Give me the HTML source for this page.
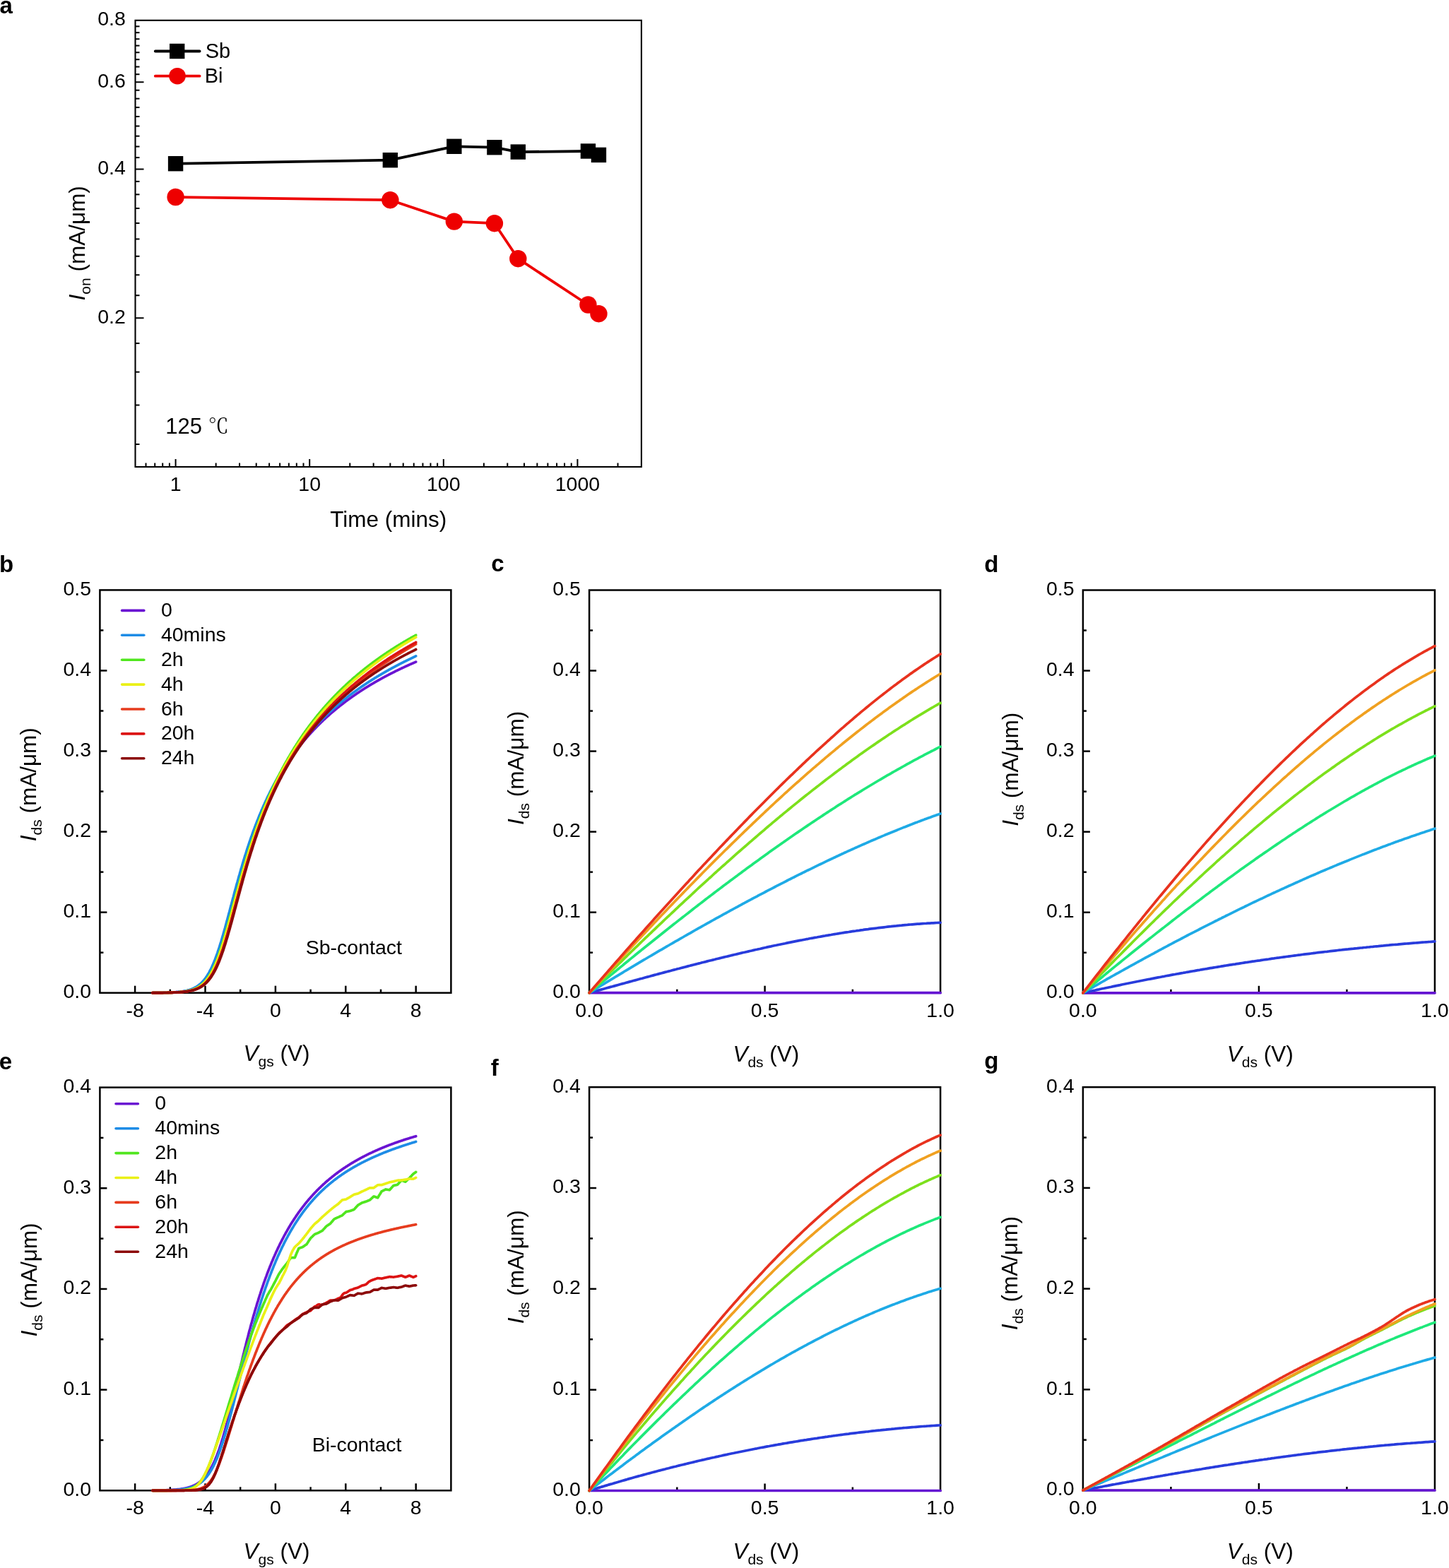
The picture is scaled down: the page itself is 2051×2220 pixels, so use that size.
<!DOCTYPE html>
<html><head><meta charset="utf-8"><title>Figure</title>
<style>
html,body{margin:0;padding:0;background:#fff;}
svg{display:block;}
</style></head>
<body>
<svg xmlns="http://www.w3.org/2000/svg" width="2051" height="2220" viewBox="0 0 2051 2220" font-family="'Liberation Sans', Arial, Helvetica, sans-serif" fill="#000">
<rect width="2051" height="2220" fill="#fff"/>
<rect x="191.5" y="28.8" width="716.4" height="632.2" fill="none" stroke="#000" stroke-width="2.1"/>
<line x1="191.5" y1="450.27" x2="203.5" y2="450.27" stroke="#000" stroke-width="2.0" stroke-linecap="butt"/>
<line x1="191.5" y1="239.53" x2="203.5" y2="239.53" stroke="#000" stroke-width="2.0" stroke-linecap="butt"/>
<line x1="191.5" y1="116.26" x2="203.5" y2="116.26" stroke="#000" stroke-width="2.0" stroke-linecap="butt"/>
<line x1="191.5" y1="418.23" x2="197.5" y2="418.23" stroke="#000" stroke-width="2.0" stroke-linecap="butt"/>
<line x1="191.5" y1="389.26" x2="197.5" y2="389.26" stroke="#000" stroke-width="2.0" stroke-linecap="butt"/>
<line x1="191.5" y1="362.8" x2="197.5" y2="362.8" stroke="#000" stroke-width="2.0" stroke-linecap="butt"/>
<line x1="191.5" y1="338.47" x2="197.5" y2="338.47" stroke="#000" stroke-width="2.0" stroke-linecap="butt"/>
<line x1="191.5" y1="315.94" x2="197.5" y2="315.94" stroke="#000" stroke-width="2.0" stroke-linecap="butt"/>
<line x1="191.5" y1="294.96" x2="197.5" y2="294.96" stroke="#000" stroke-width="2.0" stroke-linecap="butt"/>
<line x1="191.5" y1="275.34" x2="197.5" y2="275.34" stroke="#000" stroke-width="2.0" stroke-linecap="butt"/>
<line x1="191.5" y1="256.91" x2="197.5" y2="256.91" stroke="#000" stroke-width="2.0" stroke-linecap="butt"/>
<line x1="191.5" y1="223.1" x2="197.5" y2="223.1" stroke="#000" stroke-width="2.0" stroke-linecap="butt"/>
<line x1="191.5" y1="207.5" x2="197.5" y2="207.5" stroke="#000" stroke-width="2.0" stroke-linecap="butt"/>
<line x1="191.5" y1="192.67" x2="197.5" y2="192.67" stroke="#000" stroke-width="2.0" stroke-linecap="butt"/>
<line x1="191.5" y1="178.52" x2="197.5" y2="178.52" stroke="#000" stroke-width="2.0" stroke-linecap="butt"/>
<line x1="191.5" y1="165.01" x2="197.5" y2="165.01" stroke="#000" stroke-width="2.0" stroke-linecap="butt"/>
<line x1="191.5" y1="152.07" x2="197.5" y2="152.07" stroke="#000" stroke-width="2.0" stroke-linecap="butt"/>
<line x1="191.5" y1="139.66" x2="197.5" y2="139.66" stroke="#000" stroke-width="2.0" stroke-linecap="butt"/>
<line x1="191.5" y1="127.74" x2="197.5" y2="127.74" stroke="#000" stroke-width="2.0" stroke-linecap="butt"/>
<line x1="191.5" y1="105.21" x2="197.5" y2="105.21" stroke="#000" stroke-width="2.0" stroke-linecap="butt"/>
<line x1="191.5" y1="94.54" x2="197.5" y2="94.54" stroke="#000" stroke-width="2.0" stroke-linecap="butt"/>
<line x1="191.5" y1="84.23" x2="197.5" y2="84.23" stroke="#000" stroke-width="2.0" stroke-linecap="butt"/>
<line x1="191.5" y1="74.26" x2="197.5" y2="74.26" stroke="#000" stroke-width="2.0" stroke-linecap="butt"/>
<line x1="191.5" y1="64.61" x2="197.5" y2="64.61" stroke="#000" stroke-width="2.0" stroke-linecap="butt"/>
<line x1="191.5" y1="55.25" x2="197.5" y2="55.25" stroke="#000" stroke-width="2.0" stroke-linecap="butt"/>
<line x1="191.5" y1="46.18" x2="197.5" y2="46.18" stroke="#000" stroke-width="2.0" stroke-linecap="butt"/>
<line x1="191.5" y1="37.36" x2="197.5" y2="37.36" stroke="#000" stroke-width="2.0" stroke-linecap="butt"/>
<line x1="191.5" y1="486.08" x2="197.5" y2="486.08" stroke="#000" stroke-width="2.0" stroke-linecap="butt"/>
<line x1="191.5" y1="526.67" x2="197.5" y2="526.67" stroke="#000" stroke-width="2.0" stroke-linecap="butt"/>
<line x1="191.5" y1="573.54" x2="197.5" y2="573.54" stroke="#000" stroke-width="2.0" stroke-linecap="butt"/>
<line x1="191.5" y1="628.97" x2="197.5" y2="628.97" stroke="#000" stroke-width="2.0" stroke-linecap="butt"/>
<text x="177.9" y="457.87" font-size="28.5" text-anchor="end">0.2</text>
<text x="177.9" y="247.13" font-size="28.5" text-anchor="end">0.4</text>
<text x="177.9" y="123.86" font-size="28.5" text-anchor="end">0.6</text>
<text x="177.9" y="36.4" font-size="28.5" text-anchor="end">0.8</text>
<line x1="248.58" y1="661" x2="248.58" y2="650" stroke="#000" stroke-width="2.0" stroke-linecap="butt"/>
<line x1="438.2" y1="661" x2="438.2" y2="650" stroke="#000" stroke-width="2.0" stroke-linecap="butt"/>
<line x1="627.81" y1="661" x2="627.81" y2="650" stroke="#000" stroke-width="2.0" stroke-linecap="butt"/>
<line x1="817.43" y1="661" x2="817.43" y2="650" stroke="#000" stroke-width="2.0" stroke-linecap="butt"/>
<line x1="206.51" y1="661" x2="206.51" y2="655.5" stroke="#000" stroke-width="2.0" stroke-linecap="butt"/>
<line x1="219.21" y1="661" x2="219.21" y2="655.5" stroke="#000" stroke-width="2.0" stroke-linecap="butt"/>
<line x1="230.2" y1="661" x2="230.2" y2="655.5" stroke="#000" stroke-width="2.0" stroke-linecap="butt"/>
<line x1="239.9" y1="661" x2="239.9" y2="655.5" stroke="#000" stroke-width="2.0" stroke-linecap="butt"/>
<line x1="305.66" y1="661" x2="305.66" y2="655.5" stroke="#000" stroke-width="2.0" stroke-linecap="butt"/>
<line x1="339.05" y1="661" x2="339.05" y2="655.5" stroke="#000" stroke-width="2.0" stroke-linecap="butt"/>
<line x1="362.74" y1="661" x2="362.74" y2="655.5" stroke="#000" stroke-width="2.0" stroke-linecap="butt"/>
<line x1="381.12" y1="661" x2="381.12" y2="655.5" stroke="#000" stroke-width="2.0" stroke-linecap="butt"/>
<line x1="396.13" y1="661" x2="396.13" y2="655.5" stroke="#000" stroke-width="2.0" stroke-linecap="butt"/>
<line x1="408.82" y1="661" x2="408.82" y2="655.5" stroke="#000" stroke-width="2.0" stroke-linecap="butt"/>
<line x1="419.82" y1="661" x2="419.82" y2="655.5" stroke="#000" stroke-width="2.0" stroke-linecap="butt"/>
<line x1="429.52" y1="661" x2="429.52" y2="655.5" stroke="#000" stroke-width="2.0" stroke-linecap="butt"/>
<line x1="495.28" y1="661" x2="495.28" y2="655.5" stroke="#000" stroke-width="2.0" stroke-linecap="butt"/>
<line x1="528.67" y1="661" x2="528.67" y2="655.5" stroke="#000" stroke-width="2.0" stroke-linecap="butt"/>
<line x1="552.36" y1="661" x2="552.36" y2="655.5" stroke="#000" stroke-width="2.0" stroke-linecap="butt"/>
<line x1="570.73" y1="661" x2="570.73" y2="655.5" stroke="#000" stroke-width="2.0" stroke-linecap="butt"/>
<line x1="585.75" y1="661" x2="585.75" y2="655.5" stroke="#000" stroke-width="2.0" stroke-linecap="butt"/>
<line x1="598.44" y1="661" x2="598.44" y2="655.5" stroke="#000" stroke-width="2.0" stroke-linecap="butt"/>
<line x1="609.44" y1="661" x2="609.44" y2="655.5" stroke="#000" stroke-width="2.0" stroke-linecap="butt"/>
<line x1="619.14" y1="661" x2="619.14" y2="655.5" stroke="#000" stroke-width="2.0" stroke-linecap="butt"/>
<line x1="684.89" y1="661" x2="684.89" y2="655.5" stroke="#000" stroke-width="2.0" stroke-linecap="butt"/>
<line x1="718.28" y1="661" x2="718.28" y2="655.5" stroke="#000" stroke-width="2.0" stroke-linecap="butt"/>
<line x1="741.97" y1="661" x2="741.97" y2="655.5" stroke="#000" stroke-width="2.0" stroke-linecap="butt"/>
<line x1="760.35" y1="661" x2="760.35" y2="655.5" stroke="#000" stroke-width="2.0" stroke-linecap="butt"/>
<line x1="775.36" y1="661" x2="775.36" y2="655.5" stroke="#000" stroke-width="2.0" stroke-linecap="butt"/>
<line x1="788.06" y1="661" x2="788.06" y2="655.5" stroke="#000" stroke-width="2.0" stroke-linecap="butt"/>
<line x1="799.05" y1="661" x2="799.05" y2="655.5" stroke="#000" stroke-width="2.0" stroke-linecap="butt"/>
<line x1="808.75" y1="661" x2="808.75" y2="655.5" stroke="#000" stroke-width="2.0" stroke-linecap="butt"/>
<line x1="874.51" y1="661" x2="874.51" y2="655.5" stroke="#000" stroke-width="2.0" stroke-linecap="butt"/>
<text x="248.58" y="695.2" font-size="28.5" text-anchor="middle">1</text>
<text x="438.2" y="695.2" font-size="28.5" text-anchor="middle">10</text>
<text x="627.81" y="695.2" font-size="28.5" text-anchor="middle">100</text>
<text x="817.43" y="695.2" font-size="28.5" text-anchor="middle">1000</text>
<text x="549.7" y="745.8" font-size="31.5" text-anchor="middle">Time (mins)</text>
<text transform="translate(120,344.3) rotate(-90)" font-size="31.5" text-anchor="middle"><tspan font-style="italic">I</tspan><tspan font-size="21" dy="8">on</tspan><tspan dy="-8"> (mA/μm)</tspan></text>
<text x="-0.5" y="18.7" font-size="33" font-weight="bold">a</text>
<polyline points="248.6,279.0 552.4,283.2 642.8,313.6 699.9,316.2 733.3,366.2 832.4,431.5 847.5,444.2" fill="none" stroke="#EE0000" stroke-width="3.8" stroke-linejoin="round" stroke-linecap="round"/>
<polyline points="248.6,231.7 552.4,226.7 642.8,207.3 699.9,208.7 733.3,215.1 832.4,214.0 847.5,219.4" fill="none" stroke="#000" stroke-width="3.8" stroke-linejoin="round" stroke-linecap="round"/>
<rect x="237.88" y="221" width="21.4" height="21.4" fill="#000"/>
<rect x="541.66" y="216" width="21.4" height="21.4" fill="#000"/>
<rect x="632.13" y="196.6" width="21.4" height="21.4" fill="#000"/>
<rect x="689.21" y="198" width="21.4" height="21.4" fill="#000"/>
<rect x="722.6" y="204.4" width="21.4" height="21.4" fill="#000"/>
<rect x="821.74" y="203.3" width="21.4" height="21.4" fill="#000"/>
<rect x="836.76" y="208.7" width="21.4" height="21.4" fill="#000"/>
<circle cx="248.58" cy="279" r="12.2" fill="#EE0000"/>
<circle cx="552.36" cy="283.2" r="12.2" fill="#EE0000"/>
<circle cx="642.83" cy="313.6" r="12.2" fill="#EE0000"/>
<circle cx="699.91" cy="316.2" r="12.2" fill="#EE0000"/>
<circle cx="733.3" cy="366.2" r="12.2" fill="#EE0000"/>
<circle cx="832.44" cy="431.5" r="12.2" fill="#EE0000"/>
<circle cx="847.46" cy="444.2" r="12.2" fill="#EE0000"/>
<line x1="219.8" y1="72.5" x2="282.6" y2="72.5" stroke="#000" stroke-width="3.8" stroke-linecap="round"/>
<rect x="240.0" y="61.8" width="21.4" height="21.4" fill="#000"/>
<text x="290.7" y="82" font-size="29" text-anchor="start">Sb</text>
<line x1="219.8" y1="107.7" x2="282.6" y2="107.7" stroke="#EE0000" stroke-width="3.8" stroke-linecap="round"/>
<circle cx="251" cy="107.7" r="11.8" fill="#EE0000"/>
<text x="289.7" y="116.9" font-size="29" text-anchor="start">Bi</text>
<text x="234.3" y="614.2" font-size="31">125 <tspan font-family="'Noto Serif CJK SC', 'Noto Sans CJK SC', serif" font-size="29">℃</tspan></text>
<rect x="141.4" y="835.4" width="497" height="570.3" fill="none" stroke="#000" stroke-width="2.5"/>
<line x1="141.4" y1="1291.64" x2="151.4" y2="1291.64" stroke="#000" stroke-width="2.5" stroke-linecap="butt"/>
<line x1="141.4" y1="1177.58" x2="151.4" y2="1177.58" stroke="#000" stroke-width="2.5" stroke-linecap="butt"/>
<line x1="141.4" y1="1063.52" x2="151.4" y2="1063.52" stroke="#000" stroke-width="2.5" stroke-linecap="butt"/>
<line x1="141.4" y1="949.46" x2="151.4" y2="949.46" stroke="#000" stroke-width="2.5" stroke-linecap="butt"/>
<line x1="141.4" y1="1348.67" x2="146.4" y2="1348.67" stroke="#000" stroke-width="2.5" stroke-linecap="butt"/>
<line x1="141.4" y1="1234.61" x2="146.4" y2="1234.61" stroke="#000" stroke-width="2.5" stroke-linecap="butt"/>
<line x1="141.4" y1="1120.55" x2="146.4" y2="1120.55" stroke="#000" stroke-width="2.5" stroke-linecap="butt"/>
<line x1="141.4" y1="1006.49" x2="146.4" y2="1006.49" stroke="#000" stroke-width="2.5" stroke-linecap="butt"/>
<line x1="141.4" y1="892.43" x2="146.4" y2="892.43" stroke="#000" stroke-width="2.5" stroke-linecap="butt"/>
<text x="129.1" y="1413.1" font-size="28.5" text-anchor="end">0.0</text>
<text x="129.1" y="1299.04" font-size="28.5" text-anchor="end">0.1</text>
<text x="129.1" y="1184.98" font-size="28.5" text-anchor="end">0.2</text>
<text x="129.1" y="1070.92" font-size="28.5" text-anchor="end">0.3</text>
<text x="129.1" y="956.86" font-size="28.5" text-anchor="end">0.4</text>
<text x="129.1" y="842.8" font-size="28.5" text-anchor="end">0.5</text>
<line x1="191.1" y1="1405.7" x2="191.1" y2="1395.7" stroke="#000" stroke-width="2.5" stroke-linecap="butt"/>
<line x1="290.5" y1="1405.7" x2="290.5" y2="1395.7" stroke="#000" stroke-width="2.5" stroke-linecap="butt"/>
<line x1="389.9" y1="1405.7" x2="389.9" y2="1395.7" stroke="#000" stroke-width="2.5" stroke-linecap="butt"/>
<line x1="489.3" y1="1405.7" x2="489.3" y2="1395.7" stroke="#000" stroke-width="2.5" stroke-linecap="butt"/>
<line x1="588.7" y1="1405.7" x2="588.7" y2="1395.7" stroke="#000" stroke-width="2.5" stroke-linecap="butt"/>
<line x1="240.8" y1="1405.7" x2="240.8" y2="1400.7" stroke="#000" stroke-width="2.5" stroke-linecap="butt"/>
<line x1="340.2" y1="1405.7" x2="340.2" y2="1400.7" stroke="#000" stroke-width="2.5" stroke-linecap="butt"/>
<line x1="439.6" y1="1405.7" x2="439.6" y2="1400.7" stroke="#000" stroke-width="2.5" stroke-linecap="butt"/>
<line x1="539" y1="1405.7" x2="539" y2="1400.7" stroke="#000" stroke-width="2.5" stroke-linecap="butt"/>
<text x="191.1" y="1439.5" font-size="28.5" text-anchor="middle">-8</text>
<text x="290.5" y="1439.5" font-size="28.5" text-anchor="middle">-4</text>
<text x="389.9" y="1439.5" font-size="28.5" text-anchor="middle">0</text>
<text x="489.3" y="1439.5" font-size="28.5" text-anchor="middle">4</text>
<text x="588.7" y="1439.5" font-size="28.5" text-anchor="middle">8</text>
<text x="-1" y="809.7" font-size="33" font-weight="bold">b</text>
<text transform="translate(51.1,1110.7) rotate(-90)" font-size="31.5" text-anchor="middle"><tspan font-style="italic">I</tspan><tspan font-size="21" dy="8">ds</tspan><tspan dy="-8"> (mA/μm)</tspan></text>
<text x="344.5" y="1502.3" font-size="31.5"><tspan font-style="italic">V</tspan><tspan font-size="21" dy="8">gs</tspan><tspan dy="-8"> (V)</tspan></text>
<text x="432.7" y="1351.4" font-size="28.5" text-anchor="start">Sb-contact</text>
<line x1="172.6" y1="864.4" x2="203.8" y2="864.4" stroke="#6A14D2" stroke-width="3.6" stroke-linecap="round"/>
<text x="227.9" y="872.9" font-size="28.5" text-anchor="start">0</text>
<line x1="172.6" y1="899.3" x2="203.8" y2="899.3" stroke="#1E8CE6" stroke-width="3.6" stroke-linecap="round"/>
<text x="227.9" y="907.8" font-size="28.5" text-anchor="start">40mins</text>
<line x1="172.6" y1="934.2" x2="203.8" y2="934.2" stroke="#50E61E" stroke-width="3.6" stroke-linecap="round"/>
<text x="227.9" y="942.7" font-size="28.5" text-anchor="start">2h</text>
<line x1="172.6" y1="969.1" x2="203.8" y2="969.1" stroke="#EAF016" stroke-width="3.6" stroke-linecap="round"/>
<text x="227.9" y="977.6" font-size="28.5" text-anchor="start">4h</text>
<line x1="172.6" y1="1004" x2="203.8" y2="1004" stroke="#E63C1E" stroke-width="3.6" stroke-linecap="round"/>
<text x="227.9" y="1012.5" font-size="28.5" text-anchor="start">6h</text>
<line x1="172.6" y1="1038.9" x2="203.8" y2="1038.9" stroke="#DC1414" stroke-width="3.6" stroke-linecap="round"/>
<text x="227.9" y="1047.4" font-size="28.5" text-anchor="start">20h</text>
<line x1="172.6" y1="1073.8" x2="203.8" y2="1073.8" stroke="#8C0A0A" stroke-width="3.6" stroke-linecap="round"/>
<text x="227.9" y="1082.3" font-size="28.5" text-anchor="start">24h</text>
<polyline points="215.9,1405.6 216.6,1405.6 217.2,1405.6 217.8,1405.6 218.4,1405.6 219.1,1405.6 219.7,1405.6 220.3,1405.6 220.9,1405.6 221.5,1405.6 222.2,1405.6 222.8,1405.6 223.4,1405.6 224.0,1405.6 224.6,1405.5 225.3,1405.5 225.9,1405.5 226.5,1405.5 227.1,1405.5 227.8,1405.5 228.4,1405.5 229.0,1405.5 229.6,1405.5 230.2,1405.5 230.9,1405.5 231.5,1405.4 232.1,1405.4 232.7,1405.4 233.3,1405.4 234.0,1405.4 234.6,1405.4 235.2,1405.4 235.8,1405.3 236.5,1405.3 237.1,1405.3 237.7,1405.3 238.3,1405.3 238.9,1405.3 239.6,1405.2 240.2,1405.2 240.8,1405.2 241.4,1405.2 242.0,1405.1 242.7,1405.1 243.3,1405.1 243.9,1405.0 244.5,1405.0 245.1,1405.0 245.8,1404.9 246.4,1404.9 247.0,1404.9 247.6,1404.8 248.3,1404.8 248.9,1404.7 249.5,1404.7 250.1,1404.7 250.7,1404.6 251.4,1404.6 252.0,1404.5 252.6,1404.4 253.2,1404.4 253.8,1404.3 254.5,1404.3 255.1,1404.2 255.7,1404.1 256.3,1404.0 257.0,1404.0 257.6,1403.9 258.2,1403.8 258.8,1403.7 259.4,1403.6 260.1,1403.5 260.7,1403.4 261.3,1403.3 261.9,1403.2 262.5,1403.1 263.2,1402.9 263.8,1402.8 264.4,1402.7 265.0,1402.5 265.6,1402.4 266.3,1402.2 266.9,1402.1 267.5,1401.9 268.1,1401.7 268.8,1401.5 269.4,1401.3 270.0,1401.1 270.6,1400.9 271.2,1400.7 271.9,1400.5 272.5,1400.2 273.1,1400.0 273.7,1399.7 274.3,1399.4 275.0,1399.1 275.6,1398.8 276.2,1398.5 276.8,1398.2 277.5,1397.9 278.1,1397.5 278.7,1397.1 279.3,1396.8 279.9,1396.4 280.6,1395.9 281.2,1395.5 281.8,1395.1 282.4,1394.6 283.0,1394.1 283.7,1393.6 284.3,1393.1 284.9,1392.5 285.5,1391.9 286.2,1391.3 286.8,1390.7 287.4,1390.1 288.0,1389.4 288.6,1388.7 289.3,1388.0 289.9,1387.3 290.5,1386.5 291.1,1385.7 291.7,1384.9 292.4,1384.0 293.0,1383.1 293.6,1382.2 294.2,1381.2 294.8,1380.3 295.5,1379.3 296.1,1378.2 296.7,1377.1 297.3,1376.0 298.0,1374.9 298.6,1373.7 299.2,1372.5 299.8,1371.2 300.4,1369.9 301.1,1368.6 301.7,1367.3 302.3,1365.9 302.9,1364.4 303.5,1363.0 304.2,1361.5 304.8,1359.9 305.4,1358.3 306.0,1356.7 306.7,1355.1 307.3,1353.4 307.9,1351.7 308.5,1349.9 309.1,1348.1 309.8,1346.3 310.4,1344.5 311.0,1342.6 311.6,1340.7 312.2,1338.7 312.9,1336.7 313.5,1334.7 314.1,1332.7 314.7,1330.6 315.4,1328.5 316.0,1326.4 316.6,1324.3 317.2,1322.1 317.8,1319.9 318.5,1317.7 319.1,1315.5 319.7,1313.3 320.3,1311.0 320.9,1308.8 321.6,1306.5 322.2,1304.2 322.8,1301.9 323.4,1299.6 324.0,1297.3 324.7,1294.9 325.3,1292.6 325.9,1290.2 326.5,1287.9 327.2,1285.6 327.8,1283.2 328.4,1280.9 329.0,1278.5 329.6,1276.2 330.3,1273.8 330.9,1271.5 331.5,1269.1 332.1,1266.8 332.7,1264.5 333.4,1262.2 334.0,1259.8 334.6,1257.5 335.2,1255.2 335.9,1253.0 336.5,1250.7 337.1,1248.4 337.7,1246.2 338.3,1243.9 339.0,1241.7 339.6,1239.5 340.2,1237.3 340.8,1235.1 341.4,1232.9 342.1,1230.8 342.7,1228.6 343.3,1226.5 343.9,1224.4 344.5,1222.3 345.2,1220.2 345.8,1218.2 346.4,1216.1 347.0,1214.1 347.7,1212.1 348.3,1210.1 348.9,1208.1 349.5,1206.1 350.1,1204.1 350.8,1202.2 351.4,1200.3 352.0,1198.4 352.6,1196.5 353.2,1194.6 353.9,1192.8 354.5,1190.9 355.1,1189.1 355.7,1187.3 356.4,1185.5 357.0,1183.7 357.6,1181.9 358.2,1180.2 358.8,1178.5 359.5,1176.8 360.1,1175.0 360.7,1173.4 361.3,1171.7 361.9,1170.0 362.6,1168.4 363.2,1166.8 363.8,1165.1 364.4,1163.5 365.1,1162.0 365.7,1160.4 366.3,1158.8 366.9,1157.3 367.5,1155.7 368.2,1154.2 368.8,1152.7 369.4,1151.2 370.0,1149.7 370.6,1148.3 371.3,1146.8 371.9,1145.4 372.5,1144.0 373.1,1142.5 373.7,1141.1 374.4,1139.7 375.0,1138.4 375.6,1137.0 376.2,1135.6 376.9,1134.3 377.5,1132.9 378.1,1131.6 378.7,1130.3 379.3,1129.0 380.0,1127.7 380.6,1126.4 381.2,1125.1 381.8,1123.9 382.4,1122.6 383.1,1121.4 383.7,1120.1 384.3,1118.9 384.9,1117.7 385.6,1116.5 386.2,1115.3 386.8,1114.1 387.4,1112.9 388.0,1111.8 388.7,1110.6 389.3,1109.5 389.9,1108.3 390.5,1107.2 391.1,1106.1 391.8,1105.0 392.4,1103.8 393.0,1102.7 393.6,1101.7 394.2,1100.6 394.9,1099.5 395.5,1098.4 396.1,1097.4 396.7,1096.3 397.4,1095.3 398.0,1094.2 398.6,1093.2 399.2,1092.2 399.8,1091.2 400.5,1090.2 401.1,1089.2 401.7,1088.2 402.3,1087.2 402.9,1086.2 403.6,1085.2 404.2,1084.3 404.8,1083.3 405.4,1082.3 406.1,1081.4 406.7,1080.5 407.3,1079.5 407.9,1078.6 408.5,1077.7 409.2,1076.8 409.8,1075.8 410.4,1074.9 411.0,1074.0 411.6,1073.2 412.3,1072.3 412.9,1071.4 413.5,1070.5 414.1,1069.6 414.8,1068.8 415.4,1067.9 416.0,1067.1 416.6,1066.2 417.2,1065.4 417.9,1064.5 418.5,1063.7 419.1,1062.9 419.7,1062.1 420.3,1061.2 421.0,1060.4 421.6,1059.6 422.2,1058.8 422.8,1058.0 423.4,1057.2 424.1,1056.4 424.7,1055.7 425.3,1054.9 425.9,1054.1 426.6,1053.3 427.2,1052.6 427.8,1051.8 428.4,1051.0 429.0,1050.3 429.7,1049.5 430.3,1048.8 430.9,1048.1 431.5,1047.3 432.1,1046.6 432.8,1045.9 433.4,1045.2 434.0,1044.4 434.6,1043.7 435.3,1043.0 435.9,1042.3 436.5,1041.6 437.1,1040.9 437.7,1040.2 438.4,1039.5 439.0,1038.8 439.6,1038.1 440.2,1037.5 440.8,1036.8 441.5,1036.1 442.1,1035.5 442.7,1034.8 443.3,1034.1 443.9,1033.5 444.6,1032.8 445.2,1032.2 445.8,1031.5 446.4,1030.9 447.1,1030.2 447.7,1029.6 448.3,1029.0 448.9,1028.3 449.5,1027.7 450.2,1027.1 450.8,1026.5 451.4,1025.8 452.0,1025.2 452.6,1024.6 453.3,1024.0 453.9,1023.4 454.5,1022.8 455.1,1022.2 455.8,1021.6 456.4,1021.0 457.0,1020.4 457.6,1019.8 458.2,1019.2 458.9,1018.6 459.5,1018.1 460.1,1017.5 460.7,1016.9 461.3,1016.3 462.0,1015.8 462.6,1015.2 463.2,1014.6 463.8,1014.1 464.5,1013.5 465.1,1013.0 465.7,1012.4 466.3,1011.9 466.9,1011.3 467.6,1010.8 468.2,1010.2 468.8,1009.7 469.4,1009.2 470.0,1008.6 470.7,1008.1 471.3,1007.6 471.9,1007.0 472.5,1006.5 473.1,1006.0 473.8,1005.5 474.4,1005.0 475.0,1004.4 475.6,1003.9 476.3,1003.4 476.9,1002.9 477.5,1002.4 478.1,1001.9 478.7,1001.4 479.4,1000.9 480.0,1000.4 480.6,999.9 481.2,999.4 481.8,998.9 482.5,998.4 483.1,997.9 483.7,997.5 484.3,997.0 485.0,996.5 485.6,996.0 486.2,995.5 486.8,995.1 487.4,994.6 488.1,994.1 488.7,993.7 489.3,993.2 489.9,992.7 490.5,992.3 491.2,991.8 491.8,991.3 492.4,990.9 493.0,990.4 493.6,990.0 494.3,989.5 494.9,989.1 495.5,988.6 496.1,988.2 496.8,987.7 497.4,987.3 498.0,986.9 498.6,986.4 499.2,986.0 499.9,985.5 500.5,985.1 501.1,984.7 501.7,984.3 502.3,983.8 503.0,983.4 503.6,983.0 504.2,982.5 504.8,982.1 505.5,981.7 506.1,981.3 506.7,980.9 507.3,980.5 507.9,980.0 508.6,979.6 509.2,979.2 509.8,978.8 510.4,978.4 511.0,978.0 511.7,977.6 512.3,977.2 512.9,976.8 513.5,976.4 514.1,976.0 514.8,975.6 515.4,975.2 516.0,974.8 516.6,974.4 517.3,974.0 517.9,973.7 518.5,973.3 519.1,972.9 519.7,972.5 520.4,972.1 521.0,971.7 521.6,971.4 522.2,971.0 522.8,970.6 523.5,970.2 524.1,969.8 524.7,969.5 525.3,969.1 526.0,968.7 526.6,968.4 527.2,968.0 527.8,967.6 528.4,967.3 529.1,966.9 529.7,966.5 530.3,966.2 530.9,965.8 531.5,965.5 532.2,965.1 532.8,964.7 533.4,964.4 534.0,964.0 534.7,963.7 535.3,963.3 535.9,963.0 536.5,962.6 537.1,962.3 537.8,961.9 538.4,961.6 539.0,961.3 539.6,960.9 540.2,960.6 540.9,960.2 541.5,959.9 542.1,959.5 542.7,959.2 543.3,958.9 544.0,958.5 544.6,958.2 545.2,957.9 545.8,957.5 546.5,957.2 547.1,956.9 547.7,956.6 548.3,956.2 548.9,955.9 549.6,955.6 550.2,955.3 550.8,954.9 551.4,954.6 552.0,954.3 552.7,954.0 553.3,953.7 553.9,953.3 554.5,953.0 555.2,952.7 555.8,952.4 556.4,952.1 557.0,951.8 557.6,951.5 558.3,951.2 558.9,950.8 559.5,950.5 560.1,950.2 560.7,949.9 561.4,949.6 562.0,949.3 562.6,949.0 563.2,948.7 563.9,948.4 564.5,948.1 565.1,947.8 565.7,947.5 566.3,947.2 567.0,946.9 567.6,946.6 568.2,946.3 568.8,946.0 569.4,945.7 570.1,945.4 570.7,945.2 571.3,944.9 571.9,944.6 572.5,944.3 573.2,944.0 573.8,943.7 574.4,943.4 575.0,943.1 575.7,942.9 576.3,942.6 576.9,942.3 577.5,942.0 578.1,941.7 578.8,941.5 579.4,941.2 580.0,940.9 580.6,940.6 581.2,940.3 581.9,940.1 582.5,939.8 583.1,939.5 583.7,939.3 584.4,939.0 585.0,938.7 585.6,938.4 586.2,938.2 586.8,937.9 587.5,937.6 588.1,937.4 588.7,937.1" fill="none" stroke="#6A14D2" stroke-width="3.7" stroke-linejoin="round" stroke-linecap="round"/>
<polyline points="215.9,1405.6 216.6,1405.6 217.2,1405.6 217.8,1405.6 218.4,1405.6 219.1,1405.6 219.7,1405.6 220.3,1405.6 220.9,1405.6 221.5,1405.6 222.2,1405.6 222.8,1405.6 223.4,1405.6 224.0,1405.6 224.6,1405.6 225.3,1405.5 225.9,1405.5 226.5,1405.5 227.1,1405.5 227.8,1405.5 228.4,1405.5 229.0,1405.5 229.6,1405.5 230.2,1405.5 230.9,1405.5 231.5,1405.4 232.1,1405.4 232.7,1405.4 233.3,1405.4 234.0,1405.4 234.6,1405.4 235.2,1405.4 235.8,1405.3 236.5,1405.3 237.1,1405.3 237.7,1405.3 238.3,1405.3 238.9,1405.2 239.6,1405.2 240.2,1405.2 240.8,1405.2 241.4,1405.2 242.0,1405.1 242.7,1405.1 243.3,1405.1 243.9,1405.0 244.5,1405.0 245.1,1405.0 245.8,1404.9 246.4,1404.9 247.0,1404.9 247.6,1404.8 248.3,1404.8 248.9,1404.7 249.5,1404.7 250.1,1404.6 250.7,1404.6 251.4,1404.5 252.0,1404.5 252.6,1404.4 253.2,1404.3 253.8,1404.3 254.5,1404.2 255.1,1404.1 255.7,1404.1 256.3,1404.0 257.0,1403.9 257.6,1403.8 258.2,1403.7 258.8,1403.6 259.4,1403.5 260.1,1403.4 260.7,1403.3 261.3,1403.2 261.9,1403.1 262.5,1403.0 263.2,1402.8 263.8,1402.7 264.4,1402.5 265.0,1402.4 265.6,1402.2 266.3,1402.1 266.9,1401.9 267.5,1401.7 268.1,1401.5 268.8,1401.3 269.4,1401.1 270.0,1400.9 270.6,1400.7 271.2,1400.5 271.9,1400.2 272.5,1400.0 273.1,1399.7 273.7,1399.4 274.3,1399.1 275.0,1398.8 275.6,1398.5 276.2,1398.2 276.8,1397.8 277.5,1397.5 278.1,1397.1 278.7,1396.7 279.3,1396.3 279.9,1395.8 280.6,1395.4 281.2,1394.9 281.8,1394.5 282.4,1394.0 283.0,1393.4 283.7,1392.9 284.3,1392.3 284.9,1391.7 285.5,1391.1 286.2,1390.5 286.8,1389.8 287.4,1389.2 288.0,1388.4 288.6,1387.7 289.3,1386.9 289.9,1386.2 290.5,1385.3 291.1,1384.5 291.7,1383.6 292.4,1382.7 293.0,1381.8 293.6,1380.8 294.2,1379.8 294.8,1378.7 295.5,1377.7 296.1,1376.6 296.7,1375.4 297.3,1374.2 298.0,1373.0 298.6,1371.8 299.2,1370.5 299.8,1369.2 300.4,1367.8 301.1,1366.4 301.7,1365.0 302.3,1363.6 302.9,1362.1 303.5,1360.5 304.2,1358.9 304.8,1357.3 305.4,1355.7 306.0,1354.0 306.7,1352.3 307.3,1350.5 307.9,1348.8 308.5,1346.9 309.1,1345.1 309.8,1343.2 310.4,1341.3 311.0,1339.3 311.6,1337.4 312.2,1335.4 312.9,1333.3 313.5,1331.3 314.1,1329.2 314.7,1327.1 315.4,1324.9 316.0,1322.8 316.6,1320.6 317.2,1318.4 317.8,1316.2 318.5,1314.0 319.1,1311.7 319.7,1309.4 320.3,1307.2 320.9,1304.9 321.6,1302.6 322.2,1300.3 322.8,1298.0 323.4,1295.6 324.0,1293.3 324.7,1291.0 325.3,1288.6 325.9,1286.3 326.5,1283.9 327.2,1281.6 327.8,1279.3 328.4,1276.9 329.0,1274.6 329.6,1272.3 330.3,1269.9 330.9,1267.6 331.5,1265.3 332.1,1263.0 332.7,1260.7 333.4,1258.4 334.0,1256.1 334.6,1253.8 335.2,1251.6 335.9,1249.3 336.5,1247.1 337.1,1244.9 337.7,1242.6 338.3,1240.4 339.0,1238.3 339.6,1236.1 340.2,1233.9 340.8,1231.8 341.4,1229.6 342.1,1227.5 342.7,1225.4 343.3,1223.3 343.9,1221.3 344.5,1219.2 345.2,1217.2 345.8,1215.1 346.4,1213.1 347.0,1211.1 347.7,1209.1 348.3,1207.2 348.9,1205.2 349.5,1203.3 350.1,1201.4 350.8,1199.5 351.4,1197.6 352.0,1195.7 352.6,1193.9 353.2,1192.0 353.9,1190.2 354.5,1188.4 355.1,1186.6 355.7,1184.8 356.4,1183.1 357.0,1181.3 357.6,1179.6 358.2,1177.9 358.8,1176.2 359.5,1174.5 360.1,1172.8 360.7,1171.2 361.3,1169.5 361.9,1167.9 362.6,1166.3 363.2,1164.7 363.8,1163.1 364.4,1161.5 365.1,1159.9 365.7,1158.4 366.3,1156.8 366.9,1155.3 367.5,1153.8 368.2,1152.3 368.8,1150.8 369.4,1149.4 370.0,1147.9 370.6,1146.4 371.3,1145.0 371.9,1143.6 372.5,1142.2 373.1,1140.8 373.7,1139.4 374.4,1138.0 375.0,1136.6 375.6,1135.3 376.2,1133.9 376.9,1132.6 377.5,1131.2 378.1,1129.9 378.7,1128.6 379.3,1127.3 380.0,1126.0 380.6,1124.8 381.2,1123.5 381.8,1122.2 382.4,1121.0 383.1,1119.8 383.7,1118.5 384.3,1117.3 384.9,1116.1 385.6,1114.9 386.2,1113.7 386.8,1112.5 387.4,1111.3 388.0,1110.2 388.7,1109.0 389.3,1107.9 389.9,1106.7 390.5,1105.6 391.1,1104.5 391.8,1103.4 392.4,1102.2 393.0,1101.1 393.6,1100.0 394.2,1099.0 394.9,1097.9 395.5,1096.8 396.1,1095.7 396.7,1094.7 397.4,1093.6 398.0,1092.6 398.6,1091.6 399.2,1090.5 399.8,1089.5 400.5,1088.5 401.1,1087.5 401.7,1086.5 402.3,1085.5 402.9,1084.5 403.6,1083.5 404.2,1082.5 404.8,1081.6 405.4,1080.6 406.1,1079.7 406.7,1078.7 407.3,1077.8 407.9,1076.8 408.5,1075.9 409.2,1075.0 409.8,1074.0 410.4,1073.1 411.0,1072.2 411.6,1071.3 412.3,1070.4 412.9,1069.5 413.5,1068.6 414.1,1067.8 414.8,1066.9 415.4,1066.0 416.0,1065.1 416.6,1064.3 417.2,1063.4 417.9,1062.6 418.5,1061.7 419.1,1060.9 419.7,1060.0 420.3,1059.2 421.0,1058.4 421.6,1057.6 422.2,1056.7 422.8,1055.9 423.4,1055.1 424.1,1054.3 424.7,1053.5 425.3,1052.7 425.9,1051.9 426.6,1051.1 427.2,1050.4 427.8,1049.6 428.4,1048.8 429.0,1048.0 429.7,1047.3 430.3,1046.5 430.9,1045.8 431.5,1045.0 432.1,1044.3 432.8,1043.5 433.4,1042.8 434.0,1042.0 434.6,1041.3 435.3,1040.6 435.9,1039.8 436.5,1039.1 437.1,1038.4 437.7,1037.7 438.4,1037.0 439.0,1036.3 439.6,1035.6 440.2,1034.9 440.8,1034.2 441.5,1033.5 442.1,1032.8 442.7,1032.1 443.3,1031.4 443.9,1030.8 444.6,1030.1 445.2,1029.4 445.8,1028.7 446.4,1028.1 447.1,1027.4 447.7,1026.8 448.3,1026.1 448.9,1025.4 449.5,1024.8 450.2,1024.1 450.8,1023.5 451.4,1022.9 452.0,1022.2 452.6,1021.6 453.3,1021.0 453.9,1020.3 454.5,1019.7 455.1,1019.1 455.8,1018.5 456.4,1017.9 457.0,1017.2 457.6,1016.6 458.2,1016.0 458.9,1015.4 459.5,1014.8 460.1,1014.2 460.7,1013.6 461.3,1013.0 462.0,1012.4 462.6,1011.9 463.2,1011.3 463.8,1010.7 464.5,1010.1 465.1,1009.5 465.7,1008.9 466.3,1008.4 466.9,1007.8 467.6,1007.2 468.2,1006.7 468.8,1006.1 469.4,1005.5 470.0,1005.0 470.7,1004.4 471.3,1003.9 471.9,1003.3 472.5,1002.8 473.1,1002.2 473.8,1001.7 474.4,1001.2 475.0,1000.6 475.6,1000.1 476.3,999.5 476.9,999.0 477.5,998.5 478.1,998.0 478.7,997.4 479.4,996.9 480.0,996.4 480.6,995.9 481.2,995.3 481.8,994.8 482.5,994.3 483.1,993.8 483.7,993.3 484.3,992.8 485.0,992.3 485.6,991.8 486.2,991.3 486.8,990.8 487.4,990.3 488.1,989.8 488.7,989.3 489.3,988.8 489.9,988.3 490.5,987.8 491.2,987.4 491.8,986.9 492.4,986.4 493.0,985.9 493.6,985.4 494.3,985.0 494.9,984.5 495.5,984.0 496.1,983.5 496.8,983.1 497.4,982.6 498.0,982.2 498.6,981.7 499.2,981.2 499.9,980.8 500.5,980.3 501.1,979.9 501.7,979.4 502.3,979.0 503.0,978.5 503.6,978.1 504.2,977.6 504.8,977.2 505.5,976.7 506.1,976.3 506.7,975.8 507.3,975.4 507.9,975.0 508.6,974.5 509.2,974.1 509.8,973.7 510.4,973.2 511.0,972.8 511.7,972.4 512.3,971.9 512.9,971.5 513.5,971.1 514.1,970.7 514.8,970.3 515.4,969.8 516.0,969.4 516.6,969.0 517.3,968.6 517.9,968.2 518.5,967.8 519.1,967.4 519.7,966.9 520.4,966.5 521.0,966.1 521.6,965.7 522.2,965.3 522.8,964.9 523.5,964.5 524.1,964.1 524.7,963.7 525.3,963.3 526.0,962.9 526.6,962.5 527.2,962.2 527.8,961.8 528.4,961.4 529.1,961.0 529.7,960.6 530.3,960.2 530.9,959.8 531.5,959.4 532.2,959.1 532.8,958.7 533.4,958.3 534.0,957.9 534.7,957.6 535.3,957.2 535.9,956.8 536.5,956.4 537.1,956.1 537.8,955.7 538.4,955.3 539.0,955.0 539.6,954.6 540.2,954.2 540.9,953.9 541.5,953.5 542.1,953.1 542.7,952.8 543.3,952.4 544.0,952.1 544.6,951.7 545.2,951.3 545.8,951.0 546.5,950.6 547.1,950.3 547.7,949.9 548.3,949.6 548.9,949.2 549.6,948.9 550.2,948.5 550.8,948.2 551.4,947.8 552.0,947.5 552.7,947.2 553.3,946.8 553.9,946.5 554.5,946.1 555.2,945.8 555.8,945.5 556.4,945.1 557.0,944.8 557.6,944.5 558.3,944.1 558.9,943.8 559.5,943.5 560.1,943.1 560.7,942.8 561.4,942.5 562.0,942.1 562.6,941.8 563.2,941.5 563.9,941.2 564.5,940.8 565.1,940.5 565.7,940.2 566.3,939.9 567.0,939.6 567.6,939.2 568.2,938.9 568.8,938.6 569.4,938.3 570.1,938.0 570.7,937.7 571.3,937.4 571.9,937.0 572.5,936.7 573.2,936.4 573.8,936.1 574.4,935.8 575.0,935.5 575.7,935.2 576.3,934.9 576.9,934.6 577.5,934.3 578.1,934.0 578.8,933.7 579.4,933.4 580.0,933.1 580.6,932.8 581.2,932.5 581.9,932.2 582.5,931.9 583.1,931.6 583.7,931.3 584.4,931.0 585.0,930.7 585.6,930.4 586.2,930.1 586.8,929.8 587.5,929.5 588.1,929.2 588.7,928.9" fill="none" stroke="#1E8CE6" stroke-width="3.7" stroke-linejoin="round" stroke-linecap="round"/>
<polyline points="215.9,1405.6 216.6,1405.6 217.2,1405.6 217.8,1405.6 218.4,1405.6 219.1,1405.6 219.7,1405.6 220.3,1405.6 220.9,1405.6 221.5,1405.6 222.2,1405.6 222.8,1405.6 223.4,1405.6 224.0,1405.6 224.6,1405.6 225.3,1405.6 225.9,1405.6 226.5,1405.6 227.1,1405.6 227.8,1405.6 228.4,1405.6 229.0,1405.6 229.6,1405.5 230.2,1405.5 230.9,1405.5 231.5,1405.5 232.1,1405.5 232.7,1405.5 233.3,1405.5 234.0,1405.5 234.6,1405.5 235.2,1405.5 235.8,1405.4 236.5,1405.4 237.1,1405.4 237.7,1405.4 238.3,1405.4 238.9,1405.4 239.6,1405.4 240.2,1405.3 240.8,1405.3 241.4,1405.3 242.0,1405.3 242.7,1405.3 243.3,1405.2 243.9,1405.2 244.5,1405.2 245.1,1405.2 245.8,1405.1 246.4,1405.1 247.0,1405.1 247.6,1405.1 248.3,1405.0 248.9,1405.0 249.5,1405.0 250.1,1404.9 250.7,1404.9 251.4,1404.8 252.0,1404.8 252.6,1404.7 253.2,1404.7 253.8,1404.7 254.5,1404.6 255.1,1404.5 255.7,1404.5 256.3,1404.4 257.0,1404.4 257.6,1404.3 258.2,1404.2 258.8,1404.2 259.4,1404.1 260.1,1404.0 260.7,1403.9 261.3,1403.8 261.9,1403.7 262.5,1403.6 263.2,1403.5 263.8,1403.4 264.4,1403.3 265.0,1403.2 265.6,1403.1 266.3,1403.0 266.9,1402.8 267.5,1402.7 268.1,1402.5 268.8,1402.4 269.4,1402.2 270.0,1402.0 270.6,1401.9 271.2,1401.7 271.9,1401.5 272.5,1401.3 273.1,1401.1 273.7,1400.8 274.3,1400.6 275.0,1400.4 275.6,1400.1 276.2,1399.8 276.8,1399.6 277.5,1399.3 278.1,1399.0 278.7,1398.6 279.3,1398.3 279.9,1398.0 280.6,1397.6 281.2,1397.2 281.8,1396.8 282.4,1396.4 283.0,1396.0 283.7,1395.5 284.3,1395.1 284.9,1394.6 285.5,1394.1 286.2,1393.5 286.8,1393.0 287.4,1392.4 288.0,1391.8 288.6,1391.2 289.3,1390.5 289.9,1389.9 290.5,1389.2 291.1,1388.4 291.7,1387.7 292.4,1386.9 293.0,1386.1 293.6,1385.3 294.2,1384.4 294.8,1383.5 295.5,1382.6 296.1,1381.6 296.7,1380.6 297.3,1379.6 298.0,1378.5 298.6,1377.4 299.2,1376.3 299.8,1375.1 300.4,1373.9 301.1,1372.7 301.7,1371.4 302.3,1370.1 302.9,1368.7 303.5,1367.4 304.2,1365.9 304.8,1364.5 305.4,1363.0 306.0,1361.5 306.7,1359.9 307.3,1358.3 307.9,1356.7 308.5,1355.0 309.1,1353.3 309.8,1351.5 310.4,1349.8 311.0,1348.0 311.6,1346.1 312.2,1344.3 312.9,1342.4 313.5,1340.5 314.1,1338.5 314.7,1336.5 315.4,1334.5 316.0,1332.5 316.6,1330.4 317.2,1328.3 317.8,1326.2 318.5,1324.1 319.1,1322.0 319.7,1319.8 320.3,1317.6 320.9,1315.4 321.6,1313.2 322.2,1311.0 322.8,1308.7 323.4,1306.5 324.0,1304.2 324.7,1302.0 325.3,1299.7 325.9,1297.4 326.5,1295.1 327.2,1292.8 327.8,1290.5 328.4,1288.2 329.0,1285.9 329.6,1283.6 330.3,1281.3 330.9,1279.0 331.5,1276.7 332.1,1274.4 332.7,1272.1 333.4,1269.8 334.0,1267.5 334.6,1265.2 335.2,1263.0 335.9,1260.7 336.5,1258.4 337.1,1256.2 337.7,1253.9 338.3,1251.7 339.0,1249.5 339.6,1247.2 340.2,1245.0 340.8,1242.8 341.4,1240.6 342.1,1238.5 342.7,1236.3 343.3,1234.1 343.9,1232.0 344.5,1229.9 345.2,1227.8 345.8,1225.7 346.4,1223.6 347.0,1221.5 347.7,1219.4 348.3,1217.4 348.9,1215.3 349.5,1213.3 350.1,1211.3 350.8,1209.3 351.4,1207.3 352.0,1205.3 352.6,1203.3 353.2,1201.4 353.9,1199.5 354.5,1197.5 355.1,1195.6 355.7,1193.7 356.4,1191.8 357.0,1190.0 357.6,1188.1 358.2,1186.3 358.8,1184.4 359.5,1182.6 360.1,1180.8 360.7,1179.0 361.3,1177.3 361.9,1175.5 362.6,1173.7 363.2,1172.0 363.8,1170.3 364.4,1168.6 365.1,1166.8 365.7,1165.2 366.3,1163.5 366.9,1161.8 367.5,1160.2 368.2,1158.5 368.8,1156.9 369.4,1155.3 370.0,1153.6 370.6,1152.1 371.3,1150.5 371.9,1148.9 372.5,1147.3 373.1,1145.8 373.7,1144.2 374.4,1142.7 375.0,1141.2 375.6,1139.7 376.2,1138.2 376.9,1136.7 377.5,1135.2 378.1,1133.7 378.7,1132.3 379.3,1130.8 380.0,1129.4 380.6,1127.9 381.2,1126.5 381.8,1125.1 382.4,1123.7 383.1,1122.3 383.7,1120.9 384.3,1119.6 384.9,1118.2 385.6,1116.9 386.2,1115.5 386.8,1114.2 387.4,1112.8 388.0,1111.5 388.7,1110.2 389.3,1108.9 389.9,1107.6 390.5,1106.3 391.1,1105.0 391.8,1103.8 392.4,1102.5 393.0,1101.3 393.6,1100.0 394.2,1098.8 394.9,1097.6 395.5,1096.3 396.1,1095.1 396.7,1093.9 397.4,1092.7 398.0,1091.5 398.6,1090.3 399.2,1089.2 399.8,1088.0 400.5,1086.8 401.1,1085.7 401.7,1084.5 402.3,1083.4 402.9,1082.2 403.6,1081.1 404.2,1080.0 404.8,1078.9 405.4,1077.8 406.1,1076.7 406.7,1075.6 407.3,1074.5 407.9,1073.4 408.5,1072.3 409.2,1071.2 409.8,1070.2 410.4,1069.1 411.0,1068.1 411.6,1067.0 412.3,1066.0 412.9,1064.9 413.5,1063.9 414.1,1062.9 414.8,1061.9 415.4,1060.9 416.0,1059.8 416.6,1058.8 417.2,1057.9 417.9,1056.9 418.5,1055.9 419.1,1054.9 419.7,1053.9 420.3,1053.0 421.0,1052.0 421.6,1051.0 422.2,1050.1 422.8,1049.1 423.4,1048.2 424.1,1047.3 424.7,1046.3 425.3,1045.4 425.9,1044.5 426.6,1043.6 427.2,1042.6 427.8,1041.7 428.4,1040.8 429.0,1039.9 429.7,1039.0 430.3,1038.1 430.9,1037.3 431.5,1036.4 432.1,1035.5 432.8,1034.6 433.4,1033.8 434.0,1032.9 434.6,1032.0 435.3,1031.2 435.9,1030.3 436.5,1029.5 437.1,1028.6 437.7,1027.8 438.4,1027.0 439.0,1026.1 439.6,1025.3 440.2,1024.5 440.8,1023.7 441.5,1022.9 442.1,1022.1 442.7,1021.3 443.3,1020.5 443.9,1019.7 444.6,1018.9 445.2,1018.1 445.8,1017.3 446.4,1016.5 447.1,1015.7 447.7,1014.9 448.3,1014.2 448.9,1013.4 449.5,1012.6 450.2,1011.9 450.8,1011.1 451.4,1010.4 452.0,1009.6 452.6,1008.9 453.3,1008.1 453.9,1007.4 454.5,1006.7 455.1,1005.9 455.8,1005.2 456.4,1004.5 457.0,1003.7 457.6,1003.0 458.2,1002.3 458.9,1001.6 459.5,1000.9 460.1,1000.2 460.7,999.5 461.3,998.8 462.0,998.1 462.6,997.4 463.2,996.7 463.8,996.0 464.5,995.3 465.1,994.6 465.7,993.9 466.3,993.3 466.9,992.6 467.6,991.9 468.2,991.3 468.8,990.6 469.4,989.9 470.0,989.3 470.7,988.6 471.3,988.0 471.9,987.3 472.5,986.7 473.1,986.0 473.8,985.4 474.4,984.7 475.0,984.1 475.6,983.4 476.3,982.8 476.9,982.2 477.5,981.6 478.1,980.9 478.7,980.3 479.4,979.7 480.0,979.1 480.6,978.5 481.2,977.8 481.8,977.2 482.5,976.6 483.1,976.0 483.7,975.4 484.3,974.8 485.0,974.2 485.6,973.6 486.2,973.0 486.8,972.4 487.4,971.9 488.1,971.3 488.7,970.7 489.3,970.1 489.9,969.5 490.5,969.0 491.2,968.4 491.8,967.8 492.4,967.2 493.0,966.7 493.6,966.1 494.3,965.5 494.9,965.0 495.5,964.4 496.1,963.9 496.8,963.3 497.4,962.8 498.0,962.2 498.6,961.7 499.2,961.1 499.9,960.6 500.5,960.0 501.1,959.5 501.7,959.0 502.3,958.4 503.0,957.9 503.6,957.4 504.2,956.8 504.8,956.3 505.5,955.8 506.1,955.2 506.7,954.7 507.3,954.2 507.9,953.7 508.6,953.2 509.2,952.7 509.8,952.1 510.4,951.6 511.0,951.1 511.7,950.6 512.3,950.1 512.9,949.6 513.5,949.1 514.1,948.6 514.8,948.1 515.4,947.6 516.0,947.1 516.6,946.6 517.3,946.1 517.9,945.6 518.5,945.2 519.1,944.7 519.7,944.2 520.4,943.7 521.0,943.2 521.6,942.7 522.2,942.3 522.8,941.8 523.5,941.3 524.1,940.8 524.7,940.4 525.3,939.9 526.0,939.4 526.6,939.0 527.2,938.5 527.8,938.0 528.4,937.6 529.1,937.1 529.7,936.7 530.3,936.2 530.9,935.8 531.5,935.3 532.2,934.9 532.8,934.4 533.4,934.0 534.0,933.5 534.7,933.1 535.3,932.6 535.9,932.2 536.5,931.7 537.1,931.3 537.8,930.9 538.4,930.4 539.0,930.0 539.6,929.5 540.2,929.1 540.9,928.7 541.5,928.3 542.1,927.8 542.7,927.4 543.3,927.0 544.0,926.5 544.6,926.1 545.2,925.7 545.8,925.3 546.5,924.9 547.1,924.5 547.7,924.0 548.3,923.6 548.9,923.2 549.6,922.8 550.2,922.4 550.8,922.0 551.4,921.6 552.0,921.2 552.7,920.8 553.3,920.4 553.9,919.9 554.5,919.5 555.2,919.1 555.8,918.7 556.4,918.4 557.0,918.0 557.6,917.6 558.3,917.2 558.9,916.8 559.5,916.4 560.1,916.0 560.7,915.6 561.4,915.2 562.0,914.8 562.6,914.4 563.2,914.1 563.9,913.7 564.5,913.3 565.1,912.9 565.7,912.5 566.3,912.2 567.0,911.8 567.6,911.4 568.2,911.0 568.8,910.6 569.4,910.3 570.1,909.9 570.7,909.5 571.3,909.2 571.9,908.8 572.5,908.4 573.2,908.1 573.8,907.7 574.4,907.3 575.0,907.0 575.7,906.6 576.3,906.2 576.9,905.9 577.5,905.5 578.1,905.2 578.8,904.8 579.4,904.5 580.0,904.1 580.6,903.8 581.2,903.4 581.9,903.0 582.5,902.7 583.1,902.3 583.7,902.0 584.4,901.7 585.0,901.3 585.6,901.0 586.2,900.6 586.8,900.3 587.5,899.9 588.1,899.6 588.7,899.3" fill="none" stroke="#50E61E" stroke-width="3.7" stroke-linejoin="round" stroke-linecap="round"/>
<polyline points="215.9,1405.6 216.6,1405.6 217.2,1405.6 217.8,1405.6 218.4,1405.6 219.1,1405.6 219.7,1405.6 220.3,1405.6 220.9,1405.6 221.5,1405.6 222.2,1405.6 222.8,1405.6 223.4,1405.6 224.0,1405.6 224.6,1405.6 225.3,1405.6 225.9,1405.6 226.5,1405.6 227.1,1405.6 227.8,1405.6 228.4,1405.6 229.0,1405.6 229.6,1405.5 230.2,1405.5 230.9,1405.5 231.5,1405.5 232.1,1405.5 232.7,1405.5 233.3,1405.5 234.0,1405.5 234.6,1405.5 235.2,1405.5 235.8,1405.4 236.5,1405.4 237.1,1405.4 237.7,1405.4 238.3,1405.4 238.9,1405.4 239.6,1405.4 240.2,1405.3 240.8,1405.3 241.4,1405.3 242.0,1405.3 242.7,1405.3 243.3,1405.2 243.9,1405.2 244.5,1405.2 245.1,1405.2 245.8,1405.1 246.4,1405.1 247.0,1405.1 247.6,1405.1 248.3,1405.0 248.9,1405.0 249.5,1405.0 250.1,1404.9 250.7,1404.9 251.4,1404.8 252.0,1404.8 252.6,1404.8 253.2,1404.7 253.8,1404.7 254.5,1404.6 255.1,1404.6 255.7,1404.5 256.3,1404.4 257.0,1404.4 257.6,1404.3 258.2,1404.3 258.8,1404.2 259.4,1404.1 260.1,1404.0 260.7,1403.9 261.3,1403.9 261.9,1403.8 262.5,1403.7 263.2,1403.6 263.8,1403.5 264.4,1403.4 265.0,1403.3 265.6,1403.1 266.3,1403.0 266.9,1402.9 267.5,1402.7 268.1,1402.6 268.8,1402.5 269.4,1402.3 270.0,1402.1 270.6,1402.0 271.2,1401.8 271.9,1401.6 272.5,1401.4 273.1,1401.2 273.7,1401.0 274.3,1400.8 275.0,1400.5 275.6,1400.3 276.2,1400.0 276.8,1399.8 277.5,1399.5 278.1,1399.2 278.7,1398.9 279.3,1398.6 279.9,1398.2 280.6,1397.9 281.2,1397.5 281.8,1397.1 282.4,1396.7 283.0,1396.3 283.7,1395.9 284.3,1395.5 284.9,1395.0 285.5,1394.5 286.2,1394.0 286.8,1393.5 287.4,1392.9 288.0,1392.4 288.6,1391.8 289.3,1391.2 289.9,1390.5 290.5,1389.9 291.1,1389.2 291.7,1388.5 292.4,1387.7 293.0,1386.9 293.6,1386.1 294.2,1385.3 294.8,1384.5 295.5,1383.6 296.1,1382.7 296.7,1381.7 297.3,1380.7 298.0,1379.7 298.6,1378.7 299.2,1377.6 299.8,1376.5 300.4,1375.3 301.1,1374.1 301.7,1372.9 302.3,1371.7 302.9,1370.4 303.5,1369.0 304.2,1367.7 304.8,1366.3 305.4,1364.9 306.0,1363.4 306.7,1361.9 307.3,1360.3 307.9,1358.7 308.5,1357.1 309.1,1355.5 309.8,1353.8 310.4,1352.1 311.0,1350.3 311.6,1348.5 312.2,1346.7 312.9,1344.9 313.5,1343.0 314.1,1341.1 314.7,1339.1 315.4,1337.2 316.0,1335.2 316.6,1333.1 317.2,1331.1 317.8,1329.0 318.5,1326.9 319.1,1324.8 319.7,1322.6 320.3,1320.5 320.9,1318.3 321.6,1316.1 322.2,1313.9 322.8,1311.6 323.4,1309.4 324.0,1307.1 324.7,1304.9 325.3,1302.6 325.9,1300.3 326.5,1298.0 327.2,1295.7 327.8,1293.4 328.4,1291.1 329.0,1288.8 329.6,1286.5 330.3,1284.1 330.9,1281.8 331.5,1279.5 332.1,1277.2 332.7,1274.9 333.4,1272.5 334.0,1270.2 334.6,1267.9 335.2,1265.6 335.9,1263.3 336.5,1261.0 337.1,1258.8 337.7,1256.5 338.3,1254.2 339.0,1252.0 339.6,1249.7 340.2,1247.5 340.8,1245.3 341.4,1243.1 342.1,1240.9 342.7,1238.7 343.3,1236.5 343.9,1234.3 344.5,1232.2 345.2,1230.0 345.8,1227.9 346.4,1225.8 347.0,1223.7 347.7,1221.6 348.3,1219.5 348.9,1217.5 349.5,1215.4 350.1,1213.4 350.8,1211.4 351.4,1209.4 352.0,1207.4 352.6,1205.4 353.2,1203.4 353.9,1201.5 354.5,1199.6 355.1,1197.6 355.7,1195.7 356.4,1193.8 357.0,1192.0 357.6,1190.1 358.2,1188.2 358.8,1186.4 359.5,1184.6 360.1,1182.8 360.7,1181.0 361.3,1179.2 361.9,1177.4 362.6,1175.7 363.2,1173.9 363.8,1172.2 364.4,1170.5 365.1,1168.8 365.7,1167.1 366.3,1165.4 366.9,1163.7 367.5,1162.1 368.2,1160.4 368.8,1158.8 369.4,1157.2 370.0,1155.6 370.6,1154.0 371.3,1152.4 371.9,1150.8 372.5,1149.3 373.1,1147.7 373.7,1146.2 374.4,1144.7 375.0,1143.2 375.6,1141.7 376.2,1140.2 376.9,1138.7 377.5,1137.2 378.1,1135.8 378.7,1134.3 379.3,1132.9 380.0,1131.4 380.6,1130.0 381.2,1128.6 381.8,1127.2 382.4,1125.8 383.1,1124.4 383.7,1123.1 384.3,1121.7 384.9,1120.4 385.6,1119.0 386.2,1117.7 386.8,1116.4 387.4,1115.0 388.0,1113.7 388.7,1112.4 389.3,1111.2 389.9,1109.9 390.5,1108.6 391.1,1107.3 391.8,1106.1 392.4,1104.8 393.0,1103.6 393.6,1102.4 394.2,1101.1 394.9,1099.9 395.5,1098.7 396.1,1097.5 396.7,1096.3 397.4,1095.1 398.0,1094.0 398.6,1092.8 399.2,1091.6 399.8,1090.5 400.5,1089.3 401.1,1088.2 401.7,1087.0 402.3,1085.9 402.9,1084.8 403.6,1083.7 404.2,1082.6 404.8,1081.5 405.4,1080.4 406.1,1079.3 406.7,1078.2 407.3,1077.1 407.9,1076.1 408.5,1075.0 409.2,1073.9 409.8,1072.9 410.4,1071.8 411.0,1070.8 411.6,1069.8 412.3,1068.7 412.9,1067.7 413.5,1066.7 414.1,1065.7 414.8,1064.7 415.4,1063.7 416.0,1062.7 416.6,1061.7 417.2,1060.7 417.9,1059.8 418.5,1058.8 419.1,1057.8 419.7,1056.9 420.3,1055.9 421.0,1055.0 421.6,1054.0 422.2,1053.1 422.8,1052.1 423.4,1051.2 424.1,1050.3 424.7,1049.4 425.3,1048.4 425.9,1047.5 426.6,1046.6 427.2,1045.7 427.8,1044.8 428.4,1043.9 429.0,1043.1 429.7,1042.2 430.3,1041.3 430.9,1040.4 431.5,1039.5 432.1,1038.7 432.8,1037.8 433.4,1037.0 434.0,1036.1 434.6,1035.3 435.3,1034.4 435.9,1033.6 436.5,1032.7 437.1,1031.9 437.7,1031.1 438.4,1030.3 439.0,1029.4 439.6,1028.6 440.2,1027.8 440.8,1027.0 441.5,1026.2 442.1,1025.4 442.7,1024.6 443.3,1023.8 443.9,1023.0 444.6,1022.2 445.2,1021.5 445.8,1020.7 446.4,1019.9 447.1,1019.1 447.7,1018.4 448.3,1017.6 448.9,1016.8 449.5,1016.1 450.2,1015.3 450.8,1014.6 451.4,1013.8 452.0,1013.1 452.6,1012.4 453.3,1011.6 453.9,1010.9 454.5,1010.2 455.1,1009.4 455.8,1008.7 456.4,1008.0 457.0,1007.3 457.6,1006.6 458.2,1005.8 458.9,1005.1 459.5,1004.4 460.1,1003.7 460.7,1003.0 461.3,1002.3 462.0,1001.6 462.6,1001.0 463.2,1000.3 463.8,999.6 464.5,998.9 465.1,998.2 465.7,997.6 466.3,996.9 466.9,996.2 467.6,995.5 468.2,994.9 468.8,994.2 469.4,993.6 470.0,992.9 470.7,992.2 471.3,991.6 471.9,991.0 472.5,990.3 473.1,989.7 473.8,989.0 474.4,988.4 475.0,987.8 475.6,987.1 476.3,986.5 476.9,985.9 477.5,985.2 478.1,984.6 478.7,984.0 479.4,983.4 480.0,982.8 480.6,982.2 481.2,981.5 481.8,980.9 482.5,980.3 483.1,979.7 483.7,979.1 484.3,978.5 485.0,977.9 485.6,977.3 486.2,976.7 486.8,976.2 487.4,975.6 488.1,975.0 488.7,974.4 489.3,973.8 489.9,973.2 490.5,972.7 491.2,972.1 491.8,971.5 492.4,971.0 493.0,970.4 493.6,969.8 494.3,969.3 494.9,968.7 495.5,968.1 496.1,967.6 496.8,967.0 497.4,966.5 498.0,965.9 498.6,965.4 499.2,964.8 499.9,964.3 500.5,963.7 501.1,963.2 501.7,962.7 502.3,962.1 503.0,961.6 503.6,961.1 504.2,960.5 504.8,960.0 505.5,959.5 506.1,958.9 506.7,958.4 507.3,957.9 507.9,957.4 508.6,956.9 509.2,956.3 509.8,955.8 510.4,955.3 511.0,954.8 511.7,954.3 512.3,953.8 512.9,953.3 513.5,952.8 514.1,952.3 514.8,951.8 515.4,951.3 516.0,950.8 516.6,950.3 517.3,949.8 517.9,949.3 518.5,948.8 519.1,948.3 519.7,947.8 520.4,947.3 521.0,946.9 521.6,946.4 522.2,945.9 522.8,945.4 523.5,944.9 524.1,944.5 524.7,944.0 525.3,943.5 526.0,943.0 526.6,942.6 527.2,942.1 527.8,941.6 528.4,941.2 529.1,940.7 529.7,940.3 530.3,939.8 530.9,939.3 531.5,938.9 532.2,938.4 532.8,938.0 533.4,937.5 534.0,937.1 534.7,936.6 535.3,936.2 535.9,935.7 536.5,935.3 537.1,934.8 537.8,934.4 538.4,933.9 539.0,933.5 539.6,933.1 540.2,932.6 540.9,932.2 541.5,931.7 542.1,931.3 542.7,930.9 543.3,930.4 544.0,930.0 544.6,929.6 545.2,929.2 545.8,928.7 546.5,928.3 547.1,927.9 547.7,927.5 548.3,927.0 548.9,926.6 549.6,926.2 550.2,925.8 550.8,925.4 551.4,925.0 552.0,924.6 552.7,924.1 553.3,923.7 553.9,923.3 554.5,922.9 555.2,922.5 555.8,922.1 556.4,921.7 557.0,921.3 557.6,920.9 558.3,920.5 558.9,920.1 559.5,919.7 560.1,919.3 560.7,918.9 561.4,918.5 562.0,918.1 562.6,917.7 563.2,917.3 563.9,916.9 564.5,916.5 565.1,916.2 565.7,915.8 566.3,915.4 567.0,915.0 567.6,914.6 568.2,914.2 568.8,913.8 569.4,913.5 570.1,913.1 570.7,912.7 571.3,912.3 571.9,911.9 572.5,911.6 573.2,911.2 573.8,910.8 574.4,910.5 575.0,910.1 575.7,909.7 576.3,909.3 576.9,909.0 577.5,908.6 578.1,908.2 578.8,907.9 579.4,907.5 580.0,907.2 580.6,906.8 581.2,906.4 581.9,906.1 582.5,905.7 583.1,905.3 583.7,905.0 584.4,904.6 585.0,904.3 585.6,903.9 586.2,903.6 586.8,903.2 587.5,902.9 588.1,902.5 588.7,902.2" fill="none" stroke="#EAF016" stroke-width="3.7" stroke-linejoin="round" stroke-linecap="round"/>
<polyline points="215.9,1405.7 216.6,1405.6 217.2,1405.6 217.8,1405.6 218.4,1405.6 219.1,1405.6 219.7,1405.6 220.3,1405.6 220.9,1405.6 221.5,1405.6 222.2,1405.6 222.8,1405.6 223.4,1405.6 224.0,1405.6 224.6,1405.6 225.3,1405.6 225.9,1405.6 226.5,1405.6 227.1,1405.6 227.8,1405.6 228.4,1405.6 229.0,1405.6 229.6,1405.6 230.2,1405.6 230.9,1405.5 231.5,1405.5 232.1,1405.5 232.7,1405.5 233.3,1405.5 234.0,1405.5 234.6,1405.5 235.2,1405.5 235.8,1405.5 236.5,1405.5 237.1,1405.5 237.7,1405.4 238.3,1405.4 238.9,1405.4 239.6,1405.4 240.2,1405.4 240.8,1405.4 241.4,1405.4 242.0,1405.3 242.7,1405.3 243.3,1405.3 243.9,1405.3 244.5,1405.3 245.1,1405.2 245.8,1405.2 246.4,1405.2 247.0,1405.2 247.6,1405.1 248.3,1405.1 248.9,1405.1 249.5,1405.1 250.1,1405.0 250.7,1405.0 251.4,1405.0 252.0,1404.9 252.6,1404.9 253.2,1404.8 253.8,1404.8 254.5,1404.8 255.1,1404.7 255.7,1404.7 256.3,1404.6 257.0,1404.6 257.6,1404.5 258.2,1404.5 258.8,1404.4 259.4,1404.3 260.1,1404.3 260.7,1404.2 261.3,1404.1 261.9,1404.0 262.5,1404.0 263.2,1403.9 263.8,1403.8 264.4,1403.7 265.0,1403.6 265.6,1403.5 266.3,1403.4 266.9,1403.3 267.5,1403.2 268.1,1403.1 268.8,1402.9 269.4,1402.8 270.0,1402.7 270.6,1402.5 271.2,1402.4 271.9,1402.2 272.5,1402.0 273.1,1401.9 273.7,1401.7 274.3,1401.5 275.0,1401.3 275.6,1401.1 276.2,1400.9 276.8,1400.6 277.5,1400.4 278.1,1400.1 278.7,1399.9 279.3,1399.6 279.9,1399.3 280.6,1399.0 281.2,1398.7 281.8,1398.4 282.4,1398.1 283.0,1397.7 283.7,1397.3 284.3,1397.0 284.9,1396.6 285.5,1396.1 286.2,1395.7 286.8,1395.2 287.4,1394.8 288.0,1394.3 288.6,1393.8 289.3,1393.2 289.9,1392.7 290.5,1392.1 291.1,1391.5 291.7,1390.9 292.4,1390.2 293.0,1389.6 293.6,1388.9 294.2,1388.1 294.8,1387.4 295.5,1386.6 296.1,1385.8 296.7,1384.9 297.3,1384.1 298.0,1383.2 298.6,1382.2 299.2,1381.3 299.8,1380.3 300.4,1379.3 301.1,1378.2 301.7,1377.1 302.3,1376.0 302.9,1374.8 303.5,1373.6 304.2,1372.4 304.8,1371.1 305.4,1369.8 306.0,1368.4 306.7,1367.1 307.3,1365.7 307.9,1364.2 308.5,1362.7 309.1,1361.2 309.8,1359.6 310.4,1358.0 311.0,1356.4 311.6,1354.7 312.2,1353.1 312.9,1351.3 313.5,1349.6 314.1,1347.8 314.7,1345.9 315.4,1344.1 316.0,1342.2 316.6,1340.3 317.2,1338.3 317.8,1336.3 318.5,1334.3 319.1,1332.3 319.7,1330.2 320.3,1328.2 320.9,1326.1 321.6,1323.9 322.2,1321.8 322.8,1319.6 323.4,1317.4 324.0,1315.3 324.7,1313.0 325.3,1310.8 325.9,1308.6 326.5,1306.3 327.2,1304.1 327.8,1301.8 328.4,1299.5 329.0,1297.2 329.6,1294.9 330.3,1292.6 330.9,1290.3 331.5,1288.0 332.1,1285.7 332.7,1283.4 333.4,1281.0 334.0,1278.7 334.6,1276.4 335.2,1274.1 335.9,1271.8 336.5,1269.5 337.1,1267.2 337.7,1264.9 338.3,1262.6 339.0,1260.3 339.6,1258.0 340.2,1255.8 340.8,1253.5 341.4,1251.2 342.1,1249.0 342.7,1246.8 343.3,1244.5 343.9,1242.3 344.5,1240.1 345.2,1237.9 345.8,1235.7 346.4,1233.6 347.0,1231.4 347.7,1229.3 348.3,1227.1 348.9,1225.0 349.5,1222.9 350.1,1220.8 350.8,1218.7 351.4,1216.7 352.0,1214.6 352.6,1212.6 353.2,1210.5 353.9,1208.5 354.5,1206.5 355.1,1204.6 355.7,1202.6 356.4,1200.6 357.0,1198.7 357.6,1196.8 358.2,1194.8 358.8,1192.9 359.5,1191.1 360.1,1189.2 360.7,1187.3 361.3,1185.5 361.9,1183.7 362.6,1181.8 363.2,1180.0 363.8,1178.3 364.4,1176.5 365.1,1174.7 365.7,1173.0 366.3,1171.2 366.9,1169.5 367.5,1167.8 368.2,1166.1 368.8,1164.4 369.4,1162.8 370.0,1161.1 370.6,1159.5 371.3,1157.8 371.9,1156.2 372.5,1154.6 373.1,1153.0 373.7,1151.4 374.4,1149.9 375.0,1148.3 375.6,1146.8 376.2,1145.2 376.9,1143.7 377.5,1142.2 378.1,1140.7 378.7,1139.2 379.3,1137.7 380.0,1136.3 380.6,1134.8 381.2,1133.4 381.8,1132.0 382.4,1130.5 383.1,1129.1 383.7,1127.7 384.3,1126.3 384.9,1125.0 385.6,1123.6 386.2,1122.2 386.8,1120.9 387.4,1119.5 388.0,1118.2 388.7,1116.9 389.3,1115.6 389.9,1114.3 390.5,1113.0 391.1,1111.7 391.8,1110.4 392.4,1109.2 393.0,1107.9 393.6,1106.7 394.2,1105.5 394.9,1104.2 395.5,1103.0 396.1,1101.8 396.7,1100.6 397.4,1099.4 398.0,1098.2 398.6,1097.0 399.2,1095.9 399.8,1094.7 400.5,1093.6 401.1,1092.4 401.7,1091.3 402.3,1090.1 402.9,1089.0 403.6,1087.9 404.2,1086.8 404.8,1085.7 405.4,1084.6 406.1,1083.5 406.7,1082.4 407.3,1081.4 407.9,1080.3 408.5,1079.2 409.2,1078.2 409.8,1077.1 410.4,1076.1 411.0,1075.1 411.6,1074.1 412.3,1073.0 412.9,1072.0 413.5,1071.0 414.1,1070.0 414.8,1069.0 415.4,1068.0 416.0,1067.1 416.6,1066.1 417.2,1065.1 417.9,1064.2 418.5,1063.2 419.1,1062.2 419.7,1061.3 420.3,1060.4 421.0,1059.4 421.6,1058.5 422.2,1057.6 422.8,1056.7 423.4,1055.7 424.1,1054.8 424.7,1053.9 425.3,1053.0 425.9,1052.1 426.6,1051.3 427.2,1050.4 427.8,1049.5 428.4,1048.6 429.0,1047.8 429.7,1046.9 430.3,1046.0 430.9,1045.2 431.5,1044.4 432.1,1043.5 432.8,1042.7 433.4,1041.8 434.0,1041.0 434.6,1040.2 435.3,1039.4 435.9,1038.5 436.5,1037.7 437.1,1036.9 437.7,1036.1 438.4,1035.3 439.0,1034.5 439.6,1033.7 440.2,1033.0 440.8,1032.2 441.5,1031.4 442.1,1030.6 442.7,1029.9 443.3,1029.1 443.9,1028.3 444.6,1027.6 445.2,1026.8 445.8,1026.1 446.4,1025.3 447.1,1024.6 447.7,1023.8 448.3,1023.1 448.9,1022.4 449.5,1021.7 450.2,1020.9 450.8,1020.2 451.4,1019.5 452.0,1018.8 452.6,1018.1 453.3,1017.4 453.9,1016.7 454.5,1016.0 455.1,1015.3 455.8,1014.6 456.4,1013.9 457.0,1013.2 457.6,1012.5 458.2,1011.8 458.9,1011.1 459.5,1010.5 460.1,1009.8 460.7,1009.1 461.3,1008.5 462.0,1007.8 462.6,1007.1 463.2,1006.5 463.8,1005.8 464.5,1005.2 465.1,1004.5 465.7,1003.9 466.3,1003.2 466.9,1002.6 467.6,1002.0 468.2,1001.3 468.8,1000.7 469.4,1000.1 470.0,999.5 470.7,998.8 471.3,998.2 471.9,997.6 472.5,997.0 473.1,996.4 473.8,995.8 474.4,995.2 475.0,994.5 475.6,993.9 476.3,993.3 476.9,992.7 477.5,992.2 478.1,991.6 478.7,991.0 479.4,990.4 480.0,989.8 480.6,989.2 481.2,988.6 481.8,988.1 482.5,987.5 483.1,986.9 483.7,986.3 484.3,985.8 485.0,985.2 485.6,984.6 486.2,984.1 486.8,983.5 487.4,983.0 488.1,982.4 488.7,981.8 489.3,981.3 489.9,980.7 490.5,980.2 491.2,979.6 491.8,979.1 492.4,978.6 493.0,978.0 493.6,977.5 494.3,976.9 494.9,976.4 495.5,975.9 496.1,975.4 496.8,974.8 497.4,974.3 498.0,973.8 498.6,973.3 499.2,972.7 499.9,972.2 500.5,971.7 501.1,971.2 501.7,970.7 502.3,970.2 503.0,969.6 503.6,969.1 504.2,968.6 504.8,968.1 505.5,967.6 506.1,967.1 506.7,966.6 507.3,966.1 507.9,965.6 508.6,965.1 509.2,964.6 509.8,964.2 510.4,963.7 511.0,963.2 511.7,962.7 512.3,962.2 512.9,961.7 513.5,961.2 514.1,960.8 514.8,960.3 515.4,959.8 516.0,959.3 516.6,958.9 517.3,958.4 517.9,957.9 518.5,957.4 519.1,957.0 519.7,956.5 520.4,956.0 521.0,955.6 521.6,955.1 522.2,954.7 522.8,954.2 523.5,953.7 524.1,953.3 524.7,952.8 525.3,952.4 526.0,951.9 526.6,951.5 527.2,951.0 527.8,950.6 528.4,950.1 529.1,949.7 529.7,949.2 530.3,948.8 530.9,948.4 531.5,947.9 532.2,947.5 532.8,947.0 533.4,946.6 534.0,946.2 534.7,945.7 535.3,945.3 535.9,944.9 536.5,944.4 537.1,944.0 537.8,943.6 538.4,943.2 539.0,942.7 539.6,942.3 540.2,941.9 540.9,941.5 541.5,941.0 542.1,940.6 542.7,940.2 543.3,939.8 544.0,939.4 544.6,938.9 545.2,938.5 545.8,938.1 546.5,937.7 547.1,937.3 547.7,936.9 548.3,936.5 548.9,936.1 549.6,935.7 550.2,935.3 550.8,934.8 551.4,934.4 552.0,934.0 552.7,933.6 553.3,933.2 553.9,932.8 554.5,932.4 555.2,932.0 555.8,931.6 556.4,931.2 557.0,930.9 557.6,930.5 558.3,930.1 558.9,929.7 559.5,929.3 560.1,928.9 560.7,928.5 561.4,928.1 562.0,927.7 562.6,927.3 563.2,927.0 563.9,926.6 564.5,926.2 565.1,925.8 565.7,925.4 566.3,925.0 567.0,924.7 567.6,924.3 568.2,923.9 568.8,923.5 569.4,923.2 570.1,922.8 570.7,922.4 571.3,922.0 571.9,921.7 572.5,921.3 573.2,920.9 573.8,920.5 574.4,920.2 575.0,919.8 575.7,919.4 576.3,919.1 576.9,918.7 577.5,918.3 578.1,918.0 578.8,917.6 579.4,917.2 580.0,916.9 580.6,916.5 581.2,916.2 581.9,915.8 582.5,915.4 583.1,915.1 583.7,914.7 584.4,914.4 585.0,914.0 585.6,913.7 586.2,913.3 586.8,912.9 587.5,912.6 588.1,912.2 588.7,911.9" fill="none" stroke="#E63C1E" stroke-width="3.7" stroke-linejoin="round" stroke-linecap="round"/>
<polyline points="215.9,1405.7 216.6,1405.6 217.2,1405.6 217.8,1405.6 218.4,1405.6 219.1,1405.6 219.7,1405.6 220.3,1405.6 220.9,1405.6 221.5,1405.6 222.2,1405.6 222.8,1405.6 223.4,1405.6 224.0,1405.6 224.6,1405.6 225.3,1405.6 225.9,1405.6 226.5,1405.6 227.1,1405.6 227.8,1405.6 228.4,1405.6 229.0,1405.6 229.6,1405.6 230.2,1405.6 230.9,1405.5 231.5,1405.5 232.1,1405.5 232.7,1405.5 233.3,1405.5 234.0,1405.5 234.6,1405.5 235.2,1405.5 235.8,1405.5 236.5,1405.5 237.1,1405.4 237.7,1405.4 238.3,1405.4 238.9,1405.4 239.6,1405.4 240.2,1405.4 240.8,1405.4 241.4,1405.3 242.0,1405.3 242.7,1405.3 243.3,1405.3 243.9,1405.3 244.5,1405.3 245.1,1405.2 245.8,1405.2 246.4,1405.2 247.0,1405.2 247.6,1405.1 248.3,1405.1 248.9,1405.1 249.5,1405.0 250.1,1405.0 250.7,1405.0 251.4,1404.9 252.0,1404.9 252.6,1404.9 253.2,1404.8 253.8,1404.8 254.5,1404.7 255.1,1404.7 255.7,1404.7 256.3,1404.6 257.0,1404.5 257.6,1404.5 258.2,1404.4 258.8,1404.4 259.4,1404.3 260.1,1404.2 260.7,1404.2 261.3,1404.1 261.9,1404.0 262.5,1403.9 263.2,1403.9 263.8,1403.8 264.4,1403.7 265.0,1403.6 265.6,1403.5 266.3,1403.4 266.9,1403.2 267.5,1403.1 268.1,1403.0 268.8,1402.9 269.4,1402.7 270.0,1402.6 270.6,1402.5 271.2,1402.3 271.9,1402.1 272.5,1402.0 273.1,1401.8 273.7,1401.6 274.3,1401.4 275.0,1401.2 275.6,1401.0 276.2,1400.8 276.8,1400.6 277.5,1400.3 278.1,1400.1 278.7,1399.8 279.3,1399.5 279.9,1399.2 280.6,1398.9 281.2,1398.6 281.8,1398.3 282.4,1398.0 283.0,1397.6 283.7,1397.2 284.3,1396.9 284.9,1396.5 285.5,1396.0 286.2,1395.6 286.8,1395.1 287.4,1394.7 288.0,1394.2 288.6,1393.7 289.3,1393.1 289.9,1392.6 290.5,1392.0 291.1,1391.4 291.7,1390.8 292.4,1390.1 293.0,1389.5 293.6,1388.8 294.2,1388.0 294.8,1387.3 295.5,1386.5 296.1,1385.7 296.7,1384.9 297.3,1384.0 298.0,1383.1 298.6,1382.2 299.2,1381.2 299.8,1380.2 300.4,1379.2 301.1,1378.2 301.7,1377.1 302.3,1376.0 302.9,1374.8 303.5,1373.6 304.2,1372.4 304.8,1371.1 305.4,1369.8 306.0,1368.5 306.7,1367.1 307.3,1365.7 307.9,1364.3 308.5,1362.8 309.1,1361.3 309.8,1359.7 310.4,1358.2 311.0,1356.5 311.6,1354.9 312.2,1353.2 312.9,1351.5 313.5,1349.7 314.1,1347.9 314.7,1346.1 315.4,1344.2 316.0,1342.4 316.6,1340.4 317.2,1338.5 317.8,1336.5 318.5,1334.5 319.1,1332.5 319.7,1330.4 320.3,1328.3 320.9,1326.2 321.6,1324.1 322.2,1322.0 322.8,1319.8 323.4,1317.6 324.0,1315.4 324.7,1313.2 325.3,1310.9 325.9,1308.7 326.5,1306.4 327.2,1304.1 327.8,1301.9 328.4,1299.6 329.0,1297.3 329.6,1294.9 330.3,1292.6 330.9,1290.3 331.5,1288.0 332.1,1285.7 332.7,1283.3 333.4,1281.0 334.0,1278.7 334.6,1276.3 335.2,1274.0 335.9,1271.7 336.5,1269.4 337.1,1267.1 337.7,1264.7 338.3,1262.4 339.0,1260.2 339.6,1257.9 340.2,1255.6 340.8,1253.3 341.4,1251.1 342.1,1248.8 342.7,1246.6 343.3,1244.3 343.9,1242.1 344.5,1239.9 345.2,1237.7 345.8,1235.5 346.4,1233.4 347.0,1231.2 347.7,1229.0 348.3,1226.9 348.9,1224.8 349.5,1222.7 350.1,1220.6 350.8,1218.5 351.4,1216.5 352.0,1214.4 352.6,1212.4 353.2,1210.4 353.9,1208.4 354.5,1206.4 355.1,1204.4 355.7,1202.4 356.4,1200.5 357.0,1198.6 357.6,1196.6 358.2,1194.7 358.8,1192.8 359.5,1191.0 360.1,1189.1 360.7,1187.3 361.3,1185.4 361.9,1183.6 362.6,1181.8 363.2,1180.0 363.8,1178.2 364.4,1176.5 365.1,1174.7 365.7,1173.0 366.3,1171.3 366.9,1169.6 367.5,1167.9 368.2,1166.2 368.8,1164.5 369.4,1162.9 370.0,1161.2 370.6,1159.6 371.3,1158.0 371.9,1156.4 372.5,1154.8 373.1,1153.2 373.7,1151.6 374.4,1150.1 375.0,1148.5 375.6,1147.0 376.2,1145.5 376.9,1143.9 377.5,1142.4 378.1,1141.0 378.7,1139.5 379.3,1138.0 380.0,1136.6 380.6,1135.1 381.2,1133.7 381.8,1132.3 382.4,1130.8 383.1,1129.4 383.7,1128.0 384.3,1126.7 384.9,1125.3 385.6,1123.9 386.2,1122.6 386.8,1121.2 387.4,1119.9 388.0,1118.6 388.7,1117.3 389.3,1116.0 389.9,1114.7 390.5,1113.4 391.1,1112.1 391.8,1110.8 392.4,1109.6 393.0,1108.3 393.6,1107.1 394.2,1105.8 394.9,1104.6 395.5,1103.4 396.1,1102.2 396.7,1101.0 397.4,1099.8 398.0,1098.6 398.6,1097.4 399.2,1096.2 399.8,1095.1 400.5,1093.9 401.1,1092.7 401.7,1091.6 402.3,1090.5 402.9,1089.3 403.6,1088.2 404.2,1087.1 404.8,1086.0 405.4,1084.9 406.1,1083.8 406.7,1082.7 407.3,1081.6 407.9,1080.6 408.5,1079.5 409.2,1078.4 409.8,1077.4 410.4,1076.3 411.0,1075.3 411.6,1074.3 412.3,1073.2 412.9,1072.2 413.5,1071.2 414.1,1070.2 414.8,1069.2 415.4,1068.2 416.0,1067.2 416.6,1066.2 417.2,1065.2 417.9,1064.2 418.5,1063.3 419.1,1062.3 419.7,1061.3 420.3,1060.4 421.0,1059.4 421.6,1058.5 422.2,1057.6 422.8,1056.6 423.4,1055.7 424.1,1054.8 424.7,1053.9 425.3,1052.9 425.9,1052.0 426.6,1051.1 427.2,1050.2 427.8,1049.3 428.4,1048.5 429.0,1047.6 429.7,1046.7 430.3,1045.8 430.9,1045.0 431.5,1044.1 432.1,1043.2 432.8,1042.4 433.4,1041.5 434.0,1040.7 434.6,1039.8 435.3,1039.0 435.9,1038.2 436.5,1037.3 437.1,1036.5 437.7,1035.7 438.4,1034.9 439.0,1034.0 439.6,1033.2 440.2,1032.4 440.8,1031.6 441.5,1030.8 442.1,1030.0 442.7,1029.3 443.3,1028.5 443.9,1027.7 444.6,1026.9 445.2,1026.1 445.8,1025.4 446.4,1024.6 447.1,1023.8 447.7,1023.1 448.3,1022.3 448.9,1021.6 449.5,1020.8 450.2,1020.1 450.8,1019.3 451.4,1018.6 452.0,1017.9 452.6,1017.1 453.3,1016.4 453.9,1015.7 454.5,1015.0 455.1,1014.2 455.8,1013.5 456.4,1012.8 457.0,1012.1 457.6,1011.4 458.2,1010.7 458.9,1010.0 459.5,1009.3 460.1,1008.6 460.7,1007.9 461.3,1007.2 462.0,1006.6 462.6,1005.9 463.2,1005.2 463.8,1004.5 464.5,1003.9 465.1,1003.2 465.7,1002.5 466.3,1001.9 466.9,1001.2 467.6,1000.5 468.2,999.9 468.8,999.2 469.4,998.6 470.0,997.9 470.7,997.3 471.3,996.7 471.9,996.0 472.5,995.4 473.1,994.8 473.8,994.1 474.4,993.5 475.0,992.9 475.6,992.3 476.3,991.6 476.9,991.0 477.5,990.4 478.1,989.8 478.7,989.2 479.4,988.6 480.0,988.0 480.6,987.4 481.2,986.8 481.8,986.2 482.5,985.6 483.1,985.0 483.7,984.4 484.3,983.8 485.0,983.2 485.6,982.7 486.2,982.1 486.8,981.5 487.4,980.9 488.1,980.3 488.7,979.8 489.3,979.2 489.9,978.6 490.5,978.1 491.2,977.5 491.8,977.0 492.4,976.4 493.0,975.8 493.6,975.3 494.3,974.7 494.9,974.2 495.5,973.6 496.1,973.1 496.8,972.5 497.4,972.0 498.0,971.5 498.6,970.9 499.2,970.4 499.9,969.9 500.5,969.3 501.1,968.8 501.7,968.3 502.3,967.8 503.0,967.2 503.6,966.7 504.2,966.2 504.8,965.7 505.5,965.2 506.1,964.6 506.7,964.1 507.3,963.6 507.9,963.1 508.6,962.6 509.2,962.1 509.8,961.6 510.4,961.1 511.0,960.6 511.7,960.1 512.3,959.6 512.9,959.1 513.5,958.6 514.1,958.1 514.8,957.6 515.4,957.2 516.0,956.7 516.6,956.2 517.3,955.7 517.9,955.2 518.5,954.7 519.1,954.3 519.7,953.8 520.4,953.3 521.0,952.8 521.6,952.4 522.2,951.9 522.8,951.4 523.5,951.0 524.1,950.5 524.7,950.0 525.3,949.6 526.0,949.1 526.6,948.7 527.2,948.2 527.8,947.8 528.4,947.3 529.1,946.8 529.7,946.4 530.3,946.0 530.9,945.5 531.5,945.1 532.2,944.6 532.8,944.2 533.4,943.7 534.0,943.3 534.7,942.9 535.3,942.4 535.9,942.0 536.5,941.5 537.1,941.1 537.8,940.7 538.4,940.2 539.0,939.8 539.6,939.4 540.2,939.0 540.9,938.5 541.5,938.1 542.1,937.7 542.7,937.3 543.3,936.9 544.0,936.4 544.6,936.0 545.2,935.6 545.8,935.2 546.5,934.8 547.1,934.4 547.7,934.0 548.3,933.5 548.9,933.1 549.6,932.7 550.2,932.3 550.8,931.9 551.4,931.5 552.0,931.1 552.7,930.7 553.3,930.3 553.9,929.9 554.5,929.5 555.2,929.1 555.8,928.7 556.4,928.3 557.0,928.0 557.6,927.6 558.3,927.2 558.9,926.8 559.5,926.4 560.1,926.0 560.7,925.6 561.4,925.2 562.0,924.9 562.6,924.5 563.2,924.1 563.9,923.7 564.5,923.3 565.1,923.0 565.7,922.6 566.3,922.2 567.0,921.8 567.6,921.5 568.2,921.1 568.8,920.7 569.4,920.4 570.1,920.0 570.7,919.6 571.3,919.3 571.9,918.9 572.5,918.5 573.2,918.2 573.8,917.8 574.4,917.4 575.0,917.1 575.7,916.7 576.3,916.4 576.9,916.0 577.5,915.7 578.1,915.3 578.8,914.9 579.4,914.6 580.0,914.2 580.6,913.9 581.2,913.5 581.9,913.2 582.5,912.8 583.1,912.5 583.7,912.2 584.4,911.8 585.0,911.5 585.6,911.1 586.2,910.8 586.8,910.4 587.5,910.1 588.1,909.8 588.7,909.4" fill="none" stroke="#DC1414" stroke-width="3.7" stroke-linejoin="round" stroke-linecap="round"/>
<polyline points="215.9,1405.7 216.6,1405.7 217.2,1405.6 217.8,1405.6 218.4,1405.6 219.1,1405.6 219.7,1405.6 220.3,1405.6 220.9,1405.6 221.5,1405.6 222.2,1405.6 222.8,1405.6 223.4,1405.6 224.0,1405.6 224.6,1405.6 225.3,1405.6 225.9,1405.6 226.5,1405.6 227.1,1405.6 227.8,1405.6 228.4,1405.6 229.0,1405.6 229.6,1405.6 230.2,1405.6 230.9,1405.6 231.5,1405.5 232.1,1405.5 232.7,1405.5 233.3,1405.5 234.0,1405.5 234.6,1405.5 235.2,1405.5 235.8,1405.5 236.5,1405.5 237.1,1405.5 237.7,1405.4 238.3,1405.4 238.9,1405.4 239.6,1405.4 240.2,1405.4 240.8,1405.4 241.4,1405.4 242.0,1405.4 242.7,1405.3 243.3,1405.3 243.9,1405.3 244.5,1405.3 245.1,1405.3 245.8,1405.2 246.4,1405.2 247.0,1405.2 247.6,1405.2 248.3,1405.1 248.9,1405.1 249.5,1405.1 250.1,1405.1 250.7,1405.0 251.4,1405.0 252.0,1405.0 252.6,1404.9 253.2,1404.9 253.8,1404.8 254.5,1404.8 255.1,1404.8 255.7,1404.7 256.3,1404.7 257.0,1404.6 257.6,1404.6 258.2,1404.5 258.8,1404.5 259.4,1404.4 260.1,1404.3 260.7,1404.3 261.3,1404.2 261.9,1404.1 262.5,1404.0 263.2,1404.0 263.8,1403.9 264.4,1403.8 265.0,1403.7 265.6,1403.6 266.3,1403.5 266.9,1403.4 267.5,1403.3 268.1,1403.2 268.8,1403.1 269.4,1402.9 270.0,1402.8 270.6,1402.7 271.2,1402.5 271.9,1402.4 272.5,1402.2 273.1,1402.1 273.7,1401.9 274.3,1401.7 275.0,1401.5 275.6,1401.3 276.2,1401.1 276.8,1400.9 277.5,1400.7 278.1,1400.4 278.7,1400.2 279.3,1400.0 279.9,1399.7 280.6,1399.4 281.2,1399.1 281.8,1398.8 282.4,1398.5 283.0,1398.2 283.7,1397.8 284.3,1397.5 284.9,1397.1 285.5,1396.7 286.2,1396.3 286.8,1395.9 287.4,1395.4 288.0,1395.0 288.6,1394.5 289.3,1394.0 289.9,1393.5 290.5,1392.9 291.1,1392.4 291.7,1391.8 292.4,1391.2 293.0,1390.5 293.6,1389.9 294.2,1389.2 294.8,1388.5 295.5,1387.7 296.1,1387.0 296.7,1386.2 297.3,1385.4 298.0,1384.5 298.6,1383.7 299.2,1382.8 299.8,1381.8 300.4,1380.8 301.1,1379.8 301.7,1378.8 302.3,1377.7 302.9,1376.6 303.5,1375.5 304.2,1374.3 304.8,1373.1 305.4,1371.9 306.0,1370.6 306.7,1369.3 307.3,1368.0 307.9,1366.6 308.5,1365.2 309.1,1363.7 309.8,1362.2 310.4,1360.7 311.0,1359.1 311.6,1357.5 312.2,1355.9 312.9,1354.2 313.5,1352.5 314.1,1350.8 314.7,1349.0 315.4,1347.2 316.0,1345.4 316.6,1343.5 317.2,1341.6 317.8,1339.7 318.5,1337.7 319.1,1335.7 319.7,1333.7 320.3,1331.7 320.9,1329.6 321.6,1327.5 322.2,1325.4 322.8,1323.2 323.4,1321.1 324.0,1318.9 324.7,1316.7 325.3,1314.5 325.9,1312.3 326.5,1310.0 327.2,1307.8 327.8,1305.5 328.4,1303.2 329.0,1301.0 329.6,1298.7 330.3,1296.3 330.9,1294.0 331.5,1291.7 332.1,1289.4 332.7,1287.1 333.4,1284.7 334.0,1282.4 334.6,1280.1 335.2,1277.8 335.9,1275.4 336.5,1273.1 337.1,1270.8 337.7,1268.5 338.3,1266.2 339.0,1263.9 339.6,1261.6 340.2,1259.3 340.8,1257.0 341.4,1254.7 342.1,1252.4 342.7,1250.2 343.3,1247.9 343.9,1245.7 344.5,1243.5 345.2,1241.2 345.8,1239.0 346.4,1236.8 347.0,1234.7 347.7,1232.5 348.3,1230.3 348.9,1228.2 349.5,1226.1 350.1,1224.0 350.8,1221.8 351.4,1219.8 352.0,1217.7 352.6,1215.6 353.2,1213.6 353.9,1211.5 354.5,1209.5 355.1,1207.5 355.7,1205.5 356.4,1203.6 357.0,1201.6 357.6,1199.7 358.2,1197.7 358.8,1195.8 359.5,1193.9 360.1,1192.0 360.7,1190.2 361.3,1188.3 361.9,1186.4 362.6,1184.6 363.2,1182.8 363.8,1181.0 364.4,1179.2 365.1,1177.4 365.7,1175.7 366.3,1173.9 366.9,1172.2 367.5,1170.5 368.2,1168.8 368.8,1167.1 369.4,1165.4 370.0,1163.7 370.6,1162.1 371.3,1160.5 371.9,1158.8 372.5,1157.2 373.1,1155.6 373.7,1154.0 374.4,1152.4 375.0,1150.9 375.6,1149.3 376.2,1147.8 376.9,1146.3 377.5,1144.7 378.1,1143.2 378.7,1141.7 379.3,1140.3 380.0,1138.8 380.6,1137.3 381.2,1135.9 381.8,1134.4 382.4,1133.0 383.1,1131.6 383.7,1130.2 384.3,1128.8 384.9,1127.4 385.6,1126.1 386.2,1124.7 386.8,1123.3 387.4,1122.0 388.0,1120.7 388.7,1119.3 389.3,1118.0 389.9,1116.7 390.5,1115.4 391.1,1114.1 391.8,1112.9 392.4,1111.6 393.0,1110.3 393.6,1109.1 394.2,1107.8 394.9,1106.6 395.5,1105.4 396.1,1104.2 396.7,1103.0 397.4,1101.8 398.0,1100.6 398.6,1099.4 399.2,1098.2 399.8,1097.1 400.5,1095.9 401.1,1094.7 401.7,1093.6 402.3,1092.5 402.9,1091.3 403.6,1090.2 404.2,1089.1 404.8,1088.0 405.4,1086.9 406.1,1085.8 406.7,1084.7 407.3,1083.7 407.9,1082.6 408.5,1081.5 409.2,1080.5 409.8,1079.4 410.4,1078.4 411.0,1077.3 411.6,1076.3 412.3,1075.3 412.9,1074.3 413.5,1073.3 414.1,1072.3 414.8,1071.3 415.4,1070.3 416.0,1069.3 416.6,1068.3 417.2,1067.4 417.9,1066.4 418.5,1065.4 419.1,1064.5 419.7,1063.5 420.3,1062.6 421.0,1061.6 421.6,1060.7 422.2,1059.8 422.8,1058.9 423.4,1057.9 424.1,1057.0 424.7,1056.1 425.3,1055.2 425.9,1054.3 426.6,1053.5 427.2,1052.6 427.8,1051.7 428.4,1050.8 429.0,1049.9 429.7,1049.1 430.3,1048.2 430.9,1047.4 431.5,1046.5 432.1,1045.7 432.8,1044.8 433.4,1044.0 434.0,1043.2 434.6,1042.4 435.3,1041.5 435.9,1040.7 436.5,1039.9 437.1,1039.1 437.7,1038.3 438.4,1037.5 439.0,1036.7 439.6,1035.9 440.2,1035.1 440.8,1034.3 441.5,1033.6 442.1,1032.8 442.7,1032.0 443.3,1031.3 443.9,1030.5 444.6,1029.7 445.2,1029.0 445.8,1028.2 446.4,1027.5 447.1,1026.7 447.7,1026.0 448.3,1025.3 448.9,1024.5 449.5,1023.8 450.2,1023.1 450.8,1022.4 451.4,1021.7 452.0,1021.0 452.6,1020.2 453.3,1019.5 453.9,1018.8 454.5,1018.1 455.1,1017.5 455.8,1016.8 456.4,1016.1 457.0,1015.4 457.6,1014.7 458.2,1014.0 458.9,1013.4 459.5,1012.7 460.1,1012.0 460.7,1011.4 461.3,1010.7 462.0,1010.0 462.6,1009.4 463.2,1008.7 463.8,1008.1 464.5,1007.4 465.1,1006.8 465.7,1006.2 466.3,1005.5 466.9,1004.9 467.6,1004.3 468.2,1003.6 468.8,1003.0 469.4,1002.4 470.0,1001.8 470.7,1001.2 471.3,1000.5 471.9,999.9 472.5,999.3 473.1,998.7 473.8,998.1 474.4,997.5 475.0,996.9 475.6,996.3 476.3,995.7 476.9,995.2 477.5,994.6 478.1,994.0 478.7,993.4 479.4,992.8 480.0,992.3 480.6,991.7 481.2,991.1 481.8,990.6 482.5,990.0 483.1,989.4 483.7,988.9 484.3,988.3 485.0,987.8 485.6,987.2 486.2,986.7 486.8,986.1 487.4,985.6 488.1,985.0 488.7,984.5 489.3,983.9 489.9,983.4 490.5,982.9 491.2,982.3 491.8,981.8 492.4,981.3 493.0,980.8 493.6,980.2 494.3,979.7 494.9,979.2 495.5,978.7 496.1,978.2 496.8,977.6 497.4,977.1 498.0,976.6 498.6,976.1 499.2,975.6 499.9,975.1 500.5,974.6 501.1,974.1 501.7,973.6 502.3,973.1 503.0,972.6 503.6,972.2 504.2,971.7 504.8,971.2 505.5,970.7 506.1,970.2 506.7,969.7 507.3,969.3 507.9,968.8 508.6,968.3 509.2,967.8 509.8,967.4 510.4,966.9 511.0,966.4 511.7,966.0 512.3,965.5 512.9,965.0 513.5,964.6 514.1,964.1 514.8,963.7 515.4,963.2 516.0,962.8 516.6,962.3 517.3,961.9 517.9,961.4 518.5,961.0 519.1,960.5 519.7,960.1 520.4,959.6 521.0,959.2 521.6,958.8 522.2,958.3 522.8,957.9 523.5,957.5 524.1,957.0 524.7,956.6 525.3,956.2 526.0,955.8 526.6,955.3 527.2,954.9 527.8,954.5 528.4,954.1 529.1,953.7 529.7,953.2 530.3,952.8 530.9,952.4 531.5,952.0 532.2,951.6 532.8,951.2 533.4,950.8 534.0,950.4 534.7,950.0 535.3,949.6 535.9,949.2 536.5,948.8 537.1,948.4 537.8,948.0 538.4,947.6 539.0,947.2 539.6,946.8 540.2,946.4 540.9,946.0 541.5,945.6 542.1,945.2 542.7,944.8 543.3,944.4 544.0,944.1 544.6,943.7 545.2,943.3 545.8,942.9 546.5,942.5 547.1,942.2 547.7,941.8 548.3,941.4 548.9,941.0 549.6,940.7 550.2,940.3 550.8,939.9 551.4,939.6 552.0,939.2 552.7,938.8 553.3,938.5 553.9,938.1 554.5,937.7 555.2,937.4 555.8,937.0 556.4,936.7 557.0,936.3 557.6,935.9 558.3,935.6 558.9,935.2 559.5,934.9 560.1,934.5 560.7,934.2 561.4,933.8 562.0,933.5 562.6,933.1 563.2,932.8 563.9,932.4 564.5,932.1 565.1,931.8 565.7,931.4 566.3,931.1 567.0,930.7 567.6,930.4 568.2,930.1 568.8,929.7 569.4,929.4 570.1,929.1 570.7,928.7 571.3,928.4 571.9,928.1 572.5,927.7 573.2,927.4 573.8,927.1 574.4,926.8 575.0,926.4 575.7,926.1 576.3,925.8 576.9,925.5 577.5,925.1 578.1,924.8 578.8,924.5 579.4,924.2 580.0,923.9 580.6,923.6 581.2,923.2 581.9,922.9 582.5,922.6 583.1,922.3 583.7,922.0 584.4,921.7 585.0,921.4 585.6,921.1 586.2,920.8 586.8,920.5 587.5,920.1 588.1,919.8 588.7,919.5" fill="none" stroke="#8C0A0A" stroke-width="3.7" stroke-linejoin="round" stroke-linecap="round"/>
<rect x="834.1" y="835.5" width="497" height="570.2" fill="none" stroke="#000" stroke-width="2.5"/>
<line x1="834.1" y1="1291.66" x2="844.1" y2="1291.66" stroke="#000" stroke-width="2.5" stroke-linecap="butt"/>
<line x1="834.1" y1="1177.62" x2="844.1" y2="1177.62" stroke="#000" stroke-width="2.5" stroke-linecap="butt"/>
<line x1="834.1" y1="1063.58" x2="844.1" y2="1063.58" stroke="#000" stroke-width="2.5" stroke-linecap="butt"/>
<line x1="834.1" y1="949.54" x2="844.1" y2="949.54" stroke="#000" stroke-width="2.5" stroke-linecap="butt"/>
<line x1="834.1" y1="1348.68" x2="839.1" y2="1348.68" stroke="#000" stroke-width="2.5" stroke-linecap="butt"/>
<line x1="834.1" y1="1234.64" x2="839.1" y2="1234.64" stroke="#000" stroke-width="2.5" stroke-linecap="butt"/>
<line x1="834.1" y1="1120.6" x2="839.1" y2="1120.6" stroke="#000" stroke-width="2.5" stroke-linecap="butt"/>
<line x1="834.1" y1="1006.56" x2="839.1" y2="1006.56" stroke="#000" stroke-width="2.5" stroke-linecap="butt"/>
<line x1="834.1" y1="892.52" x2="839.1" y2="892.52" stroke="#000" stroke-width="2.5" stroke-linecap="butt"/>
<text x="821.8" y="1413.1" font-size="28.5" text-anchor="end">0.0</text>
<text x="821.8" y="1299.06" font-size="28.5" text-anchor="end">0.1</text>
<text x="821.8" y="1185.02" font-size="28.5" text-anchor="end">0.2</text>
<text x="821.8" y="1070.98" font-size="28.5" text-anchor="end">0.3</text>
<text x="821.8" y="956.94" font-size="28.5" text-anchor="end">0.4</text>
<text x="821.8" y="842.9" font-size="28.5" text-anchor="end">0.5</text>
<line x1="1082.6" y1="1405.7" x2="1082.6" y2="1395.7" stroke="#000" stroke-width="2.5" stroke-linecap="butt"/>
<line x1="958.35" y1="1405.7" x2="958.35" y2="1400.7" stroke="#000" stroke-width="2.5" stroke-linecap="butt"/>
<line x1="1206.85" y1="1405.7" x2="1206.85" y2="1400.7" stroke="#000" stroke-width="2.5" stroke-linecap="butt"/>
<text x="834.1" y="1439.5" font-size="28.5" text-anchor="middle">0.0</text>
<text x="1082.6" y="1439.5" font-size="28.5" text-anchor="middle">0.5</text>
<text x="1331.1" y="1439.5" font-size="28.5" text-anchor="middle">1.0</text>
<text x="695.3" y="809.1" font-size="33" font-weight="bold">c</text>
<text transform="translate(741.3,1087.4) rotate(-90)" font-size="31.5" text-anchor="middle"><tspan font-style="italic">I</tspan><tspan font-size="21" dy="8">ds</tspan><tspan dy="-8"> (mA/μm)</tspan></text>
<text x="1037.4" y="1502.5" font-size="31.5"><tspan font-style="italic">V</tspan><tspan font-size="21" dy="8">ds</tspan><tspan dy="-8"> (V)</tspan></text>
<polyline points="834.1,1405.7 1331.1,1405.7" fill="none" stroke="#6414D2" stroke-width="3.7" stroke-linejoin="round" stroke-linecap="round"/>
<polyline points="834.1,1405.7 836.6,1405.0 839.1,1404.3 841.6,1403.6 844.1,1402.9 846.6,1402.3 849.1,1401.6 851.6,1400.9 854.1,1400.2 856.6,1399.5 859.1,1398.8 861.6,1398.1 864.1,1397.4 866.6,1396.8 869.1,1396.1 871.6,1395.4 874.1,1394.7 876.6,1394.0 879.1,1393.3 881.6,1392.6 884.0,1392.0 886.5,1391.3 889.0,1390.6 891.5,1389.9 894.0,1389.2 896.5,1388.5 899.0,1387.9 901.5,1387.2 904.0,1386.5 906.5,1385.8 909.0,1385.2 911.5,1384.5 914.0,1383.8 916.5,1383.1 919.0,1382.5 921.5,1381.8 924.0,1381.1 926.5,1380.4 929.0,1379.8 931.5,1379.1 934.0,1378.4 936.5,1377.8 939.0,1377.1 941.5,1376.4 944.0,1375.8 946.5,1375.1 949.0,1374.5 951.5,1373.8 954.0,1373.1 956.5,1372.5 959.0,1371.8 961.5,1371.2 964.0,1370.5 966.5,1369.9 969.0,1369.2 971.5,1368.6 974.0,1367.9 976.5,1367.3 979.0,1366.6 981.5,1366.0 983.9,1365.4 986.4,1364.7 988.9,1364.1 991.4,1363.5 993.9,1362.8 996.4,1362.2 998.9,1361.6 1001.4,1360.9 1003.9,1360.3 1006.4,1359.7 1008.9,1359.1 1011.4,1358.5 1013.9,1357.8 1016.4,1357.2 1018.9,1356.6 1021.4,1356.0 1023.9,1355.4 1026.4,1354.8 1028.9,1354.2 1031.4,1353.6 1033.9,1353.0 1036.4,1352.4 1038.9,1351.8 1041.4,1351.2 1043.9,1350.6 1046.4,1350.0 1048.9,1349.4 1051.4,1348.8 1053.9,1348.3 1056.4,1347.7 1058.9,1347.1 1061.4,1346.5 1063.9,1346.0 1066.4,1345.4 1068.9,1344.8 1071.4,1344.3 1073.9,1343.7 1076.4,1343.2 1078.9,1342.6 1081.4,1342.0 1083.8,1341.5 1086.3,1340.9 1088.8,1340.4 1091.3,1339.9 1093.8,1339.3 1096.3,1338.8 1098.8,1338.3 1101.3,1337.7 1103.8,1337.2 1106.3,1336.7 1108.8,1336.2 1111.3,1335.7 1113.8,1335.1 1116.3,1334.6 1118.8,1334.1 1121.3,1333.6 1123.8,1333.1 1126.3,1332.6 1128.8,1332.1 1131.3,1331.6 1133.8,1331.2 1136.3,1330.7 1138.8,1330.2 1141.3,1329.7 1143.8,1329.3 1146.3,1328.8 1148.8,1328.3 1151.3,1327.9 1153.8,1327.4 1156.3,1327.0 1158.8,1326.5 1161.3,1326.1 1163.8,1325.6 1166.3,1325.2 1168.8,1324.7 1171.3,1324.3 1173.8,1323.9 1176.3,1323.5 1178.8,1323.0 1181.3,1322.6 1183.7,1322.2 1186.2,1321.8 1188.7,1321.4 1191.2,1321.0 1193.7,1320.6 1196.2,1320.2 1198.7,1319.8 1201.2,1319.5 1203.7,1319.1 1206.2,1318.7 1208.7,1318.3 1211.2,1318.0 1213.7,1317.6 1216.2,1317.3 1218.7,1316.9 1221.2,1316.6 1223.7,1316.2 1226.2,1315.9 1228.7,1315.6 1231.2,1315.2 1233.7,1314.9 1236.2,1314.6 1238.7,1314.3 1241.2,1314.0 1243.7,1313.7 1246.2,1313.4 1248.7,1313.1 1251.2,1312.8 1253.7,1312.5 1256.2,1312.2 1258.7,1311.9 1261.2,1311.7 1263.7,1311.4 1266.2,1311.1 1268.7,1310.9 1271.2,1310.6 1273.7,1310.4 1276.2,1310.2 1278.7,1309.9 1281.2,1309.7 1283.6,1309.5 1286.1,1309.2 1288.6,1309.0 1291.1,1308.8 1293.6,1308.6 1296.1,1308.4 1298.6,1308.2 1301.1,1308.1 1303.6,1307.9 1306.1,1307.7 1308.6,1307.5 1311.1,1307.4 1313.6,1307.2 1316.1,1307.1 1318.6,1306.9 1321.1,1306.8 1323.6,1306.6 1326.1,1306.5 1328.6,1306.4 1331.1,1306.3" fill="none" stroke="#283CDC" stroke-width="3.7" stroke-linejoin="round" stroke-linecap="round"/>
<polyline points="834.1,1405.7 836.6,1404.2 839.1,1402.6 841.6,1401.1 844.1,1399.6 846.6,1398.0 849.1,1396.5 851.6,1395.0 854.1,1393.5 856.6,1391.9 859.1,1390.4 861.6,1388.9 864.1,1387.4 866.6,1385.9 869.1,1384.4 871.6,1382.8 874.1,1381.3 876.6,1379.8 879.1,1378.3 881.6,1376.8 884.0,1375.3 886.5,1373.8 889.0,1372.3 891.5,1370.8 894.0,1369.3 896.5,1367.8 899.0,1366.4 901.5,1364.9 904.0,1363.4 906.5,1361.9 909.0,1360.4 911.5,1358.9 914.0,1357.5 916.5,1356.0 919.0,1354.5 921.5,1353.1 924.0,1351.6 926.5,1350.1 929.0,1348.7 931.5,1347.2 934.0,1345.7 936.5,1344.3 939.0,1342.8 941.5,1341.4 944.0,1339.9 946.5,1338.5 949.0,1337.0 951.5,1335.6 954.0,1334.1 956.5,1332.7 959.0,1331.3 961.5,1329.8 964.0,1328.4 966.5,1327.0 969.0,1325.5 971.5,1324.1 974.0,1322.7 976.5,1321.3 979.0,1319.8 981.5,1318.4 983.9,1317.0 986.4,1315.6 988.9,1314.2 991.4,1312.8 993.9,1311.4 996.4,1310.0 998.9,1308.6 1001.4,1307.2 1003.9,1305.8 1006.4,1304.4 1008.9,1303.0 1011.4,1301.6 1013.9,1300.2 1016.4,1298.8 1018.9,1297.5 1021.4,1296.1 1023.9,1294.7 1026.4,1293.3 1028.9,1292.0 1031.4,1290.6 1033.9,1289.2 1036.4,1287.9 1038.9,1286.5 1041.4,1285.1 1043.9,1283.8 1046.4,1282.4 1048.9,1281.1 1051.4,1279.7 1053.9,1278.4 1056.4,1277.0 1058.9,1275.7 1061.4,1274.4 1063.9,1273.0 1066.4,1271.7 1068.9,1270.4 1071.4,1269.1 1073.9,1267.7 1076.4,1266.4 1078.9,1265.1 1081.4,1263.8 1083.8,1262.5 1086.3,1261.2 1088.8,1259.9 1091.3,1258.6 1093.8,1257.3 1096.3,1256.0 1098.8,1254.7 1101.3,1253.4 1103.8,1252.1 1106.3,1250.8 1108.8,1249.6 1111.3,1248.3 1113.8,1247.0 1116.3,1245.7 1118.8,1244.5 1121.3,1243.2 1123.8,1242.0 1126.3,1240.7 1128.8,1239.4 1131.3,1238.2 1133.8,1237.0 1136.3,1235.7 1138.8,1234.5 1141.3,1233.2 1143.8,1232.0 1146.3,1230.8 1148.8,1229.6 1151.3,1228.3 1153.8,1227.1 1156.3,1225.9 1158.8,1224.7 1161.3,1223.5 1163.8,1222.3 1166.3,1221.1 1168.8,1219.9 1171.3,1218.7 1173.8,1217.5 1176.3,1216.3 1178.8,1215.2 1181.3,1214.0 1183.7,1212.8 1186.2,1211.7 1188.7,1210.5 1191.2,1209.3 1193.7,1208.2 1196.2,1207.0 1198.7,1205.9 1201.2,1204.7 1203.7,1203.6 1206.2,1202.5 1208.7,1201.4 1211.2,1200.2 1213.7,1199.1 1216.2,1198.0 1218.7,1196.9 1221.2,1195.8 1223.7,1194.7 1226.2,1193.6 1228.7,1192.5 1231.2,1191.4 1233.7,1190.3 1236.2,1189.2 1238.7,1188.2 1241.2,1187.1 1243.7,1186.0 1246.2,1185.0 1248.7,1183.9 1251.2,1182.9 1253.7,1181.8 1256.2,1180.8 1258.7,1179.7 1261.2,1178.7 1263.7,1177.7 1266.2,1176.7 1268.7,1175.7 1271.2,1174.6 1273.7,1173.6 1276.2,1172.6 1278.7,1171.6 1281.2,1170.7 1283.6,1169.7 1286.1,1168.7 1288.6,1167.7 1291.1,1166.8 1293.6,1165.8 1296.1,1164.8 1298.6,1163.9 1301.1,1162.9 1303.6,1162.0 1306.1,1161.1 1308.6,1160.1 1311.1,1159.2 1313.6,1158.3 1316.1,1157.4 1318.6,1156.5 1321.1,1155.6 1323.6,1154.7 1326.1,1153.8 1328.6,1152.9 1331.1,1152.1" fill="none" stroke="#1EAAE6" stroke-width="3.7" stroke-linejoin="round" stroke-linecap="round"/>
<polyline points="834.1,1405.7 836.6,1403.6 839.1,1401.6 841.6,1399.5 844.1,1397.4 846.6,1395.3 849.1,1393.3 851.6,1391.2 854.1,1389.1 856.6,1387.1 859.1,1385.0 861.6,1383.0 864.1,1380.9 866.6,1378.9 869.1,1376.8 871.6,1374.8 874.1,1372.7 876.6,1370.7 879.1,1368.6 881.6,1366.6 884.0,1364.5 886.5,1362.5 889.0,1360.5 891.5,1358.4 894.0,1356.4 896.5,1354.4 899.0,1352.3 901.5,1350.3 904.0,1348.3 906.5,1346.3 909.0,1344.2 911.5,1342.2 914.0,1340.2 916.5,1338.2 919.0,1336.2 921.5,1334.2 924.0,1332.2 926.5,1330.2 929.0,1328.2 931.5,1326.2 934.0,1324.2 936.5,1322.2 939.0,1320.2 941.5,1318.2 944.0,1316.2 946.5,1314.3 949.0,1312.3 951.5,1310.3 954.0,1308.3 956.5,1306.4 959.0,1304.4 961.5,1302.4 964.0,1300.5 966.5,1298.5 969.0,1296.6 971.5,1294.6 974.0,1292.7 976.5,1290.7 979.0,1288.8 981.5,1286.8 983.9,1284.9 986.4,1283.0 988.9,1281.0 991.4,1279.1 993.9,1277.2 996.4,1275.3 998.9,1273.3 1001.4,1271.4 1003.9,1269.5 1006.4,1267.6 1008.9,1265.7 1011.4,1263.8 1013.9,1261.9 1016.4,1260.0 1018.9,1258.1 1021.4,1256.2 1023.9,1254.3 1026.4,1252.4 1028.9,1250.6 1031.4,1248.7 1033.9,1246.8 1036.4,1245.0 1038.9,1243.1 1041.4,1241.2 1043.9,1239.4 1046.4,1237.5 1048.9,1235.7 1051.4,1233.8 1053.9,1232.0 1056.4,1230.1 1058.9,1228.3 1061.4,1226.5 1063.9,1224.7 1066.4,1222.8 1068.9,1221.0 1071.4,1219.2 1073.9,1217.4 1076.4,1215.6 1078.9,1213.8 1081.4,1212.0 1083.8,1210.2 1086.3,1208.4 1088.8,1206.6 1091.3,1204.8 1093.8,1203.0 1096.3,1201.3 1098.8,1199.5 1101.3,1197.7 1103.8,1196.0 1106.3,1194.2 1108.8,1192.5 1111.3,1190.7 1113.8,1189.0 1116.3,1187.2 1118.8,1185.5 1121.3,1183.8 1123.8,1182.0 1126.3,1180.3 1128.8,1178.6 1131.3,1176.9 1133.8,1175.2 1136.3,1173.5 1138.8,1171.8 1141.3,1170.1 1143.8,1168.4 1146.3,1166.7 1148.8,1165.0 1151.3,1163.4 1153.8,1161.7 1156.3,1160.0 1158.8,1158.4 1161.3,1156.7 1163.8,1155.1 1166.3,1153.4 1168.8,1151.8 1171.3,1150.1 1173.8,1148.5 1176.3,1146.9 1178.8,1145.3 1181.3,1143.7 1183.7,1142.0 1186.2,1140.4 1188.7,1138.8 1191.2,1137.3 1193.7,1135.7 1196.2,1134.1 1198.7,1132.5 1201.2,1130.9 1203.7,1129.4 1206.2,1127.8 1208.7,1126.2 1211.2,1124.7 1213.7,1123.1 1216.2,1121.6 1218.7,1120.1 1221.2,1118.5 1223.7,1117.0 1226.2,1115.5 1228.7,1114.0 1231.2,1112.5 1233.7,1111.0 1236.2,1109.5 1238.7,1108.0 1241.2,1106.5 1243.7,1105.0 1246.2,1103.6 1248.7,1102.1 1251.2,1100.6 1253.7,1099.2 1256.2,1097.7 1258.7,1096.3 1261.2,1094.9 1263.7,1093.4 1266.2,1092.0 1268.7,1090.6 1271.2,1089.2 1273.7,1087.8 1276.2,1086.4 1278.7,1085.0 1281.2,1083.6 1283.6,1082.2 1286.1,1080.8 1288.6,1079.5 1291.1,1078.1 1293.6,1076.7 1296.1,1075.4 1298.6,1074.1 1301.1,1072.7 1303.6,1071.4 1306.1,1070.1 1308.6,1068.7 1311.1,1067.4 1313.6,1066.1 1316.1,1064.8 1318.6,1063.5 1321.1,1062.3 1323.6,1061.0 1326.1,1059.7 1328.6,1058.4 1331.1,1057.2" fill="none" stroke="#1EE87A" stroke-width="3.7" stroke-linejoin="round" stroke-linecap="round"/>
<polyline points="834.1,1405.7 836.6,1403.2 839.1,1400.8 841.6,1398.3 844.1,1395.8 846.6,1393.4 849.1,1390.9 851.6,1388.5 854.1,1386.0 856.6,1383.6 859.1,1381.1 861.6,1378.7 864.1,1376.2 866.6,1373.8 869.1,1371.3 871.6,1368.9 874.1,1366.4 876.6,1364.0 879.1,1361.6 881.6,1359.1 884.0,1356.7 886.5,1354.3 889.0,1351.8 891.5,1349.4 894.0,1347.0 896.5,1344.6 899.0,1342.2 901.5,1339.8 904.0,1337.4 906.5,1334.9 909.0,1332.5 911.5,1330.1 914.0,1327.7 916.5,1325.3 919.0,1322.9 921.5,1320.6 924.0,1318.2 926.5,1315.8 929.0,1313.4 931.5,1311.0 934.0,1308.6 936.5,1306.3 939.0,1303.9 941.5,1301.5 944.0,1299.2 946.5,1296.8 949.0,1294.5 951.5,1292.1 954.0,1289.8 956.5,1287.4 959.0,1285.1 961.5,1282.7 964.0,1280.4 966.5,1278.1 969.0,1275.7 971.5,1273.4 974.0,1271.1 976.5,1268.8 979.0,1266.5 981.5,1264.1 983.9,1261.8 986.4,1259.5 988.9,1257.2 991.4,1254.9 993.9,1252.7 996.4,1250.4 998.9,1248.1 1001.4,1245.8 1003.9,1243.5 1006.4,1241.3 1008.9,1239.0 1011.4,1236.7 1013.9,1234.5 1016.4,1232.2 1018.9,1230.0 1021.4,1227.7 1023.9,1225.5 1026.4,1223.3 1028.9,1221.0 1031.4,1218.8 1033.9,1216.6 1036.4,1214.4 1038.9,1212.1 1041.4,1209.9 1043.9,1207.7 1046.4,1205.5 1048.9,1203.3 1051.4,1201.1 1053.9,1199.0 1056.4,1196.8 1058.9,1194.6 1061.4,1192.4 1063.9,1190.3 1066.4,1188.1 1068.9,1186.0 1071.4,1183.8 1073.9,1181.7 1076.4,1179.5 1078.9,1177.4 1081.4,1175.3 1083.8,1173.1 1086.3,1171.0 1088.8,1168.9 1091.3,1166.8 1093.8,1164.7 1096.3,1162.6 1098.8,1160.5 1101.3,1158.4 1103.8,1156.3 1106.3,1154.3 1108.8,1152.2 1111.3,1150.1 1113.8,1148.1 1116.3,1146.0 1118.8,1144.0 1121.3,1141.9 1123.8,1139.9 1126.3,1137.9 1128.8,1135.9 1131.3,1133.8 1133.8,1131.8 1136.3,1129.8 1138.8,1127.8 1141.3,1125.8 1143.8,1123.9 1146.3,1121.9 1148.8,1119.9 1151.3,1117.9 1153.8,1116.0 1156.3,1114.0 1158.8,1112.1 1161.3,1110.1 1163.8,1108.2 1166.3,1106.3 1168.8,1104.3 1171.3,1102.4 1173.8,1100.5 1176.3,1098.6 1178.8,1096.7 1181.3,1094.8 1183.7,1093.0 1186.2,1091.1 1188.7,1089.2 1191.2,1087.4 1193.7,1085.5 1196.2,1083.7 1198.7,1081.8 1201.2,1080.0 1203.7,1078.2 1206.2,1076.3 1208.7,1074.5 1211.2,1072.7 1213.7,1070.9 1216.2,1069.1 1218.7,1067.3 1221.2,1065.6 1223.7,1063.8 1226.2,1062.0 1228.7,1060.3 1231.2,1058.5 1233.7,1056.8 1236.2,1055.1 1238.7,1053.4 1241.2,1051.6 1243.7,1049.9 1246.2,1048.2 1248.7,1046.5 1251.2,1044.9 1253.7,1043.2 1256.2,1041.5 1258.7,1039.8 1261.2,1038.2 1263.7,1036.5 1266.2,1034.9 1268.7,1033.3 1271.2,1031.7 1273.7,1030.0 1276.2,1028.4 1278.7,1026.8 1281.2,1025.3 1283.6,1023.7 1286.1,1022.1 1288.6,1020.5 1291.1,1019.0 1293.6,1017.4 1296.1,1015.9 1298.6,1014.4 1301.1,1012.8 1303.6,1011.3 1306.1,1009.8 1308.6,1008.3 1311.1,1006.8 1313.6,1005.4 1316.1,1003.9 1318.6,1002.4 1321.1,1001.0 1323.6,999.5 1326.1,998.1 1328.6,996.7 1331.1,995.3" fill="none" stroke="#7CE01C" stroke-width="3.7" stroke-linejoin="round" stroke-linecap="round"/>
<polyline points="834.1,1405.7 836.6,1403.0 839.1,1400.2 841.6,1397.5 844.1,1394.8 846.6,1392.1 849.1,1389.4 851.6,1386.6 854.1,1383.9 856.6,1381.2 859.1,1378.5 861.6,1375.8 864.1,1373.1 866.6,1370.4 869.1,1367.7 871.6,1365.0 874.1,1362.3 876.6,1359.6 879.1,1356.9 881.6,1354.2 884.0,1351.5 886.5,1348.8 889.0,1346.2 891.5,1343.5 894.0,1340.8 896.5,1338.1 899.0,1335.5 901.5,1332.8 904.0,1330.1 906.5,1327.5 909.0,1324.8 911.5,1322.2 914.0,1319.5 916.5,1316.9 919.0,1314.2 921.5,1311.6 924.0,1308.9 926.5,1306.3 929.0,1303.7 931.5,1301.0 934.0,1298.4 936.5,1295.8 939.0,1293.2 941.5,1290.6 944.0,1287.9 946.5,1285.3 949.0,1282.7 951.5,1280.1 954.0,1277.5 956.5,1274.9 959.0,1272.4 961.5,1269.8 964.0,1267.2 966.5,1264.6 969.0,1262.0 971.5,1259.5 974.0,1256.9 976.5,1254.3 979.0,1251.8 981.5,1249.2 983.9,1246.7 986.4,1244.1 988.9,1241.6 991.4,1239.1 993.9,1236.5 996.4,1234.0 998.9,1231.5 1001.4,1229.0 1003.9,1226.4 1006.4,1223.9 1008.9,1221.4 1011.4,1218.9 1013.9,1216.4 1016.4,1213.9 1018.9,1211.4 1021.4,1209.0 1023.9,1206.5 1026.4,1204.0 1028.9,1201.6 1031.4,1199.1 1033.9,1196.6 1036.4,1194.2 1038.9,1191.7 1041.4,1189.3 1043.9,1186.9 1046.4,1184.4 1048.9,1182.0 1051.4,1179.6 1053.9,1177.2 1056.4,1174.8 1058.9,1172.4 1061.4,1170.0 1063.9,1167.6 1066.4,1165.2 1068.9,1162.8 1071.4,1160.4 1073.9,1158.1 1076.4,1155.7 1078.9,1153.3 1081.4,1151.0 1083.8,1148.6 1086.3,1146.3 1088.8,1144.0 1091.3,1141.6 1093.8,1139.3 1096.3,1137.0 1098.8,1134.7 1101.3,1132.4 1103.8,1130.1 1106.3,1127.8 1108.8,1125.5 1111.3,1123.2 1113.8,1121.0 1116.3,1118.7 1118.8,1116.4 1121.3,1114.2 1123.8,1111.9 1126.3,1109.7 1128.8,1107.5 1131.3,1105.3 1133.8,1103.0 1136.3,1100.8 1138.8,1098.6 1141.3,1096.4 1143.8,1094.2 1146.3,1092.1 1148.8,1089.9 1151.3,1087.7 1153.8,1085.6 1156.3,1083.4 1158.8,1081.3 1161.3,1079.1 1163.8,1077.0 1166.3,1074.9 1168.8,1072.7 1171.3,1070.6 1173.8,1068.5 1176.3,1066.4 1178.8,1064.4 1181.3,1062.3 1183.7,1060.2 1186.2,1058.2 1188.7,1056.1 1191.2,1054.1 1193.7,1052.0 1196.2,1050.0 1198.7,1048.0 1201.2,1046.0 1203.7,1044.0 1206.2,1042.0 1208.7,1040.0 1211.2,1038.0 1213.7,1036.0 1216.2,1034.1 1218.7,1032.1 1221.2,1030.2 1223.7,1028.2 1226.2,1026.3 1228.7,1024.4 1231.2,1022.5 1233.7,1020.6 1236.2,1018.7 1238.7,1016.8 1241.2,1014.9 1243.7,1013.1 1246.2,1011.2 1248.7,1009.4 1251.2,1007.5 1253.7,1005.7 1256.2,1003.9 1258.7,1002.1 1261.2,1000.3 1263.7,998.5 1266.2,996.7 1268.7,994.9 1271.2,993.2 1273.7,991.4 1276.2,989.7 1278.7,987.9 1281.2,986.2 1283.6,984.5 1286.1,982.8 1288.6,981.1 1291.1,979.4 1293.6,977.8 1296.1,976.1 1298.6,974.5 1301.1,972.8 1303.6,971.2 1306.1,969.6 1308.6,968.0 1311.1,966.4 1313.6,964.8 1316.1,963.2 1318.6,961.6 1321.1,960.1 1323.6,958.5 1326.1,957.0 1328.6,955.5 1331.1,954.0" fill="none" stroke="#F0A020" stroke-width="3.7" stroke-linejoin="round" stroke-linecap="round"/>
<polyline points="834.1,1405.7 836.6,1402.8 839.1,1399.9 841.6,1397.0 844.1,1394.1 846.6,1391.3 849.1,1388.4 851.6,1385.5 854.1,1382.6 856.6,1379.8 859.1,1376.9 861.6,1374.0 864.1,1371.2 866.6,1368.3 869.1,1365.4 871.6,1362.6 874.1,1359.7 876.6,1356.9 879.1,1354.1 881.6,1351.2 884.0,1348.4 886.5,1345.5 889.0,1342.7 891.5,1339.9 894.0,1337.1 896.5,1334.2 899.0,1331.4 901.5,1328.6 904.0,1325.8 906.5,1323.0 909.0,1320.2 911.5,1317.4 914.0,1314.6 916.5,1311.8 919.0,1309.0 921.5,1306.2 924.0,1303.4 926.5,1300.6 929.0,1297.8 931.5,1295.0 934.0,1292.3 936.5,1289.5 939.0,1286.7 941.5,1284.0 944.0,1281.2 946.5,1278.4 949.0,1275.7 951.5,1272.9 954.0,1270.2 956.5,1267.5 959.0,1264.7 961.5,1262.0 964.0,1259.2 966.5,1256.5 969.0,1253.8 971.5,1251.1 974.0,1248.4 976.5,1245.6 979.0,1242.9 981.5,1240.2 983.9,1237.5 986.4,1234.8 988.9,1232.1 991.4,1229.4 993.9,1226.8 996.4,1224.1 998.9,1221.4 1001.4,1218.7 1003.9,1216.1 1006.4,1213.4 1008.9,1210.7 1011.4,1208.1 1013.9,1205.4 1016.4,1202.8 1018.9,1200.1 1021.4,1197.5 1023.9,1194.9 1026.4,1192.2 1028.9,1189.6 1031.4,1187.0 1033.9,1184.4 1036.4,1181.8 1038.9,1179.2 1041.4,1176.6 1043.9,1174.0 1046.4,1171.4 1048.9,1168.8 1051.4,1166.2 1053.9,1163.6 1056.4,1161.1 1058.9,1158.5 1061.4,1155.9 1063.9,1153.4 1066.4,1150.8 1068.9,1148.3 1071.4,1145.8 1073.9,1143.2 1076.4,1140.7 1078.9,1138.2 1081.4,1135.7 1083.8,1133.2 1086.3,1130.7 1088.8,1128.2 1091.3,1125.7 1093.8,1123.2 1096.3,1120.7 1098.8,1118.2 1101.3,1115.8 1103.8,1113.3 1106.3,1110.9 1108.8,1108.4 1111.3,1106.0 1113.8,1103.5 1116.3,1101.1 1118.8,1098.7 1121.3,1096.3 1123.8,1093.9 1126.3,1091.5 1128.8,1089.1 1131.3,1086.7 1133.8,1084.3 1136.3,1081.9 1138.8,1079.6 1141.3,1077.2 1143.8,1074.9 1146.3,1072.5 1148.8,1070.2 1151.3,1067.9 1153.8,1065.5 1156.3,1063.2 1158.8,1060.9 1161.3,1058.6 1163.8,1056.4 1166.3,1054.1 1168.8,1051.8 1171.3,1049.5 1173.8,1047.3 1176.3,1045.0 1178.8,1042.8 1181.3,1040.6 1183.7,1038.4 1186.2,1036.1 1188.7,1033.9 1191.2,1031.7 1193.7,1029.6 1196.2,1027.4 1198.7,1025.2 1201.2,1023.1 1203.7,1020.9 1206.2,1018.8 1208.7,1016.6 1211.2,1014.5 1213.7,1012.4 1216.2,1010.3 1218.7,1008.2 1221.2,1006.1 1223.7,1004.1 1226.2,1002.0 1228.7,1000.0 1231.2,997.9 1233.7,995.9 1236.2,993.9 1238.7,991.9 1241.2,989.9 1243.7,987.9 1246.2,985.9 1248.7,984.0 1251.2,982.0 1253.7,980.1 1256.2,978.1 1258.7,976.2 1261.2,974.3 1263.7,972.4 1266.2,970.5 1268.7,968.7 1271.2,966.8 1273.7,965.0 1276.2,963.1 1278.7,961.3 1281.2,959.5 1283.6,957.7 1286.1,955.9 1288.6,954.1 1291.1,952.4 1293.6,950.6 1296.1,948.9 1298.6,947.2 1301.1,945.5 1303.6,943.8 1306.1,942.1 1308.6,940.4 1311.1,938.8 1313.6,937.1 1316.1,935.5 1318.6,933.9 1321.1,932.3 1323.6,930.7 1326.1,929.1 1328.6,927.6 1331.1,926.0" fill="none" stroke="#E8321E" stroke-width="3.7" stroke-linejoin="round" stroke-linecap="round"/>
<rect x="1532.9" y="835.5" width="498" height="570.3" fill="none" stroke="#000" stroke-width="2.5"/>
<line x1="1532.9" y1="1291.74" x2="1542.9" y2="1291.74" stroke="#000" stroke-width="2.5" stroke-linecap="butt"/>
<line x1="1532.9" y1="1177.68" x2="1542.9" y2="1177.68" stroke="#000" stroke-width="2.5" stroke-linecap="butt"/>
<line x1="1532.9" y1="1063.62" x2="1542.9" y2="1063.62" stroke="#000" stroke-width="2.5" stroke-linecap="butt"/>
<line x1="1532.9" y1="949.56" x2="1542.9" y2="949.56" stroke="#000" stroke-width="2.5" stroke-linecap="butt"/>
<line x1="1532.9" y1="1348.77" x2="1537.9" y2="1348.77" stroke="#000" stroke-width="2.5" stroke-linecap="butt"/>
<line x1="1532.9" y1="1234.71" x2="1537.9" y2="1234.71" stroke="#000" stroke-width="2.5" stroke-linecap="butt"/>
<line x1="1532.9" y1="1120.65" x2="1537.9" y2="1120.65" stroke="#000" stroke-width="2.5" stroke-linecap="butt"/>
<line x1="1532.9" y1="1006.59" x2="1537.9" y2="1006.59" stroke="#000" stroke-width="2.5" stroke-linecap="butt"/>
<line x1="1532.9" y1="892.53" x2="1537.9" y2="892.53" stroke="#000" stroke-width="2.5" stroke-linecap="butt"/>
<text x="1520.6" y="1413.2" font-size="28.5" text-anchor="end">0.0</text>
<text x="1520.6" y="1299.14" font-size="28.5" text-anchor="end">0.1</text>
<text x="1520.6" y="1185.08" font-size="28.5" text-anchor="end">0.2</text>
<text x="1520.6" y="1071.02" font-size="28.5" text-anchor="end">0.3</text>
<text x="1520.6" y="956.96" font-size="28.5" text-anchor="end">0.4</text>
<text x="1520.6" y="842.9" font-size="28.5" text-anchor="end">0.5</text>
<line x1="1781.9" y1="1405.8" x2="1781.9" y2="1395.8" stroke="#000" stroke-width="2.5" stroke-linecap="butt"/>
<line x1="1657.4" y1="1405.8" x2="1657.4" y2="1400.8" stroke="#000" stroke-width="2.5" stroke-linecap="butt"/>
<line x1="1906.4" y1="1405.8" x2="1906.4" y2="1400.8" stroke="#000" stroke-width="2.5" stroke-linecap="butt"/>
<text x="1532.9" y="1439.6" font-size="28.5" text-anchor="middle">0.0</text>
<text x="1781.9" y="1439.6" font-size="28.5" text-anchor="middle">0.5</text>
<text x="2030.9" y="1439.6" font-size="28.5" text-anchor="middle">1.0</text>
<text x="1393.2" y="810.3" font-size="33" font-weight="bold">d</text>
<text transform="translate(1440.9,1089.3) rotate(-90)" font-size="31.5" text-anchor="middle"><tspan font-style="italic">I</tspan><tspan font-size="21" dy="8">ds</tspan><tspan dy="-8"> (mA/μm)</tspan></text>
<text x="1736.8" y="1502.5" font-size="31.5"><tspan font-style="italic">V</tspan><tspan font-size="21" dy="8">ds</tspan><tspan dy="-8"> (V)</tspan></text>
<polyline points="1532.9,1405.8 2030.9,1405.8" fill="none" stroke="#6414D2" stroke-width="3.7" stroke-linejoin="round" stroke-linecap="round"/>
<polyline points="1532.9,1405.8 1535.4,1405.2 1537.9,1404.7 1540.4,1404.1 1542.9,1403.6 1545.4,1403.0 1547.9,1402.5 1550.4,1402.0 1552.9,1401.4 1555.4,1400.9 1557.9,1400.3 1560.4,1399.8 1562.9,1399.3 1565.4,1398.7 1567.9,1398.2 1570.4,1397.7 1572.9,1397.2 1575.4,1396.6 1577.9,1396.1 1580.4,1395.6 1583.0,1395.1 1585.5,1394.6 1588.0,1394.0 1590.5,1393.5 1593.0,1393.0 1595.5,1392.5 1598.0,1392.0 1600.5,1391.5 1603.0,1391.0 1605.5,1390.5 1608.0,1390.0 1610.5,1389.5 1613.0,1389.0 1615.5,1388.5 1618.0,1388.0 1620.5,1387.5 1623.0,1387.0 1625.5,1386.5 1628.0,1386.1 1630.5,1385.6 1633.0,1385.1 1635.5,1384.6 1638.0,1384.1 1640.5,1383.7 1643.0,1383.2 1645.5,1382.7 1648.0,1382.3 1650.5,1381.8 1653.0,1381.3 1655.5,1380.9 1658.0,1380.4 1660.5,1379.9 1663.0,1379.5 1665.5,1379.0 1668.0,1378.6 1670.5,1378.1 1673.0,1377.7 1675.5,1377.2 1678.0,1376.8 1680.5,1376.3 1683.1,1375.9 1685.6,1375.4 1688.1,1375.0 1690.6,1374.6 1693.1,1374.1 1695.6,1373.7 1698.1,1373.3 1700.6,1372.8 1703.1,1372.4 1705.6,1372.0 1708.1,1371.6 1710.6,1371.1 1713.1,1370.7 1715.6,1370.3 1718.1,1369.9 1720.6,1369.5 1723.1,1369.1 1725.6,1368.7 1728.1,1368.2 1730.6,1367.8 1733.1,1367.4 1735.6,1367.0 1738.1,1366.6 1740.6,1366.2 1743.1,1365.8 1745.6,1365.4 1748.1,1365.1 1750.6,1364.7 1753.1,1364.3 1755.6,1363.9 1758.1,1363.5 1760.6,1363.1 1763.1,1362.7 1765.6,1362.4 1768.1,1362.0 1770.6,1361.6 1773.1,1361.2 1775.6,1360.9 1778.1,1360.5 1780.6,1360.1 1783.2,1359.8 1785.7,1359.4 1788.2,1359.0 1790.7,1358.7 1793.2,1358.3 1795.7,1358.0 1798.2,1357.6 1800.7,1357.2 1803.2,1356.9 1805.7,1356.5 1808.2,1356.2 1810.7,1355.9 1813.2,1355.5 1815.7,1355.2 1818.2,1354.8 1820.7,1354.5 1823.2,1354.2 1825.7,1353.8 1828.2,1353.5 1830.7,1353.2 1833.2,1352.8 1835.7,1352.5 1838.2,1352.2 1840.7,1351.9 1843.2,1351.5 1845.7,1351.2 1848.2,1350.9 1850.7,1350.6 1853.2,1350.3 1855.7,1350.0 1858.2,1349.7 1860.7,1349.3 1863.2,1349.0 1865.7,1348.7 1868.2,1348.4 1870.7,1348.1 1873.2,1347.8 1875.7,1347.5 1878.2,1347.3 1880.7,1347.0 1883.3,1346.7 1885.8,1346.4 1888.3,1346.1 1890.8,1345.8 1893.3,1345.5 1895.8,1345.2 1898.3,1345.0 1900.8,1344.7 1903.3,1344.4 1905.8,1344.1 1908.3,1343.9 1910.8,1343.6 1913.3,1343.3 1915.8,1343.1 1918.3,1342.8 1920.8,1342.6 1923.3,1342.3 1925.8,1342.0 1928.3,1341.8 1930.8,1341.5 1933.3,1341.3 1935.8,1341.0 1938.3,1340.8 1940.8,1340.5 1943.3,1340.3 1945.8,1340.0 1948.3,1339.8 1950.8,1339.6 1953.3,1339.3 1955.8,1339.1 1958.3,1338.9 1960.8,1338.6 1963.3,1338.4 1965.8,1338.2 1968.3,1337.9 1970.8,1337.7 1973.3,1337.5 1975.8,1337.3 1978.3,1337.1 1980.8,1336.8 1983.4,1336.6 1985.9,1336.4 1988.4,1336.2 1990.9,1336.0 1993.4,1335.8 1995.9,1335.6 1998.4,1335.4 2000.9,1335.2 2003.4,1335.0 2005.9,1334.8 2008.4,1334.6 2010.9,1334.4 2013.4,1334.2 2015.9,1334.0 2018.4,1333.8 2020.9,1333.7 2023.4,1333.5 2025.9,1333.3 2028.4,1333.1 2030.9,1332.9" fill="none" stroke="#283CDC" stroke-width="3.7" stroke-linejoin="round" stroke-linecap="round"/>
<polyline points="1532.9,1405.8 1535.4,1404.4 1537.9,1402.9 1540.4,1401.5 1542.9,1400.0 1545.4,1398.6 1547.9,1397.1 1550.4,1395.7 1552.9,1394.3 1555.4,1392.9 1557.9,1391.4 1560.4,1390.0 1562.9,1388.6 1565.4,1387.2 1567.9,1385.7 1570.4,1384.3 1572.9,1382.9 1575.4,1381.5 1577.9,1380.1 1580.4,1378.7 1583.0,1377.3 1585.5,1375.9 1588.0,1374.5 1590.5,1373.1 1593.0,1371.7 1595.5,1370.3 1598.0,1368.9 1600.5,1367.5 1603.0,1366.2 1605.5,1364.8 1608.0,1363.4 1610.5,1362.0 1613.0,1360.7 1615.5,1359.3 1618.0,1357.9 1620.5,1356.5 1623.0,1355.2 1625.5,1353.8 1628.0,1352.5 1630.5,1351.1 1633.0,1349.8 1635.5,1348.4 1638.0,1347.1 1640.5,1345.7 1643.0,1344.4 1645.5,1343.0 1648.0,1341.7 1650.5,1340.4 1653.0,1339.0 1655.5,1337.7 1658.0,1336.4 1660.5,1335.0 1663.0,1333.7 1665.5,1332.4 1668.0,1331.1 1670.5,1329.8 1673.0,1328.5 1675.5,1327.2 1678.0,1325.8 1680.5,1324.5 1683.1,1323.2 1685.6,1321.9 1688.1,1320.6 1690.6,1319.4 1693.1,1318.1 1695.6,1316.8 1698.1,1315.5 1700.6,1314.2 1703.1,1312.9 1705.6,1311.6 1708.1,1310.4 1710.6,1309.1 1713.1,1307.8 1715.6,1306.6 1718.1,1305.3 1720.6,1304.0 1723.1,1302.8 1725.6,1301.5 1728.1,1300.3 1730.6,1299.0 1733.1,1297.8 1735.6,1296.5 1738.1,1295.3 1740.6,1294.1 1743.1,1292.8 1745.6,1291.6 1748.1,1290.4 1750.6,1289.1 1753.1,1287.9 1755.6,1286.7 1758.1,1285.5 1760.6,1284.3 1763.1,1283.0 1765.6,1281.8 1768.1,1280.6 1770.6,1279.4 1773.1,1278.2 1775.6,1277.0 1778.1,1275.8 1780.6,1274.6 1783.2,1273.4 1785.7,1272.3 1788.2,1271.1 1790.7,1269.9 1793.2,1268.7 1795.7,1267.5 1798.2,1266.4 1800.7,1265.2 1803.2,1264.0 1805.7,1262.9 1808.2,1261.7 1810.7,1260.6 1813.2,1259.4 1815.7,1258.3 1818.2,1257.1 1820.7,1256.0 1823.2,1254.8 1825.7,1253.7 1828.2,1252.6 1830.7,1251.5 1833.2,1250.3 1835.7,1249.2 1838.2,1248.1 1840.7,1247.0 1843.2,1245.9 1845.7,1244.7 1848.2,1243.6 1850.7,1242.5 1853.2,1241.4 1855.7,1240.3 1858.2,1239.3 1860.7,1238.2 1863.2,1237.1 1865.7,1236.0 1868.2,1234.9 1870.7,1233.8 1873.2,1232.8 1875.7,1231.7 1878.2,1230.6 1880.7,1229.6 1883.3,1228.5 1885.8,1227.5 1888.3,1226.4 1890.8,1225.4 1893.3,1224.3 1895.8,1223.3 1898.3,1222.3 1900.8,1221.2 1903.3,1220.2 1905.8,1219.2 1908.3,1218.2 1910.8,1217.1 1913.3,1216.1 1915.8,1215.1 1918.3,1214.1 1920.8,1213.1 1923.3,1212.1 1925.8,1211.1 1928.3,1210.1 1930.8,1209.2 1933.3,1208.2 1935.8,1207.2 1938.3,1206.2 1940.8,1205.3 1943.3,1204.3 1945.8,1203.3 1948.3,1202.4 1950.8,1201.4 1953.3,1200.5 1955.8,1199.5 1958.3,1198.6 1960.8,1197.7 1963.3,1196.7 1965.8,1195.8 1968.3,1194.9 1970.8,1193.9 1973.3,1193.0 1975.8,1192.1 1978.3,1191.2 1980.8,1190.3 1983.4,1189.4 1985.9,1188.5 1988.4,1187.6 1990.9,1186.8 1993.4,1185.9 1995.9,1185.0 1998.4,1184.1 2000.9,1183.3 2003.4,1182.4 2005.9,1181.5 2008.4,1180.7 2010.9,1179.8 2013.4,1179.0 2015.9,1178.2 2018.4,1177.3 2020.9,1176.5 2023.4,1175.7 2025.9,1174.8 2028.4,1174.0 2030.9,1173.2" fill="none" stroke="#1EAAE6" stroke-width="3.7" stroke-linejoin="round" stroke-linecap="round"/>
<polyline points="1532.9,1405.8 1535.4,1403.7 1537.9,1401.6 1540.4,1399.5 1542.9,1397.5 1545.4,1395.4 1547.9,1393.3 1550.4,1391.2 1552.9,1389.2 1555.4,1387.1 1557.9,1385.0 1560.4,1383.0 1562.9,1380.9 1565.4,1378.8 1567.9,1376.8 1570.4,1374.7 1572.9,1372.7 1575.4,1370.6 1577.9,1368.6 1580.4,1366.6 1583.0,1364.5 1585.5,1362.5 1588.0,1360.4 1590.5,1358.4 1593.0,1356.4 1595.5,1354.4 1598.0,1352.3 1600.5,1350.3 1603.0,1348.3 1605.5,1346.3 1608.0,1344.3 1610.5,1342.3 1613.0,1340.3 1615.5,1338.3 1618.0,1336.3 1620.5,1334.3 1623.0,1332.3 1625.5,1330.3 1628.0,1328.3 1630.5,1326.4 1633.0,1324.4 1635.5,1322.4 1638.0,1320.4 1640.5,1318.5 1643.0,1316.5 1645.5,1314.5 1648.0,1312.6 1650.5,1310.6 1653.0,1308.7 1655.5,1306.7 1658.0,1304.8 1660.5,1302.8 1663.0,1300.9 1665.5,1298.9 1668.0,1297.0 1670.5,1295.1 1673.0,1293.1 1675.5,1291.2 1678.0,1289.3 1680.5,1287.4 1683.1,1285.5 1685.6,1283.6 1688.1,1281.7 1690.6,1279.8 1693.1,1277.9 1695.6,1276.0 1698.1,1274.1 1700.6,1272.2 1703.1,1270.3 1705.6,1268.4 1708.1,1266.5 1710.6,1264.7 1713.1,1262.8 1715.6,1260.9 1718.1,1259.1 1720.6,1257.2 1723.1,1255.4 1725.6,1253.5 1728.1,1251.7 1730.6,1249.8 1733.1,1248.0 1735.6,1246.2 1738.1,1244.3 1740.6,1242.5 1743.1,1240.7 1745.6,1238.9 1748.1,1237.1 1750.6,1235.2 1753.1,1233.4 1755.6,1231.6 1758.1,1229.8 1760.6,1228.1 1763.1,1226.3 1765.6,1224.5 1768.1,1222.7 1770.6,1220.9 1773.1,1219.2 1775.6,1217.4 1778.1,1215.6 1780.6,1213.9 1783.2,1212.1 1785.7,1210.4 1788.2,1208.6 1790.7,1206.9 1793.2,1205.2 1795.7,1203.5 1798.2,1201.7 1800.7,1200.0 1803.2,1198.3 1805.7,1196.6 1808.2,1194.9 1810.7,1193.2 1813.2,1191.5 1815.7,1189.8 1818.2,1188.2 1820.7,1186.5 1823.2,1184.8 1825.7,1183.1 1828.2,1181.5 1830.7,1179.8 1833.2,1178.2 1835.7,1176.5 1838.2,1174.9 1840.7,1173.3 1843.2,1171.7 1845.7,1170.0 1848.2,1168.4 1850.7,1166.8 1853.2,1165.2 1855.7,1163.6 1858.2,1162.0 1860.7,1160.5 1863.2,1158.9 1865.7,1157.3 1868.2,1155.7 1870.7,1154.2 1873.2,1152.6 1875.7,1151.1 1878.2,1149.5 1880.7,1148.0 1883.3,1146.5 1885.8,1145.0 1888.3,1143.5 1890.8,1142.0 1893.3,1140.5 1895.8,1139.0 1898.3,1137.5 1900.8,1136.0 1903.3,1134.5 1905.8,1133.1 1908.3,1131.6 1910.8,1130.1 1913.3,1128.7 1915.8,1127.3 1918.3,1125.8 1920.8,1124.4 1923.3,1123.0 1925.8,1121.6 1928.3,1120.2 1930.8,1118.8 1933.3,1117.4 1935.8,1116.1 1938.3,1114.7 1940.8,1113.3 1943.3,1112.0 1945.8,1110.6 1948.3,1109.3 1950.8,1108.0 1953.3,1106.6 1955.8,1105.3 1958.3,1104.0 1960.8,1102.7 1963.3,1101.4 1965.8,1100.2 1968.3,1098.9 1970.8,1097.6 1973.3,1096.4 1975.8,1095.1 1978.3,1093.9 1980.8,1092.7 1983.4,1091.5 1985.9,1090.2 1988.4,1089.1 1990.9,1087.9 1993.4,1086.7 1995.9,1085.5 1998.4,1084.3 2000.9,1083.2 2003.4,1082.0 2005.9,1080.9 2008.4,1079.8 2010.9,1078.7 2013.4,1077.6 2015.9,1076.5 2018.4,1075.4 2020.9,1074.3 2023.4,1073.3 2025.9,1072.2 2028.4,1071.2 2030.9,1070.1" fill="none" stroke="#1EE87A" stroke-width="3.7" stroke-linejoin="round" stroke-linecap="round"/>
<polyline points="1532.9,1405.8 1535.4,1403.2 1537.9,1400.6 1540.4,1398.0 1542.9,1395.4 1545.4,1392.8 1547.9,1390.2 1550.4,1387.6 1552.9,1385.0 1555.4,1382.4 1557.9,1379.8 1560.4,1377.3 1562.9,1374.7 1565.4,1372.1 1567.9,1369.6 1570.4,1367.0 1572.9,1364.4 1575.4,1361.9 1577.9,1359.3 1580.4,1356.8 1583.0,1354.2 1585.5,1351.7 1588.0,1349.2 1590.5,1346.6 1593.0,1344.1 1595.5,1341.6 1598.0,1339.1 1600.5,1336.6 1603.0,1334.0 1605.5,1331.5 1608.0,1329.0 1610.5,1326.5 1613.0,1324.0 1615.5,1321.6 1618.0,1319.1 1620.5,1316.6 1623.0,1314.1 1625.5,1311.6 1628.0,1309.2 1630.5,1306.7 1633.0,1304.3 1635.5,1301.8 1638.0,1299.4 1640.5,1296.9 1643.0,1294.5 1645.5,1292.0 1648.0,1289.6 1650.5,1287.2 1653.0,1284.8 1655.5,1282.4 1658.0,1280.0 1660.5,1277.5 1663.0,1275.2 1665.5,1272.8 1668.0,1270.4 1670.5,1268.0 1673.0,1265.6 1675.5,1263.2 1678.0,1260.9 1680.5,1258.5 1683.1,1256.2 1685.6,1253.8 1688.1,1251.5 1690.6,1249.1 1693.1,1246.8 1695.6,1244.5 1698.1,1242.1 1700.6,1239.8 1703.1,1237.5 1705.6,1235.2 1708.1,1232.9 1710.6,1230.6 1713.1,1228.3 1715.6,1226.1 1718.1,1223.8 1720.6,1221.5 1723.1,1219.2 1725.6,1217.0 1728.1,1214.7 1730.6,1212.5 1733.1,1210.3 1735.6,1208.0 1738.1,1205.8 1740.6,1203.6 1743.1,1201.4 1745.6,1199.2 1748.1,1197.0 1750.6,1194.8 1753.1,1192.6 1755.6,1190.4 1758.1,1188.2 1760.6,1186.1 1763.1,1183.9 1765.6,1181.8 1768.1,1179.6 1770.6,1177.5 1773.1,1175.3 1775.6,1173.2 1778.1,1171.1 1780.6,1169.0 1783.2,1166.9 1785.7,1164.8 1788.2,1162.7 1790.7,1160.6 1793.2,1158.5 1795.7,1156.5 1798.2,1154.4 1800.7,1152.3 1803.2,1150.3 1805.7,1148.3 1808.2,1146.2 1810.7,1144.2 1813.2,1142.2 1815.7,1140.2 1818.2,1138.2 1820.7,1136.2 1823.2,1134.2 1825.7,1132.2 1828.2,1130.2 1830.7,1128.3 1833.2,1126.3 1835.7,1124.4 1838.2,1122.4 1840.7,1120.5 1843.2,1118.6 1845.7,1116.7 1848.2,1114.8 1850.7,1112.9 1853.2,1111.0 1855.7,1109.1 1858.2,1107.2 1860.7,1105.3 1863.2,1103.5 1865.7,1101.6 1868.2,1099.8 1870.7,1097.9 1873.2,1096.1 1875.7,1094.3 1878.2,1092.5 1880.7,1090.7 1883.3,1088.9 1885.8,1087.1 1888.3,1085.4 1890.8,1083.6 1893.3,1081.8 1895.8,1080.1 1898.3,1078.3 1900.8,1076.6 1903.3,1074.9 1905.8,1073.2 1908.3,1071.5 1910.8,1069.8 1913.3,1068.1 1915.8,1066.4 1918.3,1064.8 1920.8,1063.1 1923.3,1061.4 1925.8,1059.8 1928.3,1058.2 1930.8,1056.6 1933.3,1055.0 1935.8,1053.3 1938.3,1051.8 1940.8,1050.2 1943.3,1048.6 1945.8,1047.0 1948.3,1045.5 1950.8,1043.9 1953.3,1042.4 1955.8,1040.9 1958.3,1039.4 1960.8,1037.9 1963.3,1036.4 1965.8,1034.9 1968.3,1033.4 1970.8,1031.9 1973.3,1030.5 1975.8,1029.0 1978.3,1027.6 1980.8,1026.2 1983.4,1024.8 1985.9,1023.4 1988.4,1022.0 1990.9,1020.6 1993.4,1019.2 1995.9,1017.8 1998.4,1016.5 2000.9,1015.1 2003.4,1013.8 2005.9,1012.5 2008.4,1011.2 2010.9,1009.9 2013.4,1008.6 2015.9,1007.3 2018.4,1006.0 2020.9,1004.8 2023.4,1003.5 2025.9,1002.3 2028.4,1001.1 2030.9,999.9" fill="none" stroke="#7CE01C" stroke-width="3.7" stroke-linejoin="round" stroke-linecap="round"/>
<polyline points="1532.9,1405.8 1535.4,1402.8 1537.9,1399.8 1540.4,1396.8 1542.9,1393.9 1545.4,1390.9 1547.9,1387.9 1550.4,1384.9 1552.9,1382.0 1555.4,1379.0 1557.9,1376.1 1560.4,1373.1 1562.9,1370.2 1565.4,1367.2 1567.9,1364.3 1570.4,1361.4 1572.9,1358.4 1575.4,1355.5 1577.9,1352.6 1580.4,1349.7 1583.0,1346.8 1585.5,1343.9 1588.0,1341.0 1590.5,1338.1 1593.0,1335.2 1595.5,1332.3 1598.0,1329.4 1600.5,1326.5 1603.0,1323.6 1605.5,1320.8 1608.0,1317.9 1610.5,1315.1 1613.0,1312.2 1615.5,1309.4 1618.0,1306.5 1620.5,1303.7 1623.0,1300.9 1625.5,1298.0 1628.0,1295.2 1630.5,1292.4 1633.0,1289.6 1635.5,1286.8 1638.0,1284.0 1640.5,1281.2 1643.0,1278.4 1645.5,1275.6 1648.0,1272.9 1650.5,1270.1 1653.0,1267.3 1655.5,1264.6 1658.0,1261.8 1660.5,1259.1 1663.0,1256.4 1665.5,1253.6 1668.0,1250.9 1670.5,1248.2 1673.0,1245.5 1675.5,1242.8 1678.0,1240.1 1680.5,1237.4 1683.1,1234.7 1685.6,1232.0 1688.1,1229.4 1690.6,1226.7 1693.1,1224.0 1695.6,1221.4 1698.1,1218.7 1700.6,1216.1 1703.1,1213.5 1705.6,1210.9 1708.1,1208.2 1710.6,1205.6 1713.1,1203.0 1715.6,1200.4 1718.1,1197.9 1720.6,1195.3 1723.1,1192.7 1725.6,1190.1 1728.1,1187.6 1730.6,1185.0 1733.1,1182.5 1735.6,1180.0 1738.1,1177.4 1740.6,1174.9 1743.1,1172.4 1745.6,1169.9 1748.1,1167.4 1750.6,1164.9 1753.1,1162.4 1755.6,1160.0 1758.1,1157.5 1760.6,1155.1 1763.1,1152.6 1765.6,1150.2 1768.1,1147.7 1770.6,1145.3 1773.1,1142.9 1775.6,1140.5 1778.1,1138.1 1780.6,1135.7 1783.2,1133.4 1785.7,1131.0 1788.2,1128.6 1790.7,1126.3 1793.2,1123.9 1795.7,1121.6 1798.2,1119.3 1800.7,1117.0 1803.2,1114.6 1805.7,1112.3 1808.2,1110.1 1810.7,1107.8 1813.2,1105.5 1815.7,1103.2 1818.2,1101.0 1820.7,1098.8 1823.2,1096.5 1825.7,1094.3 1828.2,1092.1 1830.7,1089.9 1833.2,1087.7 1835.7,1085.5 1838.2,1083.3 1840.7,1081.2 1843.2,1079.0 1845.7,1076.9 1848.2,1074.7 1850.7,1072.6 1853.2,1070.5 1855.7,1068.4 1858.2,1066.3 1860.7,1064.2 1863.2,1062.1 1865.7,1060.1 1868.2,1058.0 1870.7,1056.0 1873.2,1053.9 1875.7,1051.9 1878.2,1049.9 1880.7,1047.9 1883.3,1045.9 1885.8,1043.9 1888.3,1041.9 1890.8,1040.0 1893.3,1038.0 1895.8,1036.1 1898.3,1034.2 1900.8,1032.2 1903.3,1030.3 1905.8,1028.4 1908.3,1026.6 1910.8,1024.7 1913.3,1022.8 1915.8,1021.0 1918.3,1019.1 1920.8,1017.3 1923.3,1015.5 1925.8,1013.7 1928.3,1011.9 1930.8,1010.1 1933.3,1008.4 1935.8,1006.6 1938.3,1004.9 1940.8,1003.1 1943.3,1001.4 1945.8,999.7 1948.3,998.0 1950.8,996.3 1953.3,994.6 1955.8,993.0 1958.3,991.3 1960.8,989.7 1963.3,988.1 1965.8,986.5 1968.3,984.9 1970.8,983.3 1973.3,981.7 1975.8,980.1 1978.3,978.6 1980.8,977.0 1983.4,975.5 1985.9,974.0 1988.4,972.5 1990.9,971.0 1993.4,969.5 1995.9,968.1 1998.4,966.6 2000.9,965.2 2003.4,963.8 2005.9,962.4 2008.4,961.0 2010.9,959.6 2013.4,958.2 2015.9,956.8 2018.4,955.5 2020.9,954.2 2023.4,952.9 2025.9,951.6 2028.4,950.3 2030.9,949.0" fill="none" stroke="#F0A020" stroke-width="3.7" stroke-linejoin="round" stroke-linecap="round"/>
<polyline points="1532.9,1405.8 1535.4,1402.6 1537.9,1399.3 1540.4,1396.1 1542.9,1392.9 1545.4,1389.7 1547.9,1386.4 1550.4,1383.2 1552.9,1380.0 1555.4,1376.8 1557.9,1373.6 1560.4,1370.4 1562.9,1367.2 1565.4,1364.0 1567.9,1360.8 1570.4,1357.7 1572.9,1354.5 1575.4,1351.3 1577.9,1348.1 1580.4,1345.0 1583.0,1341.8 1585.5,1338.7 1588.0,1335.5 1590.5,1332.4 1593.0,1329.3 1595.5,1326.1 1598.0,1323.0 1600.5,1319.9 1603.0,1316.8 1605.5,1313.7 1608.0,1310.6 1610.5,1307.5 1613.0,1304.4 1615.5,1301.3 1618.0,1298.2 1620.5,1295.1 1623.0,1292.0 1625.5,1289.0 1628.0,1285.9 1630.5,1282.9 1633.0,1279.8 1635.5,1276.8 1638.0,1273.8 1640.5,1270.7 1643.0,1267.7 1645.5,1264.7 1648.0,1261.7 1650.5,1258.7 1653.0,1255.7 1655.5,1252.7 1658.0,1249.7 1660.5,1246.7 1663.0,1243.8 1665.5,1240.8 1668.0,1237.9 1670.5,1234.9 1673.0,1232.0 1675.5,1229.0 1678.0,1226.1 1680.5,1223.2 1683.1,1220.3 1685.6,1217.4 1688.1,1214.5 1690.6,1211.6 1693.1,1208.7 1695.6,1205.8 1698.1,1203.0 1700.6,1200.1 1703.1,1197.3 1705.6,1194.4 1708.1,1191.6 1710.6,1188.7 1713.1,1185.9 1715.6,1183.1 1718.1,1180.3 1720.6,1177.5 1723.1,1174.7 1725.6,1172.0 1728.1,1169.2 1730.6,1166.4 1733.1,1163.7 1735.6,1160.9 1738.1,1158.2 1740.6,1155.5 1743.1,1152.7 1745.6,1150.0 1748.1,1147.3 1750.6,1144.6 1753.1,1142.0 1755.6,1139.3 1758.1,1136.6 1760.6,1134.0 1763.1,1131.3 1765.6,1128.7 1768.1,1126.1 1770.6,1123.4 1773.1,1120.8 1775.6,1118.2 1778.1,1115.6 1780.6,1113.1 1783.2,1110.5 1785.7,1107.9 1788.2,1105.4 1790.7,1102.8 1793.2,1100.3 1795.7,1097.8 1798.2,1095.3 1800.7,1092.8 1803.2,1090.3 1805.7,1087.8 1808.2,1085.4 1810.7,1082.9 1813.2,1080.4 1815.7,1078.0 1818.2,1075.6 1820.7,1073.2 1823.2,1070.8 1825.7,1068.4 1828.2,1066.0 1830.7,1063.6 1833.2,1061.3 1835.7,1058.9 1838.2,1056.6 1840.7,1054.2 1843.2,1051.9 1845.7,1049.6 1848.2,1047.3 1850.7,1045.0 1853.2,1042.8 1855.7,1040.5 1858.2,1038.3 1860.7,1036.0 1863.2,1033.8 1865.7,1031.6 1868.2,1029.4 1870.7,1027.2 1873.2,1025.0 1875.7,1022.9 1878.2,1020.7 1880.7,1018.6 1883.3,1016.4 1885.8,1014.3 1888.3,1012.2 1890.8,1010.1 1893.3,1008.0 1895.8,1006.0 1898.3,1003.9 1900.8,1001.9 1903.3,999.8 1905.8,997.8 1908.3,995.8 1910.8,993.8 1913.3,991.9 1915.8,989.9 1918.3,987.9 1920.8,986.0 1923.3,984.1 1925.8,982.2 1928.3,980.3 1930.8,978.4 1933.3,976.5 1935.8,974.7 1938.3,972.8 1940.8,971.0 1943.3,969.2 1945.8,967.4 1948.3,965.6 1950.8,963.8 1953.3,962.0 1955.8,960.3 1958.3,958.6 1960.8,956.8 1963.3,955.1 1965.8,953.4 1968.3,951.8 1970.8,950.1 1973.3,948.4 1975.8,946.8 1978.3,945.2 1980.8,943.6 1983.4,942.0 1985.9,940.4 1988.4,938.9 1990.9,937.3 1993.4,935.8 1995.9,934.3 1998.4,932.8 2000.9,931.3 2003.4,929.8 2005.9,928.4 2008.4,926.9 2010.9,925.5 2013.4,924.1 2015.9,922.7 2018.4,921.3 2020.9,920.0 2023.4,918.6 2025.9,917.3 2028.4,916.0 2030.9,914.7" fill="none" stroke="#E8321E" stroke-width="3.7" stroke-linejoin="round" stroke-linecap="round"/>
<rect x="141.4" y="1539.6" width="497" height="570.7" fill="none" stroke="#000" stroke-width="2.5"/>
<line x1="141.4" y1="1967.62" x2="151.4" y2="1967.62" stroke="#000" stroke-width="2.5" stroke-linecap="butt"/>
<line x1="141.4" y1="1824.95" x2="151.4" y2="1824.95" stroke="#000" stroke-width="2.5" stroke-linecap="butt"/>
<line x1="141.4" y1="1682.27" x2="151.4" y2="1682.27" stroke="#000" stroke-width="2.5" stroke-linecap="butt"/>
<line x1="141.4" y1="2038.96" x2="146.4" y2="2038.96" stroke="#000" stroke-width="2.5" stroke-linecap="butt"/>
<line x1="141.4" y1="1896.29" x2="146.4" y2="1896.29" stroke="#000" stroke-width="2.5" stroke-linecap="butt"/>
<line x1="141.4" y1="1753.61" x2="146.4" y2="1753.61" stroke="#000" stroke-width="2.5" stroke-linecap="butt"/>
<line x1="141.4" y1="1610.94" x2="146.4" y2="1610.94" stroke="#000" stroke-width="2.5" stroke-linecap="butt"/>
<text x="129.1" y="2117.7" font-size="28.5" text-anchor="end">0.0</text>
<text x="129.1" y="1975.03" font-size="28.5" text-anchor="end">0.1</text>
<text x="129.1" y="1832.35" font-size="28.5" text-anchor="end">0.2</text>
<text x="129.1" y="1689.67" font-size="28.5" text-anchor="end">0.3</text>
<text x="129.1" y="1547" font-size="28.5" text-anchor="end">0.4</text>
<line x1="191.1" y1="2110.3" x2="191.1" y2="2100.3" stroke="#000" stroke-width="2.5" stroke-linecap="butt"/>
<line x1="290.5" y1="2110.3" x2="290.5" y2="2100.3" stroke="#000" stroke-width="2.5" stroke-linecap="butt"/>
<line x1="389.9" y1="2110.3" x2="389.9" y2="2100.3" stroke="#000" stroke-width="2.5" stroke-linecap="butt"/>
<line x1="489.3" y1="2110.3" x2="489.3" y2="2100.3" stroke="#000" stroke-width="2.5" stroke-linecap="butt"/>
<line x1="588.7" y1="2110.3" x2="588.7" y2="2100.3" stroke="#000" stroke-width="2.5" stroke-linecap="butt"/>
<line x1="240.8" y1="2110.3" x2="240.8" y2="2105.3" stroke="#000" stroke-width="2.5" stroke-linecap="butt"/>
<line x1="340.2" y1="2110.3" x2="340.2" y2="2105.3" stroke="#000" stroke-width="2.5" stroke-linecap="butt"/>
<line x1="439.6" y1="2110.3" x2="439.6" y2="2105.3" stroke="#000" stroke-width="2.5" stroke-linecap="butt"/>
<line x1="539" y1="2110.3" x2="539" y2="2105.3" stroke="#000" stroke-width="2.5" stroke-linecap="butt"/>
<text x="191.1" y="2144.1" font-size="28.5" text-anchor="middle">-8</text>
<text x="290.5" y="2144.1" font-size="28.5" text-anchor="middle">-4</text>
<text x="389.9" y="2144.1" font-size="28.5" text-anchor="middle">0</text>
<text x="489.3" y="2144.1" font-size="28.5" text-anchor="middle">4</text>
<text x="588.7" y="2144.1" font-size="28.5" text-anchor="middle">8</text>
<text x="-1.3" y="1514.4" font-size="33" font-weight="bold">e</text>
<text transform="translate(51.8,1812) rotate(-90)" font-size="31.5" text-anchor="middle"><tspan font-style="italic">I</tspan><tspan font-size="21" dy="8">ds</tspan><tspan dy="-8"> (mA/μm)</tspan></text>
<text x="344.5" y="2206.8" font-size="31.5"><tspan font-style="italic">V</tspan><tspan font-size="21" dy="8">gs</tspan><tspan dy="-8"> (V)</tspan></text>
<text x="441.7" y="2055" font-size="28.5" text-anchor="start">Bi-contact</text>
<line x1="164" y1="1562.8" x2="195.4" y2="1562.8" stroke="#6A14D2" stroke-width="3.6" stroke-linecap="round"/>
<text x="219.3" y="1571.3" font-size="28.5" text-anchor="start">0</text>
<line x1="164" y1="1597.7" x2="195.4" y2="1597.7" stroke="#1E8CE6" stroke-width="3.6" stroke-linecap="round"/>
<text x="219.3" y="1606.2" font-size="28.5" text-anchor="start">40mins</text>
<line x1="164" y1="1632.6" x2="195.4" y2="1632.6" stroke="#50E61E" stroke-width="3.6" stroke-linecap="round"/>
<text x="219.3" y="1641.1" font-size="28.5" text-anchor="start">2h</text>
<line x1="164" y1="1667.5" x2="195.4" y2="1667.5" stroke="#EAF016" stroke-width="3.6" stroke-linecap="round"/>
<text x="219.3" y="1676" font-size="28.5" text-anchor="start">4h</text>
<line x1="164" y1="1702.4" x2="195.4" y2="1702.4" stroke="#E63C1E" stroke-width="3.6" stroke-linecap="round"/>
<text x="219.3" y="1710.9" font-size="28.5" text-anchor="start">6h</text>
<line x1="164" y1="1737.3" x2="195.4" y2="1737.3" stroke="#DC1414" stroke-width="3.6" stroke-linecap="round"/>
<text x="219.3" y="1745.8" font-size="28.5" text-anchor="start">20h</text>
<line x1="164" y1="1772.2" x2="195.4" y2="1772.2" stroke="#8C0A0A" stroke-width="3.6" stroke-linecap="round"/>
<text x="219.3" y="1780.7" font-size="28.5" text-anchor="start">24h</text>
<polyline points="215.9,2110.2 216.6,2110.1 217.2,2110.1 217.8,2110.1 218.4,2110.1 219.1,2110.1 219.7,2110.1 220.3,2110.1 220.9,2110.1 221.5,2110.1 222.2,2110.1 222.8,2110.1 223.4,2110.1 224.0,2110.0 224.6,2110.0 225.3,2110.0 225.9,2110.0 226.5,2110.0 227.1,2110.0 227.8,2110.0 228.4,2110.0 229.0,2109.9 229.6,2109.9 230.2,2109.9 230.9,2109.9 231.5,2109.9 232.1,2109.9 232.7,2109.8 233.3,2109.8 234.0,2109.8 234.6,2109.8 235.2,2109.8 235.8,2109.7 236.5,2109.7 237.1,2109.7 237.7,2109.7 238.3,2109.6 238.9,2109.6 239.6,2109.6 240.2,2109.6 240.8,2109.5 241.4,2109.5 242.0,2109.5 242.7,2109.4 243.3,2109.4 243.9,2109.3 244.5,2109.3 245.1,2109.3 245.8,2109.2 246.4,2109.2 247.0,2109.1 247.6,2109.1 248.3,2109.0 248.9,2109.0 249.5,2108.9 250.1,2108.9 250.7,2108.8 251.4,2108.7 252.0,2108.7 252.6,2108.6 253.2,2108.5 253.8,2108.5 254.5,2108.4 255.1,2108.3 255.7,2108.2 256.3,2108.1 257.0,2108.0 257.6,2107.9 258.2,2107.8 258.8,2107.7 259.4,2107.6 260.1,2107.5 260.7,2107.4 261.3,2107.3 261.9,2107.2 262.5,2107.0 263.2,2106.9 263.8,2106.7 264.4,2106.6 265.0,2106.4 265.6,2106.3 266.3,2106.1 266.9,2105.9 267.5,2105.8 268.1,2105.6 268.8,2105.4 269.4,2105.2 270.0,2105.0 270.6,2104.7 271.2,2104.5 271.9,2104.3 272.5,2104.0 273.1,2103.8 273.7,2103.5 274.3,2103.2 275.0,2102.9 275.6,2102.6 276.2,2102.3 276.8,2102.0 277.5,2101.7 278.1,2101.3 278.7,2100.9 279.3,2100.6 279.9,2100.2 280.6,2099.8 281.2,2099.3 281.8,2098.9 282.4,2098.5 283.0,2098.0 283.7,2097.5 284.3,2097.0 284.9,2096.5 285.5,2095.9 286.2,2095.3 286.8,2094.8 287.4,2094.1 288.0,2093.5 288.6,2092.9 289.3,2092.2 289.9,2091.5 290.5,2090.8 291.1,2090.0 291.7,2089.2 292.4,2088.4 293.0,2087.6 293.6,2086.8 294.2,2085.9 294.8,2085.0 295.5,2084.0 296.1,2083.1 296.7,2082.1 297.3,2081.0 298.0,2080.0 298.6,2078.9 299.2,2077.7 299.8,2076.6 300.4,2075.4 301.1,2074.2 301.7,2072.9 302.3,2071.6 302.9,2070.3 303.5,2068.9 304.2,2067.5 304.8,2066.0 305.4,2064.5 306.0,2063.0 306.7,2061.5 307.3,2059.9 307.9,2058.2 308.5,2056.6 309.1,2054.9 309.8,2053.1 310.4,2051.4 311.0,2049.5 311.6,2047.7 312.2,2045.8 312.9,2043.9 313.5,2041.9 314.1,2039.9 314.7,2037.9 315.4,2035.8 316.0,2033.7 316.6,2031.6 317.2,2029.4 317.8,2027.2 318.5,2025.0 319.1,2022.7 319.7,2020.5 320.3,2018.2 320.9,2015.8 321.6,2013.4 322.2,2011.1 322.8,2008.6 323.4,2006.2 324.0,2003.8 324.7,2001.3 325.3,1998.8 325.9,1996.3 326.5,1993.7 327.2,1991.2 327.8,1988.6 328.4,1986.0 329.0,1983.4 329.6,1980.8 330.3,1978.2 330.9,1975.6 331.5,1973.0 332.1,1970.4 332.7,1967.7 333.4,1965.1 334.0,1962.4 334.6,1959.8 335.2,1957.1 335.9,1954.5 336.5,1951.8 337.1,1949.2 337.7,1946.5 338.3,1943.9 339.0,1941.3 339.6,1938.6 340.2,1936.0 340.8,1933.4 341.4,1930.8 342.1,1928.2 342.7,1925.6 343.3,1923.0 343.9,1920.4 344.5,1917.9 345.2,1915.3 345.8,1912.8 346.4,1910.3 347.0,1907.8 347.7,1905.3 348.3,1902.8 348.9,1900.3 349.5,1897.9 350.1,1895.4 350.8,1893.0 351.4,1890.6 352.0,1888.2 352.6,1885.8 353.2,1883.5 353.9,1881.2 354.5,1878.8 355.1,1876.5 355.7,1874.2 356.4,1872.0 357.0,1869.7 357.6,1867.5 358.2,1865.3 358.8,1863.1 359.5,1860.9 360.1,1858.7 360.7,1856.6 361.3,1854.5 361.9,1852.4 362.6,1850.3 363.2,1848.2 363.8,1846.1 364.4,1844.1 365.1,1842.1 365.7,1840.1 366.3,1838.1 366.9,1836.2 367.5,1834.2 368.2,1832.3 368.8,1830.4 369.4,1828.5 370.0,1826.6 370.6,1824.7 371.3,1822.9 371.9,1821.1 372.5,1819.3 373.1,1817.5 373.7,1815.7 374.4,1813.9 375.0,1812.2 375.6,1810.5 376.2,1808.8 376.9,1807.1 377.5,1805.4 378.1,1803.7 378.7,1802.1 379.3,1800.5 380.0,1798.8 380.6,1797.2 381.2,1795.7 381.8,1794.1 382.4,1792.5 383.1,1791.0 383.7,1789.5 384.3,1787.9 384.9,1786.4 385.6,1785.0 386.2,1783.5 386.8,1782.0 387.4,1780.6 388.0,1779.2 388.7,1777.7 389.3,1776.3 389.9,1775.0 390.5,1773.6 391.1,1772.2 391.8,1770.9 392.4,1769.5 393.0,1768.2 393.6,1766.9 394.2,1765.6 394.9,1764.3 395.5,1763.0 396.1,1761.7 396.7,1760.5 397.4,1759.2 398.0,1758.0 398.6,1756.8 399.2,1755.6 399.8,1754.4 400.5,1753.2 401.1,1752.0 401.7,1750.8 402.3,1749.7 402.9,1748.5 403.6,1747.4 404.2,1746.2 404.8,1745.1 405.4,1744.0 406.1,1742.9 406.7,1741.8 407.3,1740.7 407.9,1739.7 408.5,1738.6 409.2,1737.6 409.8,1736.5 410.4,1735.5 411.0,1734.4 411.6,1733.4 412.3,1732.4 412.9,1731.4 413.5,1730.4 414.1,1729.5 414.8,1728.5 415.4,1727.5 416.0,1726.6 416.6,1725.6 417.2,1724.7 417.9,1723.7 418.5,1722.8 419.1,1721.9 419.7,1721.0 420.3,1720.1 421.0,1719.2 421.6,1718.3 422.2,1717.4 422.8,1716.5 423.4,1715.7 424.1,1714.8 424.7,1713.9 425.3,1713.1 425.9,1712.3 426.6,1711.4 427.2,1710.6 427.8,1709.8 428.4,1709.0 429.0,1708.2 429.7,1707.4 430.3,1706.6 430.9,1705.8 431.5,1705.0 432.1,1704.2 432.8,1703.4 433.4,1702.7 434.0,1701.9 434.6,1701.2 435.3,1700.4 435.9,1699.7 436.5,1699.0 437.1,1698.2 437.7,1697.5 438.4,1696.8 439.0,1696.1 439.6,1695.4 440.2,1694.7 440.8,1694.0 441.5,1693.3 442.1,1692.6 442.7,1691.9 443.3,1691.2 443.9,1690.6 444.6,1689.9 445.2,1689.2 445.8,1688.6 446.4,1687.9 447.1,1687.3 447.7,1686.6 448.3,1686.0 448.9,1685.4 449.5,1684.7 450.2,1684.1 450.8,1683.5 451.4,1682.9 452.0,1682.3 452.6,1681.7 453.3,1681.1 453.9,1680.5 454.5,1679.9 455.1,1679.3 455.8,1678.7 456.4,1678.1 457.0,1677.5 457.6,1677.0 458.2,1676.4 458.9,1675.8 459.5,1675.3 460.1,1674.7 460.7,1674.2 461.3,1673.6 462.0,1673.1 462.6,1672.5 463.2,1672.0 463.8,1671.4 464.5,1670.9 465.1,1670.4 465.7,1669.9 466.3,1669.3 466.9,1668.8 467.6,1668.3 468.2,1667.8 468.8,1667.3 469.4,1666.8 470.0,1666.3 470.7,1665.8 471.3,1665.3 471.9,1664.8 472.5,1664.3 473.1,1663.8 473.8,1663.4 474.4,1662.9 475.0,1662.4 475.6,1661.9 476.3,1661.5 476.9,1661.0 477.5,1660.5 478.1,1660.1 478.7,1659.6 479.4,1659.2 480.0,1658.7 480.6,1658.3 481.2,1657.8 481.8,1657.4 482.5,1656.9 483.1,1656.5 483.7,1656.1 484.3,1655.6 485.0,1655.2 485.6,1654.8 486.2,1654.4 486.8,1653.9 487.4,1653.5 488.1,1653.1 488.7,1652.7 489.3,1652.3 489.9,1651.9 490.5,1651.5 491.2,1651.1 491.8,1650.7 492.4,1650.3 493.0,1649.9 493.6,1649.5 494.3,1649.1 494.9,1648.7 495.5,1648.3 496.1,1647.9 496.8,1647.5 497.4,1647.2 498.0,1646.8 498.6,1646.4 499.2,1646.0 499.9,1645.7 500.5,1645.3 501.1,1644.9 501.7,1644.6 502.3,1644.2 503.0,1643.8 503.6,1643.5 504.2,1643.1 504.8,1642.8 505.5,1642.4 506.1,1642.1 506.7,1641.7 507.3,1641.4 507.9,1641.0 508.6,1640.7 509.2,1640.4 509.8,1640.0 510.4,1639.7 511.0,1639.4 511.7,1639.0 512.3,1638.7 512.9,1638.4 513.5,1638.0 514.1,1637.7 514.8,1637.4 515.4,1637.1 516.0,1636.7 516.6,1636.4 517.3,1636.1 517.9,1635.8 518.5,1635.5 519.1,1635.2 519.7,1634.9 520.4,1634.6 521.0,1634.2 521.6,1633.9 522.2,1633.6 522.8,1633.3 523.5,1633.0 524.1,1632.7 524.7,1632.4 525.3,1632.2 526.0,1631.9 526.6,1631.6 527.2,1631.3 527.8,1631.0 528.4,1630.7 529.1,1630.4 529.7,1630.1 530.3,1629.9 530.9,1629.6 531.5,1629.3 532.2,1629.0 532.8,1628.7 533.4,1628.5 534.0,1628.2 534.7,1627.9 535.3,1627.6 535.9,1627.4 536.5,1627.1 537.1,1626.8 537.8,1626.6 538.4,1626.3 539.0,1626.1 539.6,1625.8 540.2,1625.5 540.9,1625.3 541.5,1625.0 542.1,1624.8 542.7,1624.5 543.3,1624.3 544.0,1624.0 544.6,1623.7 545.2,1623.5 545.8,1623.3 546.5,1623.0 547.1,1622.8 547.7,1622.5 548.3,1622.3 548.9,1622.0 549.6,1621.8 550.2,1621.5 550.8,1621.3 551.4,1621.1 552.0,1620.8 552.7,1620.6 553.3,1620.4 553.9,1620.1 554.5,1619.9 555.2,1619.7 555.8,1619.4 556.4,1619.2 557.0,1619.0 557.6,1618.8 558.3,1618.5 558.9,1618.3 559.5,1618.1 560.1,1617.9 560.7,1617.6 561.4,1617.4 562.0,1617.2 562.6,1617.0 563.2,1616.8 563.9,1616.6 564.5,1616.3 565.1,1616.1 565.7,1615.9 566.3,1615.7 567.0,1615.5 567.6,1615.3 568.2,1615.1 568.8,1614.9 569.4,1614.7 570.1,1614.5 570.7,1614.2 571.3,1614.0 571.9,1613.8 572.5,1613.6 573.2,1613.4 573.8,1613.2 574.4,1613.0 575.0,1612.8 575.7,1612.6 576.3,1612.4 576.9,1612.2 577.5,1612.1 578.1,1611.9 578.8,1611.7 579.4,1611.5 580.0,1611.3 580.6,1611.1 581.2,1610.9 581.9,1610.7 582.5,1610.5 583.1,1610.3 583.7,1610.2 584.4,1610.0 585.0,1609.8 585.6,1609.6 586.2,1609.4 586.8,1609.2 587.5,1609.0 588.1,1608.9 588.7,1608.7" fill="none" stroke="#6A14D2" stroke-width="3.7" stroke-linejoin="round" stroke-linecap="round"/>
<polyline points="215.9,2110.2 216.6,2110.2 217.2,2110.2 217.8,2110.2 218.4,2110.2 219.1,2110.2 219.7,2110.2 220.3,2110.2 220.9,2110.2 221.5,2110.2 222.2,2110.2 222.8,2110.2 223.4,2110.2 224.0,2110.1 224.6,2110.1 225.3,2110.1 225.9,2110.1 226.5,2110.1 227.1,2110.1 227.8,2110.1 228.4,2110.1 229.0,2110.1 229.6,2110.1 230.2,2110.1 230.9,2110.0 231.5,2110.0 232.1,2110.0 232.7,2110.0 233.3,2110.0 234.0,2110.0 234.6,2110.0 235.2,2110.0 235.8,2109.9 236.5,2109.9 237.1,2109.9 237.7,2109.9 238.3,2109.9 238.9,2109.8 239.6,2109.8 240.2,2109.8 240.8,2109.8 241.4,2109.8 242.0,2109.7 242.7,2109.7 243.3,2109.7 243.9,2109.7 244.5,2109.6 245.1,2109.6 245.8,2109.6 246.4,2109.5 247.0,2109.5 247.6,2109.5 248.3,2109.4 248.9,2109.4 249.5,2109.3 250.1,2109.3 250.7,2109.2 251.4,2109.2 252.0,2109.1 252.6,2109.1 253.2,2109.0 253.8,2109.0 254.5,2108.9 255.1,2108.9 255.7,2108.8 256.3,2108.7 257.0,2108.6 257.6,2108.6 258.2,2108.5 258.8,2108.4 259.4,2108.3 260.1,2108.2 260.7,2108.1 261.3,2108.0 261.9,2107.9 262.5,2107.8 263.2,2107.7 263.8,2107.6 264.4,2107.5 265.0,2107.3 265.6,2107.2 266.3,2107.1 266.9,2106.9 267.5,2106.8 268.1,2106.6 268.8,2106.4 269.4,2106.3 270.0,2106.1 270.6,2105.9 271.2,2105.7 271.9,2105.5 272.5,2105.3 273.1,2105.1 273.7,2104.8 274.3,2104.6 275.0,2104.3 275.6,2104.1 276.2,2103.8 276.8,2103.5 277.5,2103.2 278.1,2102.9 278.7,2102.6 279.3,2102.2 279.9,2101.9 280.6,2101.5 281.2,2101.1 281.8,2100.7 282.4,2100.3 283.0,2099.9 283.7,2099.5 284.3,2099.0 284.9,2098.5 285.5,2098.0 286.2,2097.5 286.8,2097.0 287.4,2096.4 288.0,2095.8 288.6,2095.2 289.3,2094.6 289.9,2093.9 290.5,2093.3 291.1,2092.6 291.7,2091.9 292.4,2091.1 293.0,2090.3 293.6,2089.5 294.2,2088.7 294.8,2087.9 295.5,2087.0 296.1,2086.1 296.7,2085.1 297.3,2084.2 298.0,2083.2 298.6,2082.1 299.2,2081.1 299.8,2080.0 300.4,2078.8 301.1,2077.7 301.7,2076.5 302.3,2075.3 302.9,2074.0 303.5,2072.7 304.2,2071.4 304.8,2070.0 305.4,2068.6 306.0,2067.2 306.7,2065.7 307.3,2064.2 307.9,2062.7 308.5,2061.1 309.1,2059.5 309.8,2057.9 310.4,2056.2 311.0,2054.5 311.6,2052.8 312.2,2051.0 312.9,2049.2 313.5,2047.4 314.1,2045.5 314.7,2043.6 315.4,2041.7 316.0,2039.8 316.6,2037.8 317.2,2035.8 317.8,2033.7 318.5,2031.7 319.1,2029.6 319.7,2027.4 320.3,2025.3 320.9,2023.1 321.6,2020.9 322.2,2018.7 322.8,2016.5 323.4,2014.2 324.0,2012.0 324.7,2009.7 325.3,2007.3 325.9,2005.0 326.5,2002.7 327.2,2000.3 327.8,1997.9 328.4,1995.5 329.0,1993.1 329.6,1990.7 330.3,1988.3 330.9,1985.9 331.5,1983.4 332.1,1981.0 332.7,1978.5 333.4,1976.1 334.0,1973.6 334.6,1971.1 335.2,1968.6 335.9,1966.2 336.5,1963.7 337.1,1961.2 337.7,1958.7 338.3,1956.2 339.0,1953.8 339.6,1951.3 340.2,1948.8 340.8,1946.3 341.4,1943.8 342.1,1941.4 342.7,1938.9 343.3,1936.5 343.9,1934.0 344.5,1931.6 345.2,1929.1 345.8,1926.7 346.4,1924.3 347.0,1921.8 347.7,1919.4 348.3,1917.0 348.9,1914.6 349.5,1912.3 350.1,1909.9 350.8,1907.5 351.4,1905.2 352.0,1902.8 352.6,1900.5 353.2,1898.2 353.9,1895.9 354.5,1893.6 355.1,1891.3 355.7,1889.1 356.4,1886.8 357.0,1884.6 357.6,1882.4 358.2,1880.1 358.8,1877.9 359.5,1875.8 360.1,1873.6 360.7,1871.4 361.3,1869.3 361.9,1867.2 362.6,1865.1 363.2,1863.0 363.8,1860.9 364.4,1858.8 365.1,1856.8 365.7,1854.7 366.3,1852.7 366.9,1850.7 367.5,1848.7 368.2,1846.7 368.8,1844.8 369.4,1842.8 370.0,1840.9 370.6,1839.0 371.3,1837.0 371.9,1835.2 372.5,1833.3 373.1,1831.4 373.7,1829.6 374.4,1827.8 375.0,1825.9 375.6,1824.1 376.2,1822.4 376.9,1820.6 377.5,1818.8 378.1,1817.1 378.7,1815.4 379.3,1813.7 380.0,1812.0 380.6,1810.3 381.2,1808.6 381.8,1807.0 382.4,1805.3 383.1,1803.7 383.7,1802.1 384.3,1800.5 384.9,1798.9 385.6,1797.4 386.2,1795.8 386.8,1794.3 387.4,1792.7 388.0,1791.2 388.7,1789.7 389.3,1788.2 389.9,1786.8 390.5,1785.3 391.1,1783.8 391.8,1782.4 392.4,1781.0 393.0,1779.6 393.6,1778.2 394.2,1776.8 394.9,1775.4 395.5,1774.1 396.1,1772.7 396.7,1771.4 397.4,1770.1 398.0,1768.7 398.6,1767.4 399.2,1766.1 399.8,1764.9 400.5,1763.6 401.1,1762.4 401.7,1761.1 402.3,1759.9 402.9,1758.7 403.6,1757.4 404.2,1756.2 404.8,1755.1 405.4,1753.9 406.1,1752.7 406.7,1751.6 407.3,1750.4 407.9,1749.3 408.5,1748.2 409.2,1747.0 409.8,1745.9 410.4,1744.8 411.0,1743.7 411.6,1742.7 412.3,1741.6 412.9,1740.5 413.5,1739.5 414.1,1738.5 414.8,1737.4 415.4,1736.4 416.0,1735.4 416.6,1734.4 417.2,1733.4 417.9,1732.4 418.5,1731.4 419.1,1730.5 419.7,1729.5 420.3,1728.6 421.0,1727.6 421.6,1726.7 422.2,1725.8 422.8,1724.9 423.4,1723.9 424.1,1723.0 424.7,1722.1 425.3,1721.3 425.9,1720.4 426.6,1719.5 427.2,1718.6 427.8,1717.8 428.4,1716.9 429.0,1716.1 429.7,1715.3 430.3,1714.4 430.9,1713.6 431.5,1712.8 432.1,1712.0 432.8,1711.2 433.4,1710.4 434.0,1709.6 434.6,1708.8 435.3,1708.1 435.9,1707.3 436.5,1706.5 437.1,1705.8 437.7,1705.0 438.4,1704.3 439.0,1703.6 439.6,1702.8 440.2,1702.1 440.8,1701.4 441.5,1700.7 442.1,1700.0 442.7,1699.3 443.3,1698.6 443.9,1697.9 444.6,1697.2 445.2,1696.5 445.8,1695.9 446.4,1695.2 447.1,1694.5 447.7,1693.9 448.3,1693.2 448.9,1692.6 449.5,1692.0 450.2,1691.3 450.8,1690.7 451.4,1690.1 452.0,1689.4 452.6,1688.8 453.3,1688.2 453.9,1687.6 454.5,1687.0 455.1,1686.4 455.8,1685.8 456.4,1685.2 457.0,1684.7 457.6,1684.1 458.2,1683.5 458.9,1682.9 459.5,1682.4 460.1,1681.8 460.7,1681.2 461.3,1680.7 462.0,1680.1 462.6,1679.6 463.2,1679.1 463.8,1678.5 464.5,1678.0 465.1,1677.5 465.7,1676.9 466.3,1676.4 466.9,1675.9 467.6,1675.4 468.2,1674.9 468.8,1674.4 469.4,1673.9 470.0,1673.4 470.7,1672.9 471.3,1672.4 471.9,1671.9 472.5,1671.4 473.1,1670.9 473.8,1670.5 474.4,1670.0 475.0,1669.5 475.6,1669.0 476.3,1668.6 476.9,1668.1 477.5,1667.7 478.1,1667.2 478.7,1666.7 479.4,1666.3 480.0,1665.9 480.6,1665.4 481.2,1665.0 481.8,1664.5 482.5,1664.1 483.1,1663.7 483.7,1663.2 484.3,1662.8 485.0,1662.4 485.6,1662.0 486.2,1661.6 486.8,1661.1 487.4,1660.7 488.1,1660.3 488.7,1659.9 489.3,1659.5 489.9,1659.1 490.5,1658.7 491.2,1658.3 491.8,1657.9 492.4,1657.5 493.0,1657.1 493.6,1656.8 494.3,1656.4 494.9,1656.0 495.5,1655.6 496.1,1655.2 496.8,1654.9 497.4,1654.5 498.0,1654.1 498.6,1653.8 499.2,1653.4 499.9,1653.0 500.5,1652.7 501.1,1652.3 501.7,1652.0 502.3,1651.6 503.0,1651.3 503.6,1650.9 504.2,1650.6 504.8,1650.2 505.5,1649.9 506.1,1649.5 506.7,1649.2 507.3,1648.8 507.9,1648.5 508.6,1648.2 509.2,1647.8 509.8,1647.5 510.4,1647.2 511.0,1646.9 511.7,1646.5 512.3,1646.2 512.9,1645.9 513.5,1645.6 514.1,1645.3 514.8,1644.9 515.4,1644.6 516.0,1644.3 516.6,1644.0 517.3,1643.7 517.9,1643.4 518.5,1643.1 519.1,1642.8 519.7,1642.5 520.4,1642.2 521.0,1641.9 521.6,1641.6 522.2,1641.3 522.8,1641.0 523.5,1640.7 524.1,1640.4 524.7,1640.1 525.3,1639.8 526.0,1639.5 526.6,1639.3 527.2,1639.0 527.8,1638.7 528.4,1638.4 529.1,1638.1 529.7,1637.9 530.3,1637.6 530.9,1637.3 531.5,1637.0 532.2,1636.8 532.8,1636.5 533.4,1636.2 534.0,1636.0 534.7,1635.7 535.3,1635.4 535.9,1635.2 536.5,1634.9 537.1,1634.6 537.8,1634.4 538.4,1634.1 539.0,1633.9 539.6,1633.6 540.2,1633.3 540.9,1633.1 541.5,1632.8 542.1,1632.6 542.7,1632.3 543.3,1632.1 544.0,1631.8 544.6,1631.6 545.2,1631.3 545.8,1631.1 546.5,1630.9 547.1,1630.6 547.7,1630.4 548.3,1630.1 548.9,1629.9 549.6,1629.7 550.2,1629.4 550.8,1629.2 551.4,1628.9 552.0,1628.7 552.7,1628.5 553.3,1628.2 553.9,1628.0 554.5,1627.8 555.2,1627.5 555.8,1627.3 556.4,1627.1 557.0,1626.9 557.6,1626.6 558.3,1626.4 558.9,1626.2 559.5,1626.0 560.1,1625.7 560.7,1625.5 561.4,1625.3 562.0,1625.1 562.6,1624.9 563.2,1624.7 563.9,1624.4 564.5,1624.2 565.1,1624.0 565.7,1623.8 566.3,1623.6 567.0,1623.4 567.6,1623.2 568.2,1622.9 568.8,1622.7 569.4,1622.5 570.1,1622.3 570.7,1622.1 571.3,1621.9 571.9,1621.7 572.5,1621.5 573.2,1621.3 573.8,1621.1 574.4,1620.9 575.0,1620.7 575.7,1620.5 576.3,1620.3 576.9,1620.1 577.5,1619.9 578.1,1619.7 578.8,1619.5 579.4,1619.3 580.0,1619.1 580.6,1618.9 581.2,1618.7 581.9,1618.5 582.5,1618.3 583.1,1618.1 583.7,1617.9 584.4,1617.7 585.0,1617.5 585.6,1617.4 586.2,1617.2 586.8,1617.0 587.5,1616.8 588.1,1616.6 588.7,1616.4" fill="none" stroke="#1E8CE6" stroke-width="3.7" stroke-linejoin="round" stroke-linecap="round"/>
<polyline points="215.9,2110.3 216.6,2110.3 217.2,2110.3 217.8,2110.3 218.4,2110.3 219.1,2110.3 219.7,2110.3 220.3,2110.3 220.9,2110.3 221.5,2110.3 222.2,2110.3 222.8,2110.3 223.4,2110.3 224.0,2110.3 224.6,2110.3 225.3,2110.3 225.9,2110.3 226.5,2110.3 227.1,2110.3 227.8,2110.3 228.4,2110.3 229.0,2110.3 229.6,2110.3 230.2,2110.3 230.9,2110.3 231.5,2110.3 232.1,2110.3 232.7,2110.3 233.3,2110.3 234.0,2110.3 234.6,2110.3 235.2,2110.3 235.8,2110.3 236.5,2110.3 237.1,2110.2 237.7,2110.2 238.3,2110.2 238.9,2110.2 239.6,2110.2 240.2,2110.2 240.8,2110.2 241.4,2110.2 242.0,2110.2 242.7,2110.2 243.3,2110.2 243.9,2110.2 244.5,2110.2 245.1,2110.2 245.8,2110.2 246.4,2110.1 247.0,2110.1 247.6,2110.1 248.3,2110.1 248.9,2110.1 249.5,2110.1 250.1,2110.0 250.7,2110.0 251.4,2110.0 252.0,2110.0 252.6,2110.0 253.2,2109.9 253.8,2109.9 254.5,2109.9 255.1,2109.8 255.7,2109.8 256.3,2109.8 257.0,2109.7 257.6,2109.7 258.2,2109.6 258.8,2109.6 259.4,2109.5 260.1,2109.4 260.7,2109.4 261.3,2109.3 261.9,2109.2 262.5,2109.1 263.2,2109.0 263.8,2108.9 264.4,2108.8 265.0,2108.7 265.6,2108.6 266.3,2108.5 266.9,2108.3 267.5,2108.2 268.1,2108.0 268.8,2107.9 269.4,2107.7 270.0,2107.5 270.6,2107.3 271.2,2107.0 271.9,2106.8 272.5,2106.5 273.1,2106.2 273.7,2105.9 274.3,2105.6 275.0,2105.3 275.6,2104.9 276.2,2104.5 276.8,2104.1 277.5,2103.7 278.1,2103.2 278.7,2102.7 279.3,2102.2 279.9,2101.6 280.6,2101.1 281.2,2100.4 281.8,2099.8 282.4,2099.1 283.0,2098.4 283.7,2097.6 284.3,2096.8 284.9,2096.0 285.5,2095.1 286.2,2094.2 286.8,2093.2 287.4,2092.2 288.0,2091.2 288.6,2090.1 289.3,2089.0 289.9,2087.8 290.5,2086.6 291.1,2085.4 291.7,2084.1 292.4,2082.8 293.0,2081.5 293.6,2080.1 294.2,2078.6 294.8,2077.2 295.5,2075.7 296.1,2074.1 296.7,2072.6 297.3,2071.0 298.0,2069.4 298.6,2067.7 299.2,2066.0 299.8,2064.3 300.4,2062.6 301.1,2060.9 301.7,2059.1 302.3,2057.3 302.9,2055.5 303.5,2053.6 304.2,2051.8 304.8,2049.9 305.4,2048.0 306.0,2046.1 306.7,2044.2 307.3,2042.3 307.9,2040.3 308.5,2038.4 309.1,2036.4 309.8,2034.5 310.4,2032.5 311.0,2030.5 311.6,2028.5 312.2,2026.5 312.9,2024.5 313.5,2022.5 314.1,2020.4 314.7,2018.4 315.4,2016.4 316.0,2014.3 316.6,2012.3 317.2,2010.3 317.8,2008.2 318.5,2006.2 319.1,2004.1 319.7,2002.1 320.3,2000.0 320.9,1998.0 321.6,1995.9 322.2,1993.9 322.8,1991.8 323.4,1989.8 324.0,1987.7 324.7,1985.7 325.3,1983.6 325.9,1981.6 326.5,1979.5 327.2,1977.5 327.8,1975.5 328.4,1973.4 329.0,1971.4 329.6,1969.4 330.3,1967.3 330.9,1965.3 331.5,1963.3 332.1,1961.3 332.7,1959.3 333.4,1957.2 334.0,1955.2 334.6,1953.2 335.2,1951.3 335.9,1949.3 336.5,1947.3 337.1,1945.3 337.7,1943.3 338.3,1941.4 339.0,1939.4 339.6,1937.5 340.2,1935.5 340.8,1933.6 341.4,1931.6 342.1,1929.7 342.7,1927.8 343.3,1925.9 343.9,1924.0 344.5,1922.1 345.2,1920.2 345.8,1918.3 346.4,1916.5 347.0,1914.6 347.7,1912.7 348.3,1910.9 348.9,1909.1 349.5,1907.2 350.1,1905.4 350.8,1903.6 351.4,1901.8 352.0,1900.0 352.6,1898.3 353.2,1896.5 353.9,1894.7 354.5,1893.0 355.1,1891.3 355.7,1889.5 356.4,1887.8 357.0,1886.1 357.6,1884.4 358.2,1882.8 358.8,1881.1 359.5,1879.4 360.1,1877.8 360.7,1876.2 361.3,1874.5 361.9,1872.9 362.6,1871.3 363.2,1869.8 363.8,1868.2 364.4,1866.6 365.1,1865.1 365.7,1863.5 366.3,1862.0 366.9,1860.5 367.5,1859.0 368.2,1857.6 368.8,1856.1 369.4,1854.7 370.0,1853.2 370.6,1851.8 371.3,1850.4 371.9,1849.0 372.5,1847.6 373.1,1846.1 373.7,1844.7 374.4,1843.3 375.0,1841.9 375.6,1840.4 376.2,1839.0 376.9,1837.6 377.5,1836.2 378.1,1834.8 378.7,1833.6 379.3,1832.5 380.0,1831.4 380.6,1830.3 381.2,1829.2 381.8,1828.2 382.4,1827.2 383.1,1826.2 383.7,1825.2 384.3,1824.0 384.9,1822.8 385.6,1821.7 386.2,1820.5 386.8,1819.3 387.4,1818.1 388.0,1817.0 388.7,1815.8 389.3,1814.7 389.9,1813.5 390.5,1812.3 391.1,1811.0 391.8,1809.8 392.4,1808.6 393.0,1807.4 393.6,1806.2 394.2,1805.0 394.9,1803.8 395.5,1802.9 396.1,1801.9 396.7,1801.0 397.4,1800.1 398.0,1799.2 398.6,1798.3 399.2,1797.4 399.8,1796.5 400.5,1795.7 401.1,1794.9 401.7,1794.1 402.3,1793.3 402.9,1792.5 403.6,1791.8 404.2,1791.0 404.8,1790.3 405.4,1789.6 406.1,1788.8 406.7,1787.9 407.3,1787.0 407.9,1786.1 408.5,1785.1 409.2,1784.2 409.8,1783.3 410.4,1782.5 411.0,1781.6 411.6,1780.7 412.3,1780.7 412.9,1780.7 413.5,1780.6 414.1,1780.6 414.8,1780.6 415.4,1780.6 416.0,1780.6 416.6,1780.7 417.2,1780.7 417.9,1779.2 418.5,1777.7 419.1,1776.2 419.7,1774.8 420.3,1773.3 421.0,1771.9 421.6,1770.4 422.2,1769.0 422.8,1767.5 423.4,1767.3 424.1,1767.1 424.7,1766.8 425.3,1766.6 425.9,1766.4 426.6,1766.2 427.2,1766.0 427.8,1765.8 428.4,1765.6 429.0,1765.1 429.7,1764.7 430.3,1764.3 430.9,1763.8 431.5,1763.4 432.1,1762.9 432.8,1762.5 433.4,1762.1 434.0,1761.7 434.6,1760.7 435.3,1759.7 435.9,1758.8 436.5,1757.8 437.1,1756.9 437.7,1755.9 438.4,1755.0 439.0,1754.1 439.6,1753.1 440.2,1752.5 440.8,1751.9 441.5,1751.3 442.1,1750.7 442.7,1750.1 443.3,1749.5 443.9,1748.9 444.6,1748.3 445.2,1747.7 445.8,1747.4 446.4,1747.1 447.1,1746.9 447.7,1746.6 448.3,1746.4 448.9,1746.1 449.5,1745.9 450.2,1745.6 450.8,1745.4 451.4,1745.0 452.0,1744.7 452.6,1744.3 453.3,1744.0 453.9,1743.6 454.5,1743.3 455.1,1743.0 455.8,1742.6 456.4,1742.3 457.0,1741.6 457.6,1740.9 458.2,1740.2 458.9,1739.6 459.5,1738.9 460.1,1738.2 460.7,1737.5 461.3,1736.8 462.0,1736.2 462.6,1735.7 463.2,1735.3 463.8,1734.9 464.5,1734.5 465.1,1734.0 465.7,1733.6 466.3,1733.2 466.9,1732.8 467.6,1732.4 468.2,1731.6 468.8,1730.9 469.4,1730.2 470.0,1729.5 470.7,1728.7 471.3,1728.0 471.9,1727.3 472.5,1726.6 473.1,1725.9 473.8,1725.6 474.4,1725.3 475.0,1725.0 475.6,1724.7 476.3,1724.5 476.9,1724.2 477.5,1723.9 478.1,1723.6 478.7,1723.4 479.4,1723.1 480.0,1722.8 480.6,1722.5 481.2,1722.2 481.8,1721.9 482.5,1721.6 483.1,1721.4 483.7,1721.1 484.3,1720.8 485.0,1720.2 485.6,1719.6 486.2,1719.0 486.8,1718.4 487.4,1717.9 488.1,1717.3 488.7,1716.7 489.3,1716.1 489.9,1715.5 490.5,1715.4 491.2,1715.3 491.8,1715.2 492.4,1715.1 493.0,1715.0 493.6,1714.9 494.3,1714.7 494.9,1714.6 495.5,1714.5 496.1,1714.3 496.8,1714.1 497.4,1713.8 498.0,1713.6 498.6,1713.4 499.2,1713.1 499.9,1712.9 500.5,1712.7 501.1,1712.4 501.7,1711.8 502.3,1711.1 503.0,1710.4 503.6,1709.7 504.2,1709.0 504.8,1708.3 505.5,1707.7 506.1,1707.0 506.7,1706.3 507.3,1705.9 507.9,1705.6 508.6,1705.2 509.2,1704.8 509.8,1704.4 510.4,1704.1 511.0,1703.7 511.7,1703.3 512.3,1703.0 512.9,1702.8 513.5,1702.6 514.1,1702.4 514.8,1702.2 515.4,1702.0 516.0,1701.8 516.6,1701.6 517.3,1701.4 517.9,1701.2 518.5,1700.9 519.1,1700.7 519.7,1700.5 520.4,1700.2 521.0,1700.0 521.6,1699.7 522.2,1699.5 522.8,1699.2 523.5,1699.0 524.1,1698.4 524.7,1697.9 525.3,1697.3 526.0,1696.7 526.6,1696.2 527.2,1695.6 527.8,1695.0 528.4,1694.5 529.1,1693.9 529.7,1694.1 530.3,1694.3 530.9,1694.5 531.5,1694.7 532.2,1694.9 532.8,1695.2 533.4,1695.4 534.0,1695.6 534.7,1695.8 535.3,1694.8 535.9,1693.8 536.5,1692.8 537.1,1691.7 537.8,1690.7 538.4,1689.7 539.0,1688.7 539.6,1687.7 540.2,1686.7 540.9,1686.4 541.5,1686.1 542.1,1685.8 542.7,1685.5 543.3,1685.2 544.0,1684.9 544.6,1684.6 545.2,1684.3 545.8,1683.9 546.5,1684.0 547.1,1684.1 547.7,1684.2 548.3,1684.3 548.9,1684.4 549.6,1684.5 550.2,1684.6 550.8,1684.7 551.4,1684.8 552.0,1684.1 552.7,1683.4 553.3,1682.7 553.9,1682.0 554.5,1681.3 555.2,1680.6 555.8,1679.9 556.4,1679.2 557.0,1678.5 557.6,1678.4 558.3,1678.3 558.9,1678.1 559.5,1678.0 560.1,1677.9 560.7,1677.7 561.4,1677.6 562.0,1677.5 562.6,1677.3 563.2,1676.6 563.9,1675.9 564.5,1675.2 565.1,1674.5 565.7,1673.8 566.3,1673.2 567.0,1672.5 567.6,1671.8 568.2,1671.1 568.8,1671.3 569.4,1671.5 570.1,1671.8 570.7,1672.0 571.3,1672.2 571.9,1672.5 572.5,1672.7 573.2,1672.9 573.8,1673.2 574.4,1672.6 575.0,1672.0 575.7,1671.5 576.3,1670.9 576.9,1670.3 577.5,1669.8 578.1,1669.2 578.8,1668.6 579.4,1668.0 580.0,1667.4 580.6,1666.7 581.2,1666.0 581.9,1665.4 582.5,1664.7 583.1,1664.0 583.7,1663.3 584.4,1662.7 585.0,1662.0 585.6,1661.6 586.2,1661.1 586.8,1660.7 587.5,1660.3 588.1,1659.8 588.7,1659.4" fill="none" stroke="#50E61E" stroke-width="3.7" stroke-linejoin="round" stroke-linecap="round"/>
<polyline points="215.9,2110.3 216.6,2110.3 217.2,2110.3 217.8,2110.3 218.4,2110.3 219.1,2110.3 219.7,2110.3 220.3,2110.3 220.9,2110.3 221.5,2110.3 222.2,2110.3 222.8,2110.3 223.4,2110.3 224.0,2110.3 224.6,2110.3 225.3,2110.3 225.9,2110.3 226.5,2110.3 227.1,2110.3 227.8,2110.3 228.4,2110.3 229.0,2110.3 229.6,2110.3 230.2,2110.3 230.9,2110.3 231.5,2110.3 232.1,2110.3 232.7,2110.3 233.3,2110.3 234.0,2110.3 234.6,2110.3 235.2,2110.3 235.8,2110.3 236.5,2110.3 237.1,2110.3 237.7,2110.3 238.3,2110.3 238.9,2110.3 239.6,2110.3 240.2,2110.3 240.8,2110.3 241.4,2110.3 242.0,2110.3 242.7,2110.3 243.3,2110.3 243.9,2110.2 244.5,2110.2 245.1,2110.2 245.8,2110.2 246.4,2110.2 247.0,2110.2 247.6,2110.2 248.3,2110.2 248.9,2110.2 249.5,2110.2 250.1,2110.2 250.7,2110.2 251.4,2110.1 252.0,2110.1 252.6,2110.1 253.2,2110.1 253.8,2110.1 254.5,2110.1 255.1,2110.0 255.7,2110.0 256.3,2110.0 257.0,2110.0 257.6,2109.9 258.2,2109.9 258.8,2109.9 259.4,2109.8 260.1,2109.8 260.7,2109.7 261.3,2109.7 261.9,2109.6 262.5,2109.5 263.2,2109.5 263.8,2109.4 264.4,2109.3 265.0,2109.2 265.6,2109.1 266.3,2109.0 266.9,2108.9 267.5,2108.8 268.1,2108.6 268.8,2108.5 269.4,2108.3 270.0,2108.1 270.6,2107.9 271.2,2107.7 271.9,2107.5 272.5,2107.2 273.1,2107.0 273.7,2106.7 274.3,2106.4 275.0,2106.0 275.6,2105.7 276.2,2105.3 276.8,2104.9 277.5,2104.4 278.1,2103.9 278.7,2103.4 279.3,2102.9 279.9,2102.3 280.6,2101.7 281.2,2101.0 281.8,2100.3 282.4,2099.6 283.0,2098.8 283.7,2098.0 284.3,2097.2 284.9,2096.3 285.5,2095.3 286.2,2094.4 286.8,2093.4 287.4,2092.3 288.0,2091.2 288.6,2090.1 289.3,2088.9 289.9,2087.7 290.5,2086.4 291.1,2085.1 291.7,2083.8 292.4,2082.5 293.0,2081.1 293.6,2079.7 294.2,2078.2 294.8,2076.7 295.5,2075.3 296.1,2073.7 296.7,2072.2 297.3,2070.6 298.0,2069.1 298.6,2067.5 299.2,2065.8 299.8,2064.2 300.4,2062.6 301.1,2060.9 301.7,2059.2 302.3,2057.5 302.9,2055.8 303.5,2054.1 304.2,2052.4 304.8,2050.7 305.4,2048.9 306.0,2047.2 306.7,2045.5 307.3,2043.7 307.9,2041.9 308.5,2040.2 309.1,2038.4 309.8,2036.6 310.4,2034.8 311.0,2033.1 311.6,2031.3 312.2,2029.5 312.9,2027.7 313.5,2025.9 314.1,2024.1 314.7,2022.3 315.4,2020.5 316.0,2018.7 316.6,2016.9 317.2,2015.1 317.8,2013.3 318.5,2011.5 319.1,2009.7 319.7,2007.9 320.3,2006.1 320.9,2004.3 321.6,2002.5 322.2,2000.7 322.8,1998.9 323.4,1997.1 324.0,1995.3 324.7,1993.5 325.3,1991.7 325.9,1989.9 326.5,1988.1 327.2,1986.4 327.8,1984.6 328.4,1982.8 329.0,1981.0 329.6,1979.2 330.3,1977.4 330.9,1975.6 331.5,1973.8 332.1,1972.0 332.7,1970.3 333.4,1968.5 334.0,1966.7 334.6,1964.9 335.2,1963.2 335.9,1961.4 336.5,1959.6 337.1,1957.8 337.7,1956.1 338.3,1954.3 339.0,1952.6 339.6,1950.8 340.2,1949.0 340.8,1947.3 341.4,1945.5 342.1,1943.8 342.7,1942.1 343.3,1940.3 343.9,1938.6 344.5,1936.8 345.2,1935.1 345.8,1933.4 346.4,1931.7 347.0,1929.9 347.7,1928.2 348.3,1926.5 348.9,1924.8 349.5,1923.1 350.1,1921.4 350.8,1919.7 351.4,1918.0 352.0,1916.3 352.6,1914.6 353.2,1912.9 353.9,1911.2 354.5,1909.5 355.1,1907.9 355.7,1906.2 356.4,1904.5 357.0,1902.9 357.6,1901.2 358.2,1899.6 358.8,1897.9 359.5,1896.3 360.1,1894.7 360.7,1893.0 361.3,1891.4 361.9,1889.8 362.6,1888.2 363.2,1886.5 363.8,1884.9 364.4,1883.3 365.1,1881.7 365.7,1880.2 366.3,1878.6 366.9,1877.0 367.5,1875.5 368.2,1873.9 368.8,1872.3 369.4,1870.7 370.0,1869.2 370.6,1867.6 371.3,1866.0 371.9,1864.5 372.5,1862.9 373.1,1861.4 373.7,1860.0 374.4,1858.6 375.0,1857.1 375.6,1855.7 376.2,1854.4 376.9,1853.0 377.5,1851.6 378.1,1850.3 378.7,1848.8 379.3,1847.4 380.0,1845.9 380.6,1844.4 381.2,1843.0 381.8,1841.5 382.4,1840.1 383.1,1838.7 383.7,1837.3 384.3,1835.9 384.9,1834.6 385.6,1833.2 386.2,1831.9 386.8,1830.6 387.4,1829.3 388.0,1828.1 388.7,1826.8 389.3,1825.6 389.9,1824.5 390.5,1823.5 391.1,1822.5 391.8,1821.5 392.4,1820.5 393.0,1819.5 393.6,1818.6 394.2,1817.7 394.9,1816.8 395.5,1815.6 396.1,1814.4 396.7,1813.2 397.4,1812.0 398.0,1810.8 398.6,1809.5 399.2,1808.3 399.8,1807.0 400.5,1805.6 401.1,1804.6 401.7,1803.4 402.3,1802.2 402.9,1801.0 403.6,1799.7 404.2,1798.3 404.8,1796.8 405.4,1795.3 406.1,1793.6 406.7,1791.7 407.3,1789.8 407.9,1787.8 408.5,1785.8 409.2,1783.8 409.8,1781.9 410.4,1780.0 411.0,1778.1 411.6,1776.4 412.3,1774.8 412.9,1773.4 413.5,1772.0 414.1,1770.8 414.8,1769.6 415.4,1768.6 416.0,1767.5 416.6,1766.6 417.2,1765.7 417.9,1765.1 418.5,1764.4 419.1,1763.8 419.7,1763.3 420.3,1762.7 421.0,1762.2 421.6,1761.6 422.2,1761.1 422.8,1760.6 423.4,1759.9 424.1,1759.2 424.7,1758.5 425.3,1757.8 425.9,1757.0 426.6,1756.3 427.2,1755.6 427.8,1754.9 428.4,1754.1 429.0,1753.3 429.7,1752.6 430.3,1751.8 430.9,1751.0 431.5,1750.2 432.1,1749.4 432.8,1748.6 433.4,1747.8 434.0,1747.0 434.6,1746.2 435.3,1745.3 435.9,1744.5 436.5,1743.7 437.1,1742.8 437.7,1742.0 438.4,1741.2 439.0,1740.3 439.6,1739.5 440.2,1738.8 440.8,1738.1 441.5,1737.3 442.1,1736.6 442.7,1735.9 443.3,1735.2 443.9,1734.5 444.6,1733.8 445.2,1733.1 445.8,1732.5 446.4,1732.0 447.1,1731.5 447.7,1731.0 448.3,1730.5 448.9,1730.0 449.5,1729.5 450.2,1729.0 450.8,1728.5 451.4,1727.8 452.0,1727.2 452.6,1726.6 453.3,1725.9 453.9,1725.3 454.5,1724.7 455.1,1724.1 455.8,1723.5 456.4,1722.9 457.0,1722.3 457.6,1721.8 458.2,1721.2 458.9,1720.7 459.5,1720.1 460.1,1719.6 460.7,1719.1 461.3,1718.5 462.0,1718.0 462.6,1717.4 463.2,1716.9 463.8,1716.3 464.5,1715.8 465.1,1715.3 465.7,1714.7 466.3,1714.2 466.9,1713.7 467.6,1713.2 468.2,1712.6 468.8,1712.1 469.4,1711.6 470.0,1711.1 470.7,1710.6 471.3,1710.1 471.9,1709.6 472.5,1709.1 473.1,1708.6 473.8,1708.1 474.4,1707.7 475.0,1707.2 475.6,1706.8 476.3,1706.3 476.9,1705.9 477.5,1705.4 478.1,1705.0 478.7,1704.6 479.4,1703.9 480.0,1703.3 480.6,1702.7 481.2,1702.1 481.8,1701.5 482.5,1700.9 483.1,1700.3 483.7,1699.7 484.3,1699.1 485.0,1698.9 485.6,1698.8 486.2,1698.7 486.8,1698.5 487.4,1698.4 488.1,1698.3 488.7,1698.2 489.3,1698.1 489.9,1697.9 490.5,1697.6 491.2,1697.2 491.8,1696.8 492.4,1696.5 493.0,1696.1 493.6,1695.8 494.3,1695.4 494.9,1695.1 495.5,1694.7 496.1,1694.3 496.8,1693.9 497.4,1693.5 498.0,1693.1 498.6,1692.8 499.2,1692.4 499.9,1692.0 500.5,1691.6 501.1,1691.3 501.7,1691.1 502.3,1690.9 503.0,1690.8 503.6,1690.6 504.2,1690.5 504.8,1690.3 505.5,1690.2 506.1,1690.0 506.7,1689.9 507.3,1689.6 507.9,1689.2 508.6,1688.9 509.2,1688.6 509.8,1688.3 510.4,1688.0 511.0,1687.6 511.7,1687.3 512.3,1687.0 512.9,1686.7 513.5,1686.4 514.1,1686.2 514.8,1685.9 515.4,1685.6 516.0,1685.3 516.6,1685.1 517.3,1684.8 517.9,1684.5 518.5,1684.2 519.1,1683.9 519.7,1683.6 520.4,1683.3 521.0,1683.0 521.6,1682.7 522.2,1682.4 522.8,1682.1 523.5,1681.8 524.1,1681.8 524.7,1681.8 525.3,1681.8 526.0,1681.8 526.6,1681.8 527.2,1681.8 527.8,1681.8 528.4,1681.8 529.1,1681.8 529.7,1681.3 530.3,1680.9 530.9,1680.4 531.5,1680.0 532.2,1679.5 532.8,1679.1 533.4,1678.7 534.0,1678.2 534.7,1677.8 535.3,1677.8 535.9,1677.7 536.5,1677.7 537.1,1677.7 537.8,1677.7 538.4,1677.7 539.0,1677.7 539.6,1677.7 540.2,1677.7 540.9,1677.5 541.5,1677.2 542.1,1677.0 542.7,1676.8 543.3,1676.6 544.0,1676.4 544.6,1676.2 545.2,1676.0 545.8,1675.8 546.5,1675.6 547.1,1675.3 547.7,1675.1 548.3,1674.9 548.9,1674.7 549.6,1674.5 550.2,1674.3 550.8,1674.1 551.4,1673.8 552.0,1673.7 552.7,1673.6 553.3,1673.5 553.9,1673.4 554.5,1673.2 555.2,1673.1 555.8,1673.0 556.4,1672.9 557.0,1672.8 557.6,1672.6 558.3,1672.4 558.9,1672.3 559.5,1672.1 560.1,1671.9 560.7,1671.8 561.4,1671.6 562.0,1671.4 562.6,1671.3 563.2,1671.2 563.9,1671.2 564.5,1671.2 565.1,1671.1 565.7,1671.1 566.3,1671.1 567.0,1671.0 567.6,1671.0 568.2,1671.0 568.8,1670.9 569.4,1670.8 570.1,1670.7 570.7,1670.6 571.3,1670.5 571.9,1670.4 572.5,1670.3 573.2,1670.2 573.8,1670.1 574.4,1670.0 575.0,1669.9 575.7,1669.7 576.3,1669.6 576.9,1669.5 577.5,1669.3 578.1,1669.2 578.8,1669.1 579.4,1668.9 580.0,1669.0 580.6,1669.0 581.2,1669.0 581.9,1669.0 582.5,1669.1 583.1,1669.1 583.7,1669.1 584.4,1669.2 585.0,1669.2 585.6,1668.9 586.2,1668.6 586.8,1668.3 587.5,1668.0 588.1,1667.7 588.7,1667.4" fill="none" stroke="#EAF016" stroke-width="3.7" stroke-linejoin="round" stroke-linecap="round"/>
<polyline points="215.9,2110.3 216.6,2110.3 217.2,2110.3 217.8,2110.3 218.4,2110.3 219.1,2110.3 219.7,2110.3 220.3,2110.3 220.9,2110.3 221.5,2110.3 222.2,2110.3 222.8,2110.3 223.4,2110.3 224.0,2110.3 224.6,2110.3 225.3,2110.3 225.9,2110.3 226.5,2110.3 227.1,2110.3 227.8,2110.3 228.4,2110.3 229.0,2110.3 229.6,2110.3 230.2,2110.3 230.9,2110.3 231.5,2110.3 232.1,2110.3 232.7,2110.3 233.3,2110.3 234.0,2110.3 234.6,2110.3 235.2,2110.3 235.8,2110.3 236.5,2110.3 237.1,2110.3 237.7,2110.3 238.3,2110.3 238.9,2110.3 239.6,2110.3 240.2,2110.3 240.8,2110.3 241.4,2110.3 242.0,2110.3 242.7,2110.3 243.3,2110.3 243.9,2110.3 244.5,2110.3 245.1,2110.3 245.8,2110.3 246.4,2110.3 247.0,2110.3 247.6,2110.3 248.3,2110.3 248.9,2110.3 249.5,2110.3 250.1,2110.3 250.7,2110.2 251.4,2110.2 252.0,2110.2 252.6,2110.2 253.2,2110.2 253.8,2110.2 254.5,2110.2 255.1,2110.2 255.7,2110.2 256.3,2110.2 257.0,2110.2 257.6,2110.2 258.2,2110.2 258.8,2110.2 259.4,2110.1 260.1,2110.1 260.7,2110.1 261.3,2110.1 261.9,2110.1 262.5,2110.1 263.2,2110.1 263.8,2110.0 264.4,2110.0 265.0,2110.0 265.6,2110.0 266.3,2110.0 266.9,2109.9 267.5,2109.9 268.1,2109.9 268.8,2109.8 269.4,2109.8 270.0,2109.8 270.6,2109.7 271.2,2109.7 271.9,2109.6 272.5,2109.6 273.1,2109.5 273.7,2109.4 274.3,2109.4 275.0,2109.3 275.6,2109.2 276.2,2109.1 276.8,2109.0 277.5,2109.0 278.1,2108.8 278.7,2108.7 279.3,2108.6 279.9,2108.5 280.6,2108.3 281.2,2108.2 281.8,2108.0 282.4,2107.9 283.0,2107.7 283.7,2107.5 284.3,2107.3 284.9,2107.0 285.5,2106.8 286.2,2106.5 286.8,2106.3 287.4,2106.0 288.0,2105.7 288.6,2105.3 289.3,2105.0 289.9,2104.6 290.5,2104.2 291.1,2103.7 291.7,2103.3 292.4,2102.8 293.0,2102.3 293.6,2101.7 294.2,2101.1 294.8,2100.5 295.5,2099.8 296.1,2099.2 296.7,2098.4 297.3,2097.7 298.0,2096.9 298.6,2096.0 299.2,2095.1 299.8,2094.2 300.4,2093.2 301.1,2092.2 301.7,2091.2 302.3,2090.1 302.9,2089.0 303.5,2087.8 304.2,2086.6 304.8,2085.3 305.4,2084.0 306.0,2082.7 306.7,2081.3 307.3,2079.8 307.9,2078.4 308.5,2076.9 309.1,2075.3 309.8,2073.8 310.4,2072.2 311.0,2070.5 311.6,2068.8 312.2,2067.1 312.9,2065.4 313.5,2063.6 314.1,2061.9 314.7,2060.1 315.4,2058.2 316.0,2056.4 316.6,2054.5 317.2,2052.6 317.8,2050.7 318.5,2048.7 319.1,2046.8 319.7,2044.8 320.3,2042.9 320.9,2040.9 321.6,2038.9 322.2,2036.9 322.8,2034.9 323.4,2032.9 324.0,2030.8 324.7,2028.8 325.3,2026.8 325.9,2024.7 326.5,2022.7 327.2,2020.6 327.8,2018.6 328.4,2016.5 329.0,2014.5 329.6,2012.4 330.3,2010.4 330.9,2008.4 331.5,2006.3 332.1,2004.3 332.7,2002.2 333.4,2000.2 334.0,1998.2 334.6,1996.1 335.2,1994.1 335.9,1992.1 336.5,1990.1 337.1,1988.1 337.7,1986.1 338.3,1984.1 339.0,1982.1 339.6,1980.2 340.2,1978.2 340.8,1976.2 341.4,1974.3 342.1,1972.3 342.7,1970.4 343.3,1968.5 343.9,1966.5 344.5,1964.6 345.2,1962.7 345.8,1960.8 346.4,1959.0 347.0,1957.1 347.7,1955.2 348.3,1953.4 348.9,1951.5 349.5,1949.7 350.1,1947.9 350.8,1946.1 351.4,1944.3 352.0,1942.5 352.6,1940.7 353.2,1938.9 353.9,1937.2 354.5,1935.4 355.1,1933.7 355.7,1932.0 356.4,1930.2 357.0,1928.5 357.6,1926.9 358.2,1925.2 358.8,1923.5 359.5,1921.9 360.1,1920.2 360.7,1918.6 361.3,1917.0 361.9,1915.3 362.6,1913.7 363.2,1912.2 363.8,1910.6 364.4,1909.0 365.1,1907.5 365.7,1905.9 366.3,1904.4 366.9,1902.9 367.5,1901.4 368.2,1899.9 368.8,1898.4 369.4,1896.9 370.0,1895.5 370.6,1894.0 371.3,1892.6 371.9,1891.2 372.5,1889.8 373.1,1888.4 373.7,1887.0 374.4,1885.6 375.0,1884.2 375.6,1882.9 376.2,1881.5 376.9,1880.2 377.5,1878.9 378.1,1877.6 378.7,1876.3 379.3,1875.0 380.0,1873.7 380.6,1872.4 381.2,1871.2 381.8,1869.9 382.4,1868.7 383.1,1867.5 383.7,1866.3 384.3,1865.1 384.9,1863.9 385.6,1862.7 386.2,1861.5 386.8,1860.4 387.4,1859.2 388.0,1858.1 388.7,1856.9 389.3,1855.8 389.9,1854.7 390.5,1853.6 391.1,1852.5 391.8,1851.4 392.4,1850.4 393.0,1849.3 393.6,1848.3 394.2,1847.2 394.9,1846.2 395.5,1845.2 396.1,1844.2 396.7,1843.2 397.4,1842.2 398.0,1841.2 398.6,1840.2 399.2,1839.3 399.8,1838.3 400.5,1837.4 401.1,1836.4 401.7,1835.5 402.3,1834.6 402.9,1833.6 403.6,1832.7 404.2,1831.8 404.8,1831.0 405.4,1830.1 406.1,1829.2 406.7,1828.3 407.3,1827.5 407.9,1826.6 408.5,1825.8 409.2,1825.0 409.8,1824.2 410.4,1823.3 411.0,1822.5 411.6,1821.7 412.3,1820.9 412.9,1820.1 413.5,1819.4 414.1,1818.6 414.8,1817.8 415.4,1817.1 416.0,1816.3 416.6,1815.6 417.2,1814.8 417.9,1814.1 418.5,1813.4 419.1,1812.7 419.7,1812.0 420.3,1811.3 421.0,1810.6 421.6,1809.9 422.2,1809.2 422.8,1808.5 423.4,1807.9 424.1,1807.2 424.7,1806.5 425.3,1805.9 425.9,1805.2 426.6,1804.6 427.2,1804.0 427.8,1803.3 428.4,1802.7 429.0,1802.1 429.7,1801.5 430.3,1800.9 430.9,1800.3 431.5,1799.7 432.1,1799.1 432.8,1798.5 433.4,1797.9 434.0,1797.4 434.6,1796.8 435.3,1796.2 435.9,1795.7 436.5,1795.1 437.1,1794.6 437.7,1794.0 438.4,1793.5 439.0,1793.0 439.6,1792.4 440.2,1791.9 440.8,1791.4 441.5,1790.9 442.1,1790.4 442.7,1789.9 443.3,1789.4 443.9,1788.9 444.6,1788.4 445.2,1787.9 445.8,1787.4 446.4,1786.9 447.1,1786.4 447.7,1786.0 448.3,1785.5 448.9,1785.0 449.5,1784.6 450.2,1784.1 450.8,1783.7 451.4,1783.2 452.0,1782.8 452.6,1782.3 453.3,1781.9 453.9,1781.5 454.5,1781.0 455.1,1780.6 455.8,1780.2 456.4,1779.8 457.0,1779.4 457.6,1779.0 458.2,1778.5 458.9,1778.1 459.5,1777.7 460.1,1777.3 460.7,1777.0 461.3,1776.6 462.0,1776.2 462.6,1775.8 463.2,1775.4 463.8,1775.0 464.5,1774.7 465.1,1774.3 465.7,1773.9 466.3,1773.5 466.9,1773.2 467.6,1772.8 468.2,1772.5 468.8,1772.1 469.4,1771.8 470.0,1771.4 470.7,1771.1 471.3,1770.7 471.9,1770.4 472.5,1770.0 473.1,1769.7 473.8,1769.4 474.4,1769.0 475.0,1768.7 475.6,1768.4 476.3,1768.1 476.9,1767.7 477.5,1767.4 478.1,1767.1 478.7,1766.8 479.4,1766.5 480.0,1766.2 480.6,1765.9 481.2,1765.6 481.8,1765.3 482.5,1765.0 483.1,1764.7 483.7,1764.4 484.3,1764.1 485.0,1763.8 485.6,1763.5 486.2,1763.2 486.8,1762.9 487.4,1762.7 488.1,1762.4 488.7,1762.1 489.3,1761.8 489.9,1761.6 490.5,1761.3 491.2,1761.0 491.8,1760.7 492.4,1760.5 493.0,1760.2 493.6,1759.9 494.3,1759.7 494.9,1759.4 495.5,1759.2 496.1,1758.9 496.8,1758.7 497.4,1758.4 498.0,1758.2 498.6,1757.9 499.2,1757.7 499.9,1757.4 500.5,1757.2 501.1,1756.9 501.7,1756.7 502.3,1756.5 503.0,1756.2 503.6,1756.0 504.2,1755.8 504.8,1755.5 505.5,1755.3 506.1,1755.1 506.7,1754.8 507.3,1754.6 507.9,1754.4 508.6,1754.2 509.2,1753.9 509.8,1753.7 510.4,1753.5 511.0,1753.3 511.7,1753.1 512.3,1752.9 512.9,1752.6 513.5,1752.4 514.1,1752.2 514.8,1752.0 515.4,1751.8 516.0,1751.6 516.6,1751.4 517.3,1751.2 517.9,1751.0 518.5,1750.8 519.1,1750.6 519.7,1750.4 520.4,1750.2 521.0,1750.0 521.6,1749.8 522.2,1749.6 522.8,1749.4 523.5,1749.2 524.1,1749.0 524.7,1748.8 525.3,1748.6 526.0,1748.5 526.6,1748.3 527.2,1748.1 527.8,1747.9 528.4,1747.7 529.1,1747.5 529.7,1747.3 530.3,1747.2 530.9,1747.0 531.5,1746.8 532.2,1746.6 532.8,1746.5 533.4,1746.3 534.0,1746.1 534.7,1745.9 535.3,1745.8 535.9,1745.6 536.5,1745.4 537.1,1745.3 537.8,1745.1 538.4,1744.9 539.0,1744.7 539.6,1744.6 540.2,1744.4 540.9,1744.3 541.5,1744.1 542.1,1743.9 542.7,1743.8 543.3,1743.6 544.0,1743.4 544.6,1743.3 545.2,1743.1 545.8,1743.0 546.5,1742.8 547.1,1742.7 547.7,1742.5 548.3,1742.3 548.9,1742.2 549.6,1742.0 550.2,1741.9 550.8,1741.7 551.4,1741.6 552.0,1741.4 552.7,1741.3 553.3,1741.1 553.9,1741.0 554.5,1740.8 555.2,1740.7 555.8,1740.6 556.4,1740.4 557.0,1740.3 557.6,1740.1 558.3,1740.0 558.9,1739.8 559.5,1739.7 560.1,1739.6 560.7,1739.4 561.4,1739.3 562.0,1739.1 562.6,1739.0 563.2,1738.9 563.9,1738.7 564.5,1738.6 565.1,1738.4 565.7,1738.3 566.3,1738.2 567.0,1738.0 567.6,1737.9 568.2,1737.8 568.8,1737.6 569.4,1737.5 570.1,1737.4 570.7,1737.3 571.3,1737.1 571.9,1737.0 572.5,1736.9 573.2,1736.7 573.8,1736.6 574.4,1736.5 575.0,1736.4 575.7,1736.2 576.3,1736.1 576.9,1736.0 577.5,1735.9 578.1,1735.7 578.8,1735.6 579.4,1735.5 580.0,1735.4 580.6,1735.2 581.2,1735.1 581.9,1735.0 582.5,1734.9 583.1,1734.8 583.7,1734.6 584.4,1734.5 585.0,1734.4 585.6,1734.3 586.2,1734.2 586.8,1734.0 587.5,1733.9 588.1,1733.8 588.7,1733.7" fill="none" stroke="#E63C1E" stroke-width="3.7" stroke-linejoin="round" stroke-linecap="round"/>
<polyline points="215.9,2110.3 216.6,2110.3 217.2,2110.3 217.8,2110.3 218.4,2110.3 219.1,2110.3 219.7,2110.3 220.3,2110.3 220.9,2110.3 221.5,2110.3 222.2,2110.3 222.8,2110.3 223.4,2110.3 224.0,2110.3 224.6,2110.3 225.3,2110.3 225.9,2110.3 226.5,2110.3 227.1,2110.3 227.8,2110.3 228.4,2110.3 229.0,2110.3 229.6,2110.3 230.2,2110.3 230.9,2110.3 231.5,2110.3 232.1,2110.3 232.7,2110.3 233.3,2110.3 234.0,2110.3 234.6,2110.3 235.2,2110.3 235.8,2110.3 236.5,2110.3 237.1,2110.3 237.7,2110.3 238.3,2110.3 238.9,2110.3 239.6,2110.3 240.2,2110.3 240.8,2110.3 241.4,2110.3 242.0,2110.3 242.7,2110.3 243.3,2110.3 243.9,2110.3 244.5,2110.3 245.1,2110.3 245.8,2110.3 246.4,2110.3 247.0,2110.3 247.6,2110.3 248.3,2110.3 248.9,2110.3 249.5,2110.3 250.1,2110.3 250.7,2110.3 251.4,2110.3 252.0,2110.3 252.6,2110.3 253.2,2110.3 253.8,2110.3 254.5,2110.3 255.1,2110.3 255.7,2110.3 256.3,2110.3 257.0,2110.3 257.6,2110.3 258.2,2110.3 258.8,2110.3 259.4,2110.3 260.1,2110.3 260.7,2110.3 261.3,2110.3 261.9,2110.2 262.5,2110.2 263.2,2110.2 263.8,2110.2 264.4,2110.2 265.0,2110.2 265.6,2110.2 266.3,2110.2 266.9,2110.2 267.5,2110.2 268.1,2110.2 268.8,2110.1 269.4,2110.1 270.0,2110.1 270.6,2110.1 271.2,2110.1 271.9,2110.0 272.5,2110.0 273.1,2110.0 273.7,2110.0 274.3,2109.9 275.0,2109.9 275.6,2109.8 276.2,2109.8 276.8,2109.8 277.5,2109.7 278.1,2109.6 278.7,2109.6 279.3,2109.5 279.9,2109.4 280.6,2109.3 281.2,2109.2 281.8,2109.1 282.4,2109.0 283.0,2108.9 283.7,2108.8 284.3,2108.6 284.9,2108.4 285.5,2108.3 286.2,2108.1 286.8,2107.8 287.4,2107.6 288.0,2107.4 288.6,2107.1 289.3,2106.8 289.9,2106.4 290.5,2106.1 291.1,2105.7 291.7,2105.3 292.4,2104.8 293.0,2104.3 293.6,2103.8 294.2,2103.2 294.8,2102.6 295.5,2102.0 296.1,2101.3 296.7,2100.5 297.3,2099.7 298.0,2098.9 298.6,2098.0 299.2,2097.0 299.8,2096.0 300.4,2094.9 301.1,2093.8 301.7,2092.6 302.3,2091.4 302.9,2090.1 303.5,2088.8 304.2,2087.4 304.8,2086.0 305.4,2084.5 306.0,2082.9 306.7,2081.4 307.3,2079.7 307.9,2078.1 308.5,2076.4 309.1,2074.6 309.8,2072.9 310.4,2071.1 311.0,2069.3 311.6,2067.4 312.2,2065.5 312.9,2063.6 313.5,2061.7 314.1,2059.8 314.7,2057.9 315.4,2055.9 316.0,2053.9 316.6,2052.0 317.2,2050.0 317.8,2048.0 318.5,2046.0 319.1,2044.1 319.7,2042.1 320.3,2040.1 320.9,2038.1 321.6,2036.1 322.2,2034.2 322.8,2032.2 323.4,2030.2 324.0,2028.3 324.7,2026.3 325.3,2024.4 325.9,2022.5 326.5,2020.6 327.2,2018.7 327.8,2016.8 328.4,2014.9 329.0,2013.0 329.6,2011.2 330.3,2009.3 330.9,2007.5 331.5,2005.7 332.1,2003.9 332.7,2002.1 333.4,2000.3 334.0,1998.5 334.6,1996.8 335.2,1995.1 335.9,1993.3 336.5,1991.6 337.1,1989.9 337.7,1988.3 338.3,1986.6 339.0,1985.0 339.6,1983.3 340.2,1981.7 340.8,1980.1 341.4,1978.5 342.1,1976.9 342.7,1975.4 343.3,1973.8 343.9,1972.3 344.5,1970.8 345.2,1969.3 345.8,1967.8 346.4,1966.3 347.0,1964.9 347.7,1963.4 348.3,1962.0 348.9,1960.6 349.5,1959.2 350.1,1957.8 350.8,1956.4 351.4,1955.1 352.0,1953.7 352.6,1952.4 353.2,1951.1 353.9,1949.8 354.5,1948.5 355.1,1947.3 355.7,1946.0 356.4,1944.8 357.0,1943.5 357.6,1942.3 358.2,1941.1 358.8,1939.9 359.5,1938.7 360.1,1937.5 360.7,1936.3 361.3,1935.1 361.9,1934.0 362.6,1932.8 363.2,1931.8 363.8,1930.7 364.4,1929.6 365.1,1928.6 365.7,1927.5 366.3,1926.5 366.9,1925.5 367.5,1924.4 368.2,1923.3 368.8,1922.3 369.4,1921.2 370.0,1920.1 370.6,1919.1 371.3,1918.0 371.9,1917.0 372.5,1916.0 373.1,1915.1 373.7,1914.1 374.4,1913.2 375.0,1912.4 375.6,1911.5 376.2,1910.6 376.9,1909.8 377.5,1908.9 378.1,1908.1 378.7,1907.2 379.3,1906.4 380.0,1905.5 380.6,1904.7 381.2,1903.9 381.8,1903.1 382.4,1902.3 383.1,1901.5 383.7,1900.7 384.3,1899.9 384.9,1899.2 385.6,1898.4 386.2,1897.7 386.8,1896.9 387.4,1896.2 388.0,1895.5 388.7,1894.8 389.3,1894.0 389.9,1893.3 390.5,1892.5 391.1,1891.8 391.8,1891.1 392.4,1890.3 393.0,1889.6 393.6,1888.9 394.2,1888.2 394.9,1887.5 395.5,1886.9 396.1,1886.3 396.7,1885.8 397.4,1885.2 398.0,1884.7 398.6,1884.2 399.2,1883.6 399.8,1883.1 400.5,1882.6 401.1,1881.9 401.7,1881.2 402.3,1880.6 402.9,1879.9 403.6,1879.2 404.2,1878.5 404.8,1877.8 405.4,1877.2 406.1,1876.5 406.7,1876.1 407.3,1875.7 407.9,1875.4 408.5,1875.0 409.2,1874.6 409.8,1874.3 410.4,1874.0 411.0,1873.6 411.6,1873.3 412.3,1872.8 412.9,1872.3 413.5,1871.8 414.1,1871.3 414.8,1870.8 415.4,1870.3 416.0,1869.8 416.6,1869.3 417.2,1868.8 417.9,1868.4 418.5,1868.0 419.1,1867.6 419.7,1867.2 420.3,1866.8 421.0,1866.5 421.6,1866.1 422.2,1865.7 422.8,1865.4 423.4,1864.8 424.1,1864.3 424.7,1863.7 425.3,1863.2 425.9,1862.6 426.6,1862.1 427.2,1861.6 427.8,1861.0 428.4,1860.5 429.0,1860.2 429.7,1859.9 430.3,1859.6 430.9,1859.3 431.5,1859.0 432.1,1858.7 432.8,1858.4 433.4,1858.1 434.0,1857.8 434.6,1857.6 435.3,1857.3 435.9,1857.1 436.5,1856.8 437.1,1856.6 437.7,1856.4 438.4,1856.1 439.0,1855.9 439.6,1855.7 440.2,1855.1 440.8,1854.4 441.5,1853.8 442.1,1853.2 442.7,1852.5 443.3,1851.9 443.9,1851.3 444.6,1850.6 445.2,1850.0 445.8,1849.8 446.4,1849.6 447.1,1849.4 447.7,1849.0 448.3,1848.5 448.9,1848.0 449.5,1847.5 450.2,1847.1 450.8,1847.0 451.4,1846.8 452.0,1846.8 452.6,1847.0 453.3,1847.2 453.9,1847.4 454.5,1847.5 455.1,1847.4 455.8,1847.3 456.4,1847.1 457.0,1846.9 457.6,1846.6 458.2,1846.3 458.9,1846.0 459.5,1845.7 460.1,1845.4 460.7,1845.1 461.3,1844.8 462.0,1844.5 462.6,1844.1 463.2,1843.7 463.8,1843.4 464.5,1843.0 465.1,1842.6 465.7,1842.2 466.3,1841.8 466.9,1841.5 467.6,1841.1 468.2,1841.1 468.8,1841.1 469.4,1841.1 470.0,1841.1 470.7,1841.1 471.3,1841.1 471.9,1841.1 472.5,1841.1 473.1,1841.1 473.8,1840.8 474.4,1840.5 475.0,1840.2 475.6,1839.9 476.3,1839.6 476.9,1839.3 477.5,1839.0 478.1,1838.7 478.7,1838.4 479.4,1838.2 480.0,1838.0 480.6,1837.8 481.2,1837.5 481.8,1837.0 482.5,1836.5 483.1,1835.7 483.7,1834.8 484.3,1833.9 485.0,1833.0 485.6,1832.2 486.2,1831.6 486.8,1831.1 487.4,1830.8 488.1,1830.6 488.7,1830.5 489.3,1830.4 489.9,1830.4 490.5,1829.9 491.2,1829.5 491.8,1829.1 492.4,1828.7 493.0,1828.3 493.6,1827.8 494.3,1827.4 494.9,1827.0 495.5,1826.6 496.1,1826.4 496.8,1826.3 497.4,1826.1 498.0,1825.9 498.6,1825.7 499.2,1825.6 499.9,1825.2 500.5,1824.9 501.1,1824.5 501.7,1824.4 502.3,1824.2 503.0,1824.0 503.6,1823.9 504.2,1823.7 504.8,1823.5 505.5,1823.4 506.1,1823.2 506.7,1823.0 507.3,1822.7 507.9,1822.4 508.6,1822.1 509.2,1821.7 509.8,1821.4 510.4,1821.1 511.0,1820.8 511.7,1820.4 512.3,1820.1 512.9,1820.0 513.5,1819.9 514.1,1819.7 514.8,1819.6 515.4,1819.4 516.0,1819.2 516.6,1819.0 517.3,1818.8 517.9,1818.5 518.5,1818.1 519.1,1817.6 519.7,1817.0 520.4,1816.4 521.0,1815.8 521.6,1815.2 522.2,1814.7 522.8,1814.3 523.5,1814.0 524.1,1813.7 524.7,1813.3 525.3,1813.1 526.0,1812.8 526.6,1812.5 527.2,1812.3 527.8,1812.0 528.4,1811.8 529.1,1811.6 529.7,1811.4 530.3,1811.1 530.9,1810.9 531.5,1810.7 532.2,1810.5 532.8,1810.3 533.4,1810.1 534.0,1809.8 534.7,1809.7 535.3,1809.7 535.9,1809.8 536.5,1809.8 537.1,1809.9 537.8,1809.9 538.4,1810.0 539.0,1810.0 539.6,1810.1 540.2,1810.2 540.9,1810.0 541.5,1809.9 542.1,1809.7 542.7,1809.6 543.3,1809.4 544.0,1809.3 544.6,1809.1 545.2,1809.0 545.8,1808.9 546.5,1808.7 547.1,1808.6 547.7,1808.5 548.3,1808.3 548.9,1808.2 549.6,1808.1 550.2,1808.0 550.8,1807.8 551.4,1807.7 552.0,1807.7 552.7,1807.8 553.3,1807.8 553.9,1807.9 554.5,1807.9 555.2,1808.0 555.8,1808.0 556.4,1808.1 557.0,1808.1 557.6,1808.0 558.3,1807.9 558.9,1807.8 559.5,1807.7 560.1,1807.6 560.7,1807.5 561.4,1807.4 562.0,1807.3 562.6,1807.2 563.2,1807.1 563.9,1806.9 564.5,1806.8 565.1,1806.7 565.7,1806.5 566.3,1806.4 567.0,1806.2 567.6,1806.1 568.2,1806.0 568.8,1806.2 569.4,1806.5 570.1,1806.8 570.7,1807.0 571.3,1807.3 571.9,1807.5 572.5,1807.8 573.2,1808.1 573.8,1808.3 574.4,1808.1 575.0,1807.8 575.7,1807.6 576.3,1807.3 576.9,1807.0 577.5,1806.8 578.1,1806.5 578.8,1806.3 579.4,1806.0 580.0,1806.3 580.6,1806.5 581.2,1806.8 581.9,1807.1 582.5,1807.3 583.1,1807.6 583.7,1807.8 584.4,1808.1 585.0,1808.4 585.6,1808.1 586.2,1807.8 586.8,1807.5 587.5,1807.2 588.1,1806.9 588.7,1806.7" fill="none" stroke="#DC1414" stroke-width="3.7" stroke-linejoin="round" stroke-linecap="round"/>
<polyline points="215.9,2110.3 216.6,2110.3 217.2,2110.3 217.8,2110.3 218.4,2110.3 219.1,2110.3 219.7,2110.3 220.3,2110.3 220.9,2110.3 221.5,2110.3 222.2,2110.3 222.8,2110.3 223.4,2110.3 224.0,2110.3 224.6,2110.3 225.3,2110.3 225.9,2110.3 226.5,2110.3 227.1,2110.3 227.8,2110.3 228.4,2110.3 229.0,2110.3 229.6,2110.3 230.2,2110.3 230.9,2110.3 231.5,2110.3 232.1,2110.3 232.7,2110.3 233.3,2110.3 234.0,2110.3 234.6,2110.3 235.2,2110.3 235.8,2110.3 236.5,2110.3 237.1,2110.3 237.7,2110.3 238.3,2110.3 238.9,2110.3 239.6,2110.3 240.2,2110.3 240.8,2110.3 241.4,2110.3 242.0,2110.3 242.7,2110.3 243.3,2110.3 243.9,2110.3 244.5,2110.3 245.1,2110.3 245.8,2110.3 246.4,2110.3 247.0,2110.3 247.6,2110.3 248.3,2110.3 248.9,2110.3 249.5,2110.3 250.1,2110.3 250.7,2110.3 251.4,2110.3 252.0,2110.3 252.6,2110.3 253.2,2110.3 253.8,2110.3 254.5,2110.3 255.1,2110.3 255.7,2110.3 256.3,2110.3 257.0,2110.3 257.6,2110.3 258.2,2110.3 258.8,2110.3 259.4,2110.3 260.1,2110.3 260.7,2110.3 261.3,2110.3 261.9,2110.2 262.5,2110.2 263.2,2110.2 263.8,2110.2 264.4,2110.2 265.0,2110.2 265.6,2110.2 266.3,2110.2 266.9,2110.2 267.5,2110.2 268.1,2110.2 268.8,2110.1 269.4,2110.1 270.0,2110.1 270.6,2110.1 271.2,2110.1 271.9,2110.0 272.5,2110.0 273.1,2110.0 273.7,2110.0 274.3,2109.9 275.0,2109.9 275.6,2109.8 276.2,2109.8 276.8,2109.8 277.5,2109.7 278.1,2109.6 278.7,2109.6 279.3,2109.5 279.9,2109.4 280.6,2109.3 281.2,2109.2 281.8,2109.1 282.4,2109.0 283.0,2108.9 283.7,2108.8 284.3,2108.6 284.9,2108.4 285.5,2108.3 286.2,2108.1 286.8,2107.8 287.4,2107.6 288.0,2107.4 288.6,2107.1 289.3,2106.8 289.9,2106.4 290.5,2106.1 291.1,2105.7 291.7,2105.3 292.4,2104.8 293.0,2104.3 293.6,2103.8 294.2,2103.2 294.8,2102.6 295.5,2102.0 296.1,2101.3 296.7,2100.5 297.3,2099.7 298.0,2098.9 298.6,2098.0 299.2,2097.0 299.8,2096.0 300.4,2094.9 301.1,2093.8 301.7,2092.6 302.3,2091.4 302.9,2090.1 303.5,2088.8 304.2,2087.4 304.8,2086.0 305.4,2084.5 306.0,2082.9 306.7,2081.4 307.3,2079.7 307.9,2078.1 308.5,2076.4 309.1,2074.6 309.8,2072.9 310.4,2071.1 311.0,2069.3 311.6,2067.4 312.2,2065.5 312.9,2063.6 313.5,2061.7 314.1,2059.8 314.7,2057.9 315.4,2055.9 316.0,2053.9 316.6,2052.0 317.2,2050.0 317.8,2048.0 318.5,2046.0 319.1,2044.1 319.7,2042.1 320.3,2040.1 320.9,2038.1 321.6,2036.1 322.2,2034.2 322.8,2032.2 323.4,2030.2 324.0,2028.3 324.7,2026.3 325.3,2024.4 325.9,2022.5 326.5,2020.6 327.2,2018.7 327.8,2016.8 328.4,2014.9 329.0,2013.0 329.6,2011.2 330.3,2009.3 330.9,2007.5 331.5,2005.7 332.1,2003.9 332.7,2002.1 333.4,2000.3 334.0,1998.5 334.6,1996.8 335.2,1995.1 335.9,1993.3 336.5,1991.6 337.1,1989.9 337.7,1988.3 338.3,1986.6 339.0,1985.0 339.6,1983.3 340.2,1981.7 340.8,1980.1 341.4,1978.5 342.1,1976.9 342.7,1975.4 343.3,1973.8 343.9,1972.3 344.5,1970.8 345.2,1969.3 345.8,1967.8 346.4,1966.3 347.0,1964.9 347.7,1963.4 348.3,1962.0 348.9,1960.6 349.5,1959.2 350.1,1957.8 350.8,1956.4 351.4,1955.1 352.0,1953.7 352.6,1952.4 353.2,1951.1 353.9,1949.8 354.5,1948.5 355.1,1947.2 355.7,1945.9 356.4,1944.7 357.0,1943.4 357.6,1942.2 358.2,1941.0 358.8,1939.9 359.5,1938.7 360.1,1937.6 360.7,1936.5 361.3,1935.4 361.9,1934.2 362.6,1933.1 363.2,1931.9 363.8,1930.8 364.4,1929.7 365.1,1928.6 365.7,1927.5 366.3,1926.4 366.9,1925.4 367.5,1924.3 368.2,1923.3 368.8,1922.4 369.4,1921.4 370.0,1920.4 370.6,1919.5 371.3,1918.5 371.9,1917.6 372.5,1916.7 373.1,1915.7 373.7,1914.8 374.4,1913.8 375.0,1912.9 375.6,1912.0 376.2,1911.0 376.9,1910.1 377.5,1909.2 378.1,1908.3 378.7,1907.5 379.3,1906.7 380.0,1905.9 380.6,1905.2 381.2,1904.4 381.8,1903.7 382.4,1903.0 383.1,1902.2 383.7,1901.5 384.3,1900.7 384.9,1899.8 385.6,1899.0 386.2,1898.2 386.8,1897.4 387.4,1896.6 388.0,1895.8 388.7,1895.0 389.3,1894.2 389.9,1893.5 390.5,1892.8 391.1,1892.1 391.8,1891.4 392.4,1890.7 393.0,1890.0 393.6,1889.4 394.2,1888.7 394.9,1888.1 395.5,1887.5 396.1,1886.9 396.7,1886.2 397.4,1885.6 398.0,1885.1 398.6,1884.5 399.2,1883.9 399.8,1883.3 400.5,1882.7 401.1,1882.2 401.7,1881.7 402.3,1881.2 402.9,1880.7 403.6,1880.2 404.2,1879.7 404.8,1879.3 405.4,1878.8 406.1,1878.3 406.7,1877.8 407.3,1877.2 407.9,1876.6 408.5,1876.0 409.2,1875.4 409.8,1874.9 410.4,1874.3 411.0,1873.7 411.6,1873.2 412.3,1872.8 412.9,1872.4 413.5,1872.0 414.1,1871.6 414.8,1871.2 415.4,1870.8 416.0,1870.4 416.6,1870.0 417.2,1869.7 417.9,1869.2 418.5,1868.8 419.1,1868.4 419.7,1868.0 420.3,1867.6 421.0,1867.2 421.6,1866.8 422.2,1866.4 422.8,1866.0 423.4,1865.5 424.1,1864.9 424.7,1864.3 425.3,1863.7 425.9,1863.1 426.6,1862.6 427.2,1862.0 427.8,1861.5 428.4,1860.9 429.0,1860.7 429.7,1860.4 430.3,1860.2 430.9,1860.0 431.5,1859.8 432.1,1859.6 432.8,1859.4 433.4,1859.2 434.0,1859.0 434.6,1858.4 435.3,1857.8 435.9,1857.2 436.5,1856.6 437.1,1856.0 437.7,1855.4 438.4,1854.8 439.0,1854.2 439.6,1853.7 440.2,1853.4 440.8,1853.1 441.5,1852.9 442.1,1852.6 442.7,1852.3 443.3,1852.1 443.9,1851.8 444.6,1851.6 445.2,1851.3 445.8,1851.3 446.4,1851.3 447.1,1851.4 447.7,1851.4 448.3,1851.4 448.9,1851.4 449.5,1851.4 450.2,1851.4 450.8,1851.5 451.4,1850.9 452.0,1850.4 452.6,1849.9 453.3,1849.4 453.9,1848.9 454.5,1848.4 455.1,1847.8 455.8,1847.3 456.4,1846.8 457.0,1846.7 457.6,1846.6 458.2,1846.5 458.9,1846.4 459.5,1846.3 460.1,1846.3 460.7,1846.2 461.3,1846.1 462.0,1846.0 462.6,1845.6 463.2,1845.3 463.8,1844.9 464.5,1844.6 465.1,1844.2 465.7,1843.9 466.3,1843.5 466.9,1843.2 467.6,1842.8 468.2,1842.6 468.8,1842.4 469.4,1842.2 470.0,1841.9 470.7,1841.7 471.3,1841.5 471.9,1841.3 472.5,1841.1 473.1,1840.9 473.8,1840.9 474.4,1840.9 475.0,1841.0 475.6,1841.0 476.3,1841.0 476.9,1841.1 477.5,1841.1 478.1,1841.1 478.7,1841.2 479.4,1840.8 480.0,1840.4 480.6,1840.0 481.2,1839.6 481.8,1839.3 482.5,1838.9 483.1,1838.5 483.7,1838.1 484.3,1837.8 485.0,1837.6 485.6,1837.4 486.2,1837.2 486.8,1837.1 487.4,1836.9 488.1,1836.7 488.7,1836.6 489.3,1836.4 489.9,1836.2 490.5,1835.9 491.2,1835.6 491.8,1835.3 492.4,1835.0 493.0,1834.8 493.6,1834.5 494.3,1834.2 494.9,1833.9 495.5,1833.6 496.1,1833.7 496.8,1833.8 497.4,1833.8 498.0,1833.9 498.6,1834.0 499.2,1834.1 499.9,1834.2 500.5,1834.3 501.1,1834.4 501.7,1834.0 502.3,1833.7 503.0,1833.3 503.6,1832.9 504.2,1832.6 504.8,1832.2 505.5,1831.9 506.1,1831.5 506.7,1831.2 507.3,1831.3 507.9,1831.3 508.6,1831.4 509.2,1831.5 509.8,1831.5 510.4,1831.6 511.0,1831.7 511.7,1831.8 512.3,1831.8 512.9,1831.6 513.5,1831.4 514.1,1831.2 514.8,1831.0 515.4,1830.8 516.0,1830.6 516.6,1830.4 517.3,1830.2 517.9,1830.0 518.5,1829.9 519.1,1829.8 519.7,1829.8 520.4,1829.7 521.0,1829.6 521.6,1829.6 522.2,1829.5 522.8,1829.5 523.5,1829.4 524.1,1829.1 524.7,1828.7 525.3,1828.3 526.0,1828.0 526.6,1827.6 527.2,1827.2 527.8,1826.9 528.4,1826.5 529.1,1826.1 529.7,1826.1 530.3,1826.1 530.9,1826.1 531.5,1826.1 532.2,1826.1 532.8,1826.1 533.4,1826.1 534.0,1826.1 534.7,1826.1 535.3,1825.8 535.9,1825.5 536.5,1825.2 537.1,1824.9 537.8,1824.6 538.4,1824.3 539.0,1824.0 539.6,1823.7 540.2,1823.4 540.9,1823.5 541.5,1823.6 542.1,1823.7 542.7,1823.8 543.3,1823.9 544.0,1824.0 544.6,1824.1 545.2,1824.2 545.8,1824.3 546.5,1824.2 547.1,1824.1 547.7,1824.0 548.3,1823.9 548.9,1823.8 549.6,1823.6 550.2,1823.5 550.8,1823.4 551.4,1823.3 552.0,1823.2 552.7,1823.2 553.3,1823.1 553.9,1823.0 554.5,1822.9 555.2,1822.8 555.8,1822.7 556.4,1822.7 557.0,1822.6 557.6,1822.7 558.3,1822.7 558.9,1822.8 559.5,1822.9 560.1,1823.0 560.7,1823.1 561.4,1823.2 562.0,1823.2 562.6,1823.3 563.2,1823.2 563.9,1823.0 564.5,1822.9 565.1,1822.8 565.7,1822.6 566.3,1822.5 567.0,1822.4 567.6,1822.2 568.2,1822.1 568.8,1821.9 569.4,1821.7 570.1,1821.4 570.7,1821.2 571.3,1821.0 571.9,1820.7 572.5,1820.5 573.2,1820.3 573.8,1820.1 574.4,1820.2 575.0,1820.3 575.7,1820.4 576.3,1820.6 576.9,1820.7 577.5,1820.8 578.1,1820.9 578.8,1821.1 579.4,1821.2 580.0,1821.1 580.6,1820.9 581.2,1820.8 581.9,1820.7 582.5,1820.6 583.1,1820.4 583.7,1820.3 584.4,1820.2 585.0,1820.0 585.6,1820.0 586.2,1820.0 586.8,1819.9 587.5,1819.9 588.1,1819.9 588.7,1819.8" fill="none" stroke="#8C0A0A" stroke-width="3.7" stroke-linejoin="round" stroke-linecap="round"/>
<rect x="834.1" y="1539.2" width="497" height="571.3" fill="none" stroke="#000" stroke-width="2.5"/>
<line x1="834.1" y1="1967.67" x2="844.1" y2="1967.67" stroke="#000" stroke-width="2.5" stroke-linecap="butt"/>
<line x1="834.1" y1="1824.85" x2="844.1" y2="1824.85" stroke="#000" stroke-width="2.5" stroke-linecap="butt"/>
<line x1="834.1" y1="1682.03" x2="844.1" y2="1682.03" stroke="#000" stroke-width="2.5" stroke-linecap="butt"/>
<line x1="834.1" y1="2039.09" x2="839.1" y2="2039.09" stroke="#000" stroke-width="2.5" stroke-linecap="butt"/>
<line x1="834.1" y1="1896.26" x2="839.1" y2="1896.26" stroke="#000" stroke-width="2.5" stroke-linecap="butt"/>
<line x1="834.1" y1="1753.44" x2="839.1" y2="1753.44" stroke="#000" stroke-width="2.5" stroke-linecap="butt"/>
<line x1="834.1" y1="1610.61" x2="839.1" y2="1610.61" stroke="#000" stroke-width="2.5" stroke-linecap="butt"/>
<text x="821.8" y="2117.9" font-size="28.5" text-anchor="end">0.0</text>
<text x="821.8" y="1975.08" font-size="28.5" text-anchor="end">0.1</text>
<text x="821.8" y="1832.25" font-size="28.5" text-anchor="end">0.2</text>
<text x="821.8" y="1689.43" font-size="28.5" text-anchor="end">0.3</text>
<text x="821.8" y="1546.6" font-size="28.5" text-anchor="end">0.4</text>
<line x1="1082.6" y1="2110.5" x2="1082.6" y2="2100.5" stroke="#000" stroke-width="2.5" stroke-linecap="butt"/>
<line x1="958.35" y1="2110.5" x2="958.35" y2="2105.5" stroke="#000" stroke-width="2.5" stroke-linecap="butt"/>
<line x1="1206.85" y1="2110.5" x2="1206.85" y2="2105.5" stroke="#000" stroke-width="2.5" stroke-linecap="butt"/>
<text x="834.1" y="2144.3" font-size="28.5" text-anchor="middle">0.0</text>
<text x="1082.6" y="2144.3" font-size="28.5" text-anchor="middle">0.5</text>
<text x="1331.1" y="2144.3" font-size="28.5" text-anchor="middle">1.0</text>
<text x="694.8" y="1523" font-size="33" font-weight="bold">f</text>
<text transform="translate(741.3,1793.8) rotate(-90)" font-size="31.5" text-anchor="middle"><tspan font-style="italic">I</tspan><tspan font-size="21" dy="8">ds</tspan><tspan dy="-8"> (mA/μm)</tspan></text>
<text x="1037.4" y="2207" font-size="31.5"><tspan font-style="italic">V</tspan><tspan font-size="21" dy="8">ds</tspan><tspan dy="-8"> (V)</tspan></text>
<polyline points="834.1,2110.5 1331.1,2110.5" fill="none" stroke="#6414D2" stroke-width="3.7" stroke-linejoin="round" stroke-linecap="round"/>
<polyline points="834.1,2110.5 836.6,2109.7 839.1,2109.0 841.6,2108.2 844.1,2107.4 846.6,2106.6 849.1,2105.9 851.6,2105.1 854.1,2104.4 856.6,2103.6 859.1,2102.9 861.6,2102.1 864.1,2101.4 866.6,2100.7 869.1,2099.9 871.6,2099.2 874.1,2098.5 876.6,2097.7 879.1,2097.0 881.6,2096.3 884.0,2095.6 886.5,2094.9 889.0,2094.1 891.5,2093.4 894.0,2092.7 896.5,2092.0 899.0,2091.3 901.5,2090.6 904.0,2089.9 906.5,2089.3 909.0,2088.6 911.5,2087.9 914.0,2087.2 916.5,2086.5 919.0,2085.9 921.5,2085.2 924.0,2084.5 926.5,2083.9 929.0,2083.2 931.5,2082.5 934.0,2081.9 936.5,2081.2 939.0,2080.6 941.5,2080.0 944.0,2079.3 946.5,2078.7 949.0,2078.0 951.5,2077.4 954.0,2076.8 956.5,2076.2 959.0,2075.5 961.5,2074.9 964.0,2074.3 966.5,2073.7 969.0,2073.1 971.5,2072.5 974.0,2071.9 976.5,2071.3 979.0,2070.7 981.5,2070.1 983.9,2069.5 986.4,2068.9 988.9,2068.3 991.4,2067.7 993.9,2067.1 996.4,2066.6 998.9,2066.0 1001.4,2065.4 1003.9,2064.9 1006.4,2064.3 1008.9,2063.7 1011.4,2063.2 1013.9,2062.6 1016.4,2062.1 1018.9,2061.5 1021.4,2061.0 1023.9,2060.4 1026.4,2059.9 1028.9,2059.4 1031.4,2058.8 1033.9,2058.3 1036.4,2057.8 1038.9,2057.3 1041.4,2056.7 1043.9,2056.2 1046.4,2055.7 1048.9,2055.2 1051.4,2054.7 1053.9,2054.2 1056.4,2053.7 1058.9,2053.2 1061.4,2052.7 1063.9,2052.2 1066.4,2051.7 1068.9,2051.2 1071.4,2050.8 1073.9,2050.3 1076.4,2049.8 1078.9,2049.3 1081.4,2048.9 1083.8,2048.4 1086.3,2047.9 1088.8,2047.5 1091.3,2047.0 1093.8,2046.6 1096.3,2046.1 1098.8,2045.7 1101.3,2045.2 1103.8,2044.8 1106.3,2044.4 1108.8,2043.9 1111.3,2043.5 1113.8,2043.1 1116.3,2042.6 1118.8,2042.2 1121.3,2041.8 1123.8,2041.4 1126.3,2041.0 1128.8,2040.6 1131.3,2040.1 1133.8,2039.7 1136.3,2039.3 1138.8,2038.9 1141.3,2038.6 1143.8,2038.2 1146.3,2037.8 1148.8,2037.4 1151.3,2037.0 1153.8,2036.6 1156.3,2036.3 1158.8,2035.9 1161.3,2035.5 1163.8,2035.2 1166.3,2034.8 1168.8,2034.4 1171.3,2034.1 1173.8,2033.7 1176.3,2033.4 1178.8,2033.0 1181.3,2032.7 1183.7,2032.3 1186.2,2032.0 1188.7,2031.7 1191.2,2031.3 1193.7,2031.0 1196.2,2030.7 1198.7,2030.4 1201.2,2030.1 1203.7,2029.7 1206.2,2029.4 1208.7,2029.1 1211.2,2028.8 1213.7,2028.5 1216.2,2028.2 1218.7,2027.9 1221.2,2027.6 1223.7,2027.3 1226.2,2027.0 1228.7,2026.8 1231.2,2026.5 1233.7,2026.2 1236.2,2025.9 1238.7,2025.7 1241.2,2025.4 1243.7,2025.1 1246.2,2024.9 1248.7,2024.6 1251.2,2024.3 1253.7,2024.1 1256.2,2023.8 1258.7,2023.6 1261.2,2023.4 1263.7,2023.1 1266.2,2022.9 1268.7,2022.6 1271.2,2022.4 1273.7,2022.2 1276.2,2022.0 1278.7,2021.7 1281.2,2021.5 1283.6,2021.3 1286.1,2021.1 1288.6,2020.9 1291.1,2020.7 1293.6,2020.5 1296.1,2020.3 1298.6,2020.1 1301.1,2019.9 1303.6,2019.7 1306.1,2019.5 1308.6,2019.3 1311.1,2019.2 1313.6,2019.0 1316.1,2018.8 1318.6,2018.6 1321.1,2018.5 1323.6,2018.3 1326.1,2018.1 1328.6,2018.0 1331.1,2017.8" fill="none" stroke="#283CDC" stroke-width="3.7" stroke-linejoin="round" stroke-linecap="round"/>
<polyline points="834.1,2110.5 836.6,2108.6 839.1,2106.6 841.6,2104.7 844.1,2102.8 846.6,2100.9 849.1,2099.0 851.6,2097.1 854.1,2095.2 856.6,2093.2 859.1,2091.3 861.6,2089.4 864.1,2087.5 866.6,2085.7 869.1,2083.8 871.6,2081.9 874.1,2080.0 876.6,2078.1 879.1,2076.2 881.6,2074.4 884.0,2072.5 886.5,2070.6 889.0,2068.8 891.5,2066.9 894.0,2065.1 896.5,2063.2 899.0,2061.4 901.5,2059.5 904.0,2057.7 906.5,2055.8 909.0,2054.0 911.5,2052.2 914.0,2050.3 916.5,2048.5 919.0,2046.7 921.5,2044.9 924.0,2043.1 926.5,2041.3 929.0,2039.5 931.5,2037.7 934.0,2035.9 936.5,2034.1 939.0,2032.3 941.5,2030.5 944.0,2028.7 946.5,2027.0 949.0,2025.2 951.5,2023.4 954.0,2021.7 956.5,2019.9 959.0,2018.2 961.5,2016.4 964.0,2014.7 966.5,2012.9 969.0,2011.2 971.5,2009.5 974.0,2007.7 976.5,2006.0 979.0,2004.3 981.5,2002.6 983.9,2000.9 986.4,1999.2 988.9,1997.5 991.4,1995.8 993.9,1994.1 996.4,1992.4 998.9,1990.8 1001.4,1989.1 1003.9,1987.4 1006.4,1985.7 1008.9,1984.1 1011.4,1982.4 1013.9,1980.8 1016.4,1979.1 1018.9,1977.5 1021.4,1975.9 1023.9,1974.3 1026.4,1972.6 1028.9,1971.0 1031.4,1969.4 1033.9,1967.8 1036.4,1966.2 1038.9,1964.6 1041.4,1963.0 1043.9,1961.4 1046.4,1959.9 1048.9,1958.3 1051.4,1956.7 1053.9,1955.1 1056.4,1953.6 1058.9,1952.0 1061.4,1950.5 1063.9,1949.0 1066.4,1947.4 1068.9,1945.9 1071.4,1944.4 1073.9,1942.9 1076.4,1941.4 1078.9,1939.8 1081.4,1938.4 1083.8,1936.9 1086.3,1935.4 1088.8,1933.9 1091.3,1932.4 1093.8,1931.0 1096.3,1929.5 1098.8,1928.0 1101.3,1926.6 1103.8,1925.1 1106.3,1923.7 1108.8,1922.3 1111.3,1920.9 1113.8,1919.4 1116.3,1918.0 1118.8,1916.6 1121.3,1915.2 1123.8,1913.8 1126.3,1912.5 1128.8,1911.1 1131.3,1909.7 1133.8,1908.3 1136.3,1907.0 1138.8,1905.6 1141.3,1904.3 1143.8,1902.9 1146.3,1901.6 1148.8,1900.3 1151.3,1899.0 1153.8,1897.7 1156.3,1896.4 1158.8,1895.1 1161.3,1893.8 1163.8,1892.5 1166.3,1891.2 1168.8,1889.9 1171.3,1888.7 1173.8,1887.4 1176.3,1886.2 1178.8,1884.9 1181.3,1883.7 1183.7,1882.5 1186.2,1881.3 1188.7,1880.1 1191.2,1878.9 1193.7,1877.7 1196.2,1876.5 1198.7,1875.3 1201.2,1874.1 1203.7,1873.0 1206.2,1871.8 1208.7,1870.6 1211.2,1869.5 1213.7,1868.4 1216.2,1867.2 1218.7,1866.1 1221.2,1865.0 1223.7,1863.9 1226.2,1862.8 1228.7,1861.7 1231.2,1860.6 1233.7,1859.6 1236.2,1858.5 1238.7,1857.4 1241.2,1856.4 1243.7,1855.4 1246.2,1854.3 1248.7,1853.3 1251.2,1852.3 1253.7,1851.3 1256.2,1850.3 1258.7,1849.3 1261.2,1848.3 1263.7,1847.3 1266.2,1846.4 1268.7,1845.4 1271.2,1844.5 1273.7,1843.5 1276.2,1842.6 1278.7,1841.7 1281.2,1840.7 1283.6,1839.8 1286.1,1838.9 1288.6,1838.0 1291.1,1837.2 1293.6,1836.3 1296.1,1835.4 1298.6,1834.6 1301.1,1833.7 1303.6,1832.9 1306.1,1832.1 1308.6,1831.2 1311.1,1830.4 1313.6,1829.6 1316.1,1828.8 1318.6,1828.1 1321.1,1827.3 1323.6,1826.5 1326.1,1825.8 1328.6,1825.0 1331.1,1824.3" fill="none" stroke="#1EAAE6" stroke-width="3.7" stroke-linejoin="round" stroke-linecap="round"/>
<polyline points="834.1,2110.5 836.6,2107.8 839.1,2105.2 841.6,2102.5 844.1,2099.9 846.6,2097.2 849.1,2094.6 851.6,2091.9 854.1,2089.3 856.6,2086.7 859.1,2084.1 861.6,2081.4 864.1,2078.8 866.6,2076.2 869.1,2073.6 871.6,2071.0 874.1,2068.4 876.6,2065.8 879.1,2063.2 881.6,2060.7 884.0,2058.1 886.5,2055.5 889.0,2052.9 891.5,2050.4 894.0,2047.8 896.5,2045.3 899.0,2042.7 901.5,2040.2 904.0,2037.7 906.5,2035.1 909.0,2032.6 911.5,2030.1 914.0,2027.6 916.5,2025.1 919.0,2022.6 921.5,2020.1 924.0,2017.6 926.5,2015.1 929.0,2012.6 931.5,2010.2 934.0,2007.7 936.5,2005.2 939.0,2002.8 941.5,2000.3 944.0,1997.9 946.5,1995.5 949.0,1993.0 951.5,1990.6 954.0,1988.2 956.5,1985.8 959.0,1983.4 961.5,1981.0 964.0,1978.6 966.5,1976.2 969.0,1973.8 971.5,1971.5 974.0,1969.1 976.5,1966.7 979.0,1964.4 981.5,1962.0 983.9,1959.7 986.4,1957.4 988.9,1955.1 991.4,1952.7 993.9,1950.4 996.4,1948.1 998.9,1945.8 1001.4,1943.6 1003.9,1941.3 1006.4,1939.0 1008.9,1936.7 1011.4,1934.5 1013.9,1932.2 1016.4,1930.0 1018.9,1927.7 1021.4,1925.5 1023.9,1923.3 1026.4,1921.1 1028.9,1918.9 1031.4,1916.7 1033.9,1914.5 1036.4,1912.3 1038.9,1910.1 1041.4,1908.0 1043.9,1905.8 1046.4,1903.7 1048.9,1901.5 1051.4,1899.4 1053.9,1897.3 1056.4,1895.2 1058.9,1893.1 1061.4,1891.0 1063.9,1888.9 1066.4,1886.8 1068.9,1884.7 1071.4,1882.6 1073.9,1880.6 1076.4,1878.5 1078.9,1876.5 1081.4,1874.5 1083.8,1872.4 1086.3,1870.4 1088.8,1868.4 1091.3,1866.4 1093.8,1864.4 1096.3,1862.5 1098.8,1860.5 1101.3,1858.5 1103.8,1856.6 1106.3,1854.6 1108.8,1852.7 1111.3,1850.8 1113.8,1848.9 1116.3,1847.0 1118.8,1845.1 1121.3,1843.2 1123.8,1841.3 1126.3,1839.4 1128.8,1837.6 1131.3,1835.7 1133.8,1833.9 1136.3,1832.1 1138.8,1830.3 1141.3,1828.4 1143.8,1826.7 1146.3,1824.9 1148.8,1823.1 1151.3,1821.3 1153.8,1819.6 1156.3,1817.8 1158.8,1816.1 1161.3,1814.3 1163.8,1812.6 1166.3,1810.9 1168.8,1809.2 1171.3,1807.5 1173.8,1805.9 1176.3,1804.2 1178.8,1802.5 1181.3,1800.9 1183.7,1799.3 1186.2,1797.6 1188.7,1796.0 1191.2,1794.4 1193.7,1792.8 1196.2,1791.2 1198.7,1789.7 1201.2,1788.1 1203.7,1786.6 1206.2,1785.0 1208.7,1783.5 1211.2,1782.0 1213.7,1780.5 1216.2,1779.0 1218.7,1777.5 1221.2,1776.1 1223.7,1774.6 1226.2,1773.1 1228.7,1771.7 1231.2,1770.3 1233.7,1768.9 1236.2,1767.5 1238.7,1766.1 1241.2,1764.7 1243.7,1763.3 1246.2,1762.0 1248.7,1760.6 1251.2,1759.3 1253.7,1758.0 1256.2,1756.7 1258.7,1755.4 1261.2,1754.1 1263.7,1752.8 1266.2,1751.6 1268.7,1750.3 1271.2,1749.1 1273.7,1747.9 1276.2,1746.7 1278.7,1745.5 1281.2,1744.3 1283.6,1743.1 1286.1,1742.0 1288.6,1740.8 1291.1,1739.7 1293.6,1738.6 1296.1,1737.5 1298.6,1736.4 1301.1,1735.3 1303.6,1734.2 1306.1,1733.2 1308.6,1732.1 1311.1,1731.1 1313.6,1730.1 1316.1,1729.1 1318.6,1728.1 1321.1,1727.1 1323.6,1726.1 1326.1,1725.2 1328.6,1724.2 1331.1,1723.3" fill="none" stroke="#1EE87A" stroke-width="3.7" stroke-linejoin="round" stroke-linecap="round"/>
<polyline points="834.1,2110.5 836.6,2107.4 839.1,2104.2 841.6,2101.1 844.1,2098.0 846.6,2094.9 849.1,2091.8 851.6,2088.6 854.1,2085.6 856.6,2082.5 859.1,2079.4 861.6,2076.3 864.1,2073.2 866.6,2070.2 869.1,2067.1 871.6,2064.0 874.1,2061.0 876.6,2058.0 879.1,2054.9 881.6,2051.9 884.0,2048.9 886.5,2045.9 889.0,2042.9 891.5,2039.9 894.0,2036.9 896.5,2033.9 899.0,2030.9 901.5,2027.9 904.0,2025.0 906.5,2022.0 909.0,2019.1 911.5,2016.1 914.0,2013.2 916.5,2010.3 919.0,2007.4 921.5,2004.4 924.0,2001.5 926.5,1998.6 929.0,1995.7 931.5,1992.9 934.0,1990.0 936.5,1987.1 939.0,1984.3 941.5,1981.4 944.0,1978.6 946.5,1975.7 949.0,1972.9 951.5,1970.1 954.0,1967.3 956.5,1964.5 959.0,1961.7 961.5,1958.9 964.0,1956.1 966.5,1953.4 969.0,1950.6 971.5,1947.8 974.0,1945.1 976.5,1942.4 979.0,1939.6 981.5,1936.9 983.9,1934.2 986.4,1931.5 988.9,1928.8 991.4,1926.1 993.9,1923.5 996.4,1920.8 998.9,1918.1 1001.4,1915.5 1003.9,1912.9 1006.4,1910.2 1008.9,1907.6 1011.4,1905.0 1013.9,1902.4 1016.4,1899.8 1018.9,1897.2 1021.4,1894.6 1023.9,1892.1 1026.4,1889.5 1028.9,1887.0 1031.4,1884.4 1033.9,1881.9 1036.4,1879.4 1038.9,1876.9 1041.4,1874.4 1043.9,1871.9 1046.4,1869.4 1048.9,1867.0 1051.4,1864.5 1053.9,1862.1 1056.4,1859.6 1058.9,1857.2 1061.4,1854.8 1063.9,1852.4 1066.4,1850.0 1068.9,1847.6 1071.4,1845.2 1073.9,1842.9 1076.4,1840.5 1078.9,1838.2 1081.4,1835.8 1083.8,1833.5 1086.3,1831.2 1088.8,1828.9 1091.3,1826.6 1093.8,1824.3 1096.3,1822.0 1098.8,1819.8 1101.3,1817.5 1103.8,1815.3 1106.3,1813.1 1108.8,1810.9 1111.3,1808.7 1113.8,1806.5 1116.3,1804.3 1118.8,1802.1 1121.3,1799.9 1123.8,1797.8 1126.3,1795.7 1128.8,1793.5 1131.3,1791.4 1133.8,1789.3 1136.3,1787.2 1138.8,1785.2 1141.3,1783.1 1143.8,1781.0 1146.3,1779.0 1148.8,1777.0 1151.3,1774.9 1153.8,1772.9 1156.3,1770.9 1158.8,1769.0 1161.3,1767.0 1163.8,1765.0 1166.3,1763.1 1168.8,1761.1 1171.3,1759.2 1173.8,1757.3 1176.3,1755.4 1178.8,1753.5 1181.3,1751.6 1183.7,1749.8 1186.2,1747.9 1188.7,1746.1 1191.2,1744.3 1193.7,1742.5 1196.2,1740.7 1198.7,1738.9 1201.2,1737.1 1203.7,1735.3 1206.2,1733.6 1208.7,1731.9 1211.2,1730.1 1213.7,1728.4 1216.2,1726.7 1218.7,1725.1 1221.2,1723.4 1223.7,1721.7 1226.2,1720.1 1228.7,1718.5 1231.2,1716.8 1233.7,1715.2 1236.2,1713.7 1238.7,1712.1 1241.2,1710.5 1243.7,1709.0 1246.2,1707.4 1248.7,1705.9 1251.2,1704.4 1253.7,1702.9 1256.2,1701.4 1258.7,1700.0 1261.2,1698.5 1263.7,1697.1 1266.2,1695.7 1268.7,1694.3 1271.2,1692.9 1273.7,1691.5 1276.2,1690.1 1278.7,1688.8 1281.2,1687.4 1283.6,1686.1 1286.1,1684.8 1288.6,1683.5 1291.1,1682.2 1293.6,1681.0 1296.1,1679.7 1298.6,1678.5 1301.1,1677.2 1303.6,1676.0 1306.1,1674.9 1308.6,1673.7 1311.1,1672.5 1313.6,1671.4 1316.1,1670.2 1318.6,1669.1 1321.1,1668.0 1323.6,1666.9 1326.1,1665.9 1328.6,1664.8 1331.1,1663.8" fill="none" stroke="#7CE01C" stroke-width="3.7" stroke-linejoin="round" stroke-linecap="round"/>
<polyline points="834.1,2110.5 836.6,2107.1 839.1,2103.7 841.6,2100.4 844.1,2097.0 846.6,2093.6 849.1,2090.3 851.6,2086.9 854.1,2083.6 856.6,2080.2 859.1,2076.9 861.6,2073.6 864.1,2070.3 866.6,2067.0 869.1,2063.7 871.6,2060.4 874.1,2057.1 876.6,2053.8 879.1,2050.5 881.6,2047.2 884.0,2044.0 886.5,2040.7 889.0,2037.4 891.5,2034.2 894.0,2031.0 896.5,2027.7 899.0,2024.5 901.5,2021.3 904.0,2018.1 906.5,2014.9 909.0,2011.7 911.5,2008.5 914.0,2005.3 916.5,2002.1 919.0,1999.0 921.5,1995.8 924.0,1992.7 926.5,1989.5 929.0,1986.4 931.5,1983.3 934.0,1980.2 936.5,1977.1 939.0,1974.0 941.5,1970.9 944.0,1967.8 946.5,1964.7 949.0,1961.6 951.5,1958.6 954.0,1955.5 956.5,1952.5 959.0,1949.5 961.5,1946.4 964.0,1943.4 966.5,1940.4 969.0,1937.4 971.5,1934.4 974.0,1931.4 976.5,1928.5 979.0,1925.5 981.5,1922.6 983.9,1919.6 986.4,1916.7 988.9,1913.8 991.4,1910.9 993.9,1907.9 996.4,1905.1 998.9,1902.2 1001.4,1899.3 1003.9,1896.4 1006.4,1893.6 1008.9,1890.7 1011.4,1887.9 1013.9,1885.1 1016.4,1882.2 1018.9,1879.4 1021.4,1876.6 1023.9,1873.9 1026.4,1871.1 1028.9,1868.3 1031.4,1865.6 1033.9,1862.8 1036.4,1860.1 1038.9,1857.4 1041.4,1854.7 1043.9,1852.0 1046.4,1849.3 1048.9,1846.6 1051.4,1843.9 1053.9,1841.3 1056.4,1838.6 1058.9,1836.0 1061.4,1833.3 1063.9,1830.7 1066.4,1828.1 1068.9,1825.5 1071.4,1823.0 1073.9,1820.4 1076.4,1817.8 1078.9,1815.3 1081.4,1812.8 1083.8,1810.2 1086.3,1807.7 1088.8,1805.2 1091.3,1802.8 1093.8,1800.3 1096.3,1797.8 1098.8,1795.4 1101.3,1792.9 1103.8,1790.5 1106.3,1788.1 1108.8,1785.7 1111.3,1783.3 1113.8,1780.9 1116.3,1778.6 1118.8,1776.2 1121.3,1773.9 1123.8,1771.6 1126.3,1769.3 1128.8,1767.0 1131.3,1764.7 1133.8,1762.4 1136.3,1760.1 1138.8,1757.9 1141.3,1755.7 1143.8,1753.4 1146.3,1751.2 1148.8,1749.0 1151.3,1746.9 1153.8,1744.7 1156.3,1742.5 1158.8,1740.4 1161.3,1738.3 1163.8,1736.2 1166.3,1734.1 1168.8,1732.0 1171.3,1729.9 1173.8,1727.9 1176.3,1725.8 1178.8,1723.8 1181.3,1721.8 1183.7,1719.8 1186.2,1717.8 1188.7,1715.8 1191.2,1713.9 1193.7,1711.9 1196.2,1710.0 1198.7,1708.1 1201.2,1706.2 1203.7,1704.3 1206.2,1702.4 1208.7,1700.6 1211.2,1698.7 1213.7,1696.9 1216.2,1695.1 1218.7,1693.3 1221.2,1691.5 1223.7,1689.8 1226.2,1688.0 1228.7,1686.3 1231.2,1684.6 1233.7,1682.9 1236.2,1681.2 1238.7,1679.5 1241.2,1677.9 1243.7,1676.2 1246.2,1674.6 1248.7,1673.0 1251.2,1671.4 1253.7,1669.8 1256.2,1668.3 1258.7,1666.7 1261.2,1665.2 1263.7,1663.7 1266.2,1662.2 1268.7,1660.7 1271.2,1659.2 1273.7,1657.8 1276.2,1656.4 1278.7,1654.9 1281.2,1653.5 1283.6,1652.2 1286.1,1650.8 1288.6,1649.5 1291.1,1648.1 1293.6,1646.8 1296.1,1645.5 1298.6,1644.2 1301.1,1643.0 1303.6,1641.7 1306.1,1640.5 1308.6,1639.3 1311.1,1638.1 1313.6,1636.9 1316.1,1635.8 1318.6,1634.6 1321.1,1633.5 1323.6,1632.4 1326.1,1631.3 1328.6,1630.2 1331.1,1629.2" fill="none" stroke="#F0A020" stroke-width="3.7" stroke-linejoin="round" stroke-linecap="round"/>
<polyline points="834.1,2110.5 836.6,2107.0 839.1,2103.4 841.6,2099.9 844.1,2096.4 846.6,2092.9 849.1,2089.4 851.6,2085.9 854.1,2082.4 856.6,2078.9 859.1,2075.5 861.6,2072.0 864.1,2068.5 866.6,2065.1 869.1,2061.6 871.6,2058.2 874.1,2054.7 876.6,2051.3 879.1,2047.9 881.6,2044.4 884.0,2041.0 886.5,2037.6 889.0,2034.2 891.5,2030.8 894.0,2027.4 896.5,2024.1 899.0,2020.7 901.5,2017.3 904.0,2014.0 906.5,2010.6 909.0,2007.3 911.5,2003.9 914.0,2000.6 916.5,1997.3 919.0,1994.0 921.5,1990.7 924.0,1987.4 926.5,1984.1 929.0,1980.8 931.5,1977.6 934.0,1974.3 936.5,1971.0 939.0,1967.8 941.5,1964.6 944.0,1961.3 946.5,1958.1 949.0,1954.9 951.5,1951.7 954.0,1948.5 956.5,1945.3 959.0,1942.1 961.5,1939.0 964.0,1935.8 966.5,1932.6 969.0,1929.5 971.5,1926.4 974.0,1923.2 976.5,1920.1 979.0,1917.0 981.5,1913.9 983.9,1910.9 986.4,1907.8 988.9,1904.7 991.4,1901.7 993.9,1898.6 996.4,1895.6 998.9,1892.5 1001.4,1889.5 1003.9,1886.5 1006.4,1883.5 1008.9,1880.5 1011.4,1877.6 1013.9,1874.6 1016.4,1871.6 1018.9,1868.7 1021.4,1865.8 1023.9,1862.8 1026.4,1859.9 1028.9,1857.0 1031.4,1854.1 1033.9,1851.3 1036.4,1848.4 1038.9,1845.5 1041.4,1842.7 1043.9,1839.9 1046.4,1837.0 1048.9,1834.2 1051.4,1831.4 1053.9,1828.6 1056.4,1825.9 1058.9,1823.1 1061.4,1820.3 1063.9,1817.6 1066.4,1814.9 1068.9,1812.1 1071.4,1809.4 1073.9,1806.7 1076.4,1804.1 1078.9,1801.4 1081.4,1798.7 1083.8,1796.1 1086.3,1793.5 1088.8,1790.8 1091.3,1788.2 1093.8,1785.6 1096.3,1783.1 1098.8,1780.5 1101.3,1777.9 1103.8,1775.4 1106.3,1772.9 1108.8,1770.3 1111.3,1767.8 1113.8,1765.3 1116.3,1762.9 1118.8,1760.4 1121.3,1757.9 1123.8,1755.5 1126.3,1753.1 1128.8,1750.7 1131.3,1748.3 1133.8,1745.9 1136.3,1743.5 1138.8,1741.2 1141.3,1738.8 1143.8,1736.5 1146.3,1734.2 1148.8,1731.9 1151.3,1729.6 1153.8,1727.3 1156.3,1725.1 1158.8,1722.8 1161.3,1720.6 1163.8,1718.4 1166.3,1716.2 1168.8,1714.0 1171.3,1711.8 1173.8,1709.7 1176.3,1707.6 1178.8,1705.4 1181.3,1703.3 1183.7,1701.2 1186.2,1699.2 1188.7,1697.1 1191.2,1695.0 1193.7,1693.0 1196.2,1691.0 1198.7,1689.0 1201.2,1687.0 1203.7,1685.0 1206.2,1683.1 1208.7,1681.1 1211.2,1679.2 1213.7,1677.3 1216.2,1675.4 1218.7,1673.6 1221.2,1671.7 1223.7,1669.9 1226.2,1668.0 1228.7,1666.2 1231.2,1664.4 1233.7,1662.7 1236.2,1660.9 1238.7,1659.2 1241.2,1657.4 1243.7,1655.7 1246.2,1654.0 1248.7,1652.4 1251.2,1650.7 1253.7,1649.1 1256.2,1647.4 1258.7,1645.8 1261.2,1644.2 1263.7,1642.7 1266.2,1641.1 1268.7,1639.6 1271.2,1638.1 1273.7,1636.6 1276.2,1635.1 1278.7,1633.6 1281.2,1632.2 1283.6,1630.7 1286.1,1629.3 1288.6,1627.9 1291.1,1626.5 1293.6,1625.2 1296.1,1623.8 1298.6,1622.5 1301.1,1621.2 1303.6,1619.9 1306.1,1618.7 1308.6,1617.4 1311.1,1616.2 1313.6,1615.0 1316.1,1613.8 1318.6,1612.6 1321.1,1611.5 1323.6,1610.3 1326.1,1609.2 1328.6,1608.1 1331.1,1607.1" fill="none" stroke="#E8321E" stroke-width="3.7" stroke-linejoin="round" stroke-linecap="round"/>
<rect x="1532.9" y="1539.2" width="498" height="570.8" fill="none" stroke="#000" stroke-width="2.5"/>
<line x1="1532.9" y1="1967.3" x2="1542.9" y2="1967.3" stroke="#000" stroke-width="2.5" stroke-linecap="butt"/>
<line x1="1532.9" y1="1824.6" x2="1542.9" y2="1824.6" stroke="#000" stroke-width="2.5" stroke-linecap="butt"/>
<line x1="1532.9" y1="1681.9" x2="1542.9" y2="1681.9" stroke="#000" stroke-width="2.5" stroke-linecap="butt"/>
<line x1="1532.9" y1="2038.65" x2="1537.9" y2="2038.65" stroke="#000" stroke-width="2.5" stroke-linecap="butt"/>
<line x1="1532.9" y1="1895.95" x2="1537.9" y2="1895.95" stroke="#000" stroke-width="2.5" stroke-linecap="butt"/>
<line x1="1532.9" y1="1753.25" x2="1537.9" y2="1753.25" stroke="#000" stroke-width="2.5" stroke-linecap="butt"/>
<line x1="1532.9" y1="1610.55" x2="1537.9" y2="1610.55" stroke="#000" stroke-width="2.5" stroke-linecap="butt"/>
<text x="1520.6" y="2117.4" font-size="28.5" text-anchor="end">0.0</text>
<text x="1520.6" y="1974.7" font-size="28.5" text-anchor="end">0.1</text>
<text x="1520.6" y="1832" font-size="28.5" text-anchor="end">0.2</text>
<text x="1520.6" y="1689.3" font-size="28.5" text-anchor="end">0.3</text>
<text x="1520.6" y="1546.6" font-size="28.5" text-anchor="end">0.4</text>
<line x1="1781.9" y1="2110" x2="1781.9" y2="2100" stroke="#000" stroke-width="2.5" stroke-linecap="butt"/>
<line x1="1657.4" y1="2110" x2="1657.4" y2="2105" stroke="#000" stroke-width="2.5" stroke-linecap="butt"/>
<line x1="1906.4" y1="2110" x2="1906.4" y2="2105" stroke="#000" stroke-width="2.5" stroke-linecap="butt"/>
<text x="1532.9" y="2143.8" font-size="28.5" text-anchor="middle">0.0</text>
<text x="1781.9" y="2143.8" font-size="28.5" text-anchor="middle">0.5</text>
<text x="2030.9" y="2143.8" font-size="28.5" text-anchor="middle">1.0</text>
<text x="1393.2" y="1512.9" font-size="33" font-weight="bold">g</text>
<text transform="translate(1440.2,1802.6) rotate(-90)" font-size="31.5" text-anchor="middle"><tspan font-style="italic">I</tspan><tspan font-size="21" dy="8">ds</tspan><tspan dy="-8"> (mA/μm)</tspan></text>
<text x="1736.8" y="2207" font-size="31.5"><tspan font-style="italic">V</tspan><tspan font-size="21" dy="8">ds</tspan><tspan dy="-8"> (V)</tspan></text>
<polyline points="1532.9,2110.0 2030.9,2110.0" fill="none" stroke="#6414D2" stroke-width="3.7" stroke-linejoin="round" stroke-linecap="round"/>
<polyline points="1532.9,2110.0 1535.4,2109.5 1537.9,2109.0 1540.4,2108.6 1542.9,2108.1 1545.4,2107.6 1547.9,2107.1 1550.4,2106.7 1552.9,2106.2 1555.4,2105.7 1557.9,2105.2 1560.4,2104.8 1562.9,2104.3 1565.4,2103.8 1567.9,2103.4 1570.4,2102.9 1572.9,2102.4 1575.4,2101.9 1577.9,2101.5 1580.4,2101.0 1583.0,2100.6 1585.5,2100.1 1588.0,2099.6 1590.5,2099.2 1593.0,2098.7 1595.5,2098.2 1598.0,2097.8 1600.5,2097.3 1603.0,2096.9 1605.5,2096.4 1608.0,2096.0 1610.5,2095.5 1613.0,2095.1 1615.5,2094.6 1618.0,2094.2 1620.5,2093.7 1623.0,2093.3 1625.5,2092.8 1628.0,2092.4 1630.5,2091.9 1633.0,2091.5 1635.5,2091.0 1638.0,2090.6 1640.5,2090.2 1643.0,2089.7 1645.5,2089.3 1648.0,2088.8 1650.5,2088.4 1653.0,2088.0 1655.5,2087.5 1658.0,2087.1 1660.5,2086.7 1663.0,2086.2 1665.5,2085.8 1668.0,2085.4 1670.5,2085.0 1673.0,2084.5 1675.5,2084.1 1678.0,2083.7 1680.5,2083.3 1683.1,2082.9 1685.6,2082.4 1688.1,2082.0 1690.6,2081.6 1693.1,2081.2 1695.6,2080.8 1698.1,2080.4 1700.6,2080.0 1703.1,2079.5 1705.6,2079.1 1708.1,2078.7 1710.6,2078.3 1713.1,2077.9 1715.6,2077.5 1718.1,2077.1 1720.6,2076.7 1723.1,2076.3 1725.6,2075.9 1728.1,2075.5 1730.6,2075.1 1733.1,2074.7 1735.6,2074.3 1738.1,2074.0 1740.6,2073.6 1743.1,2073.2 1745.6,2072.8 1748.1,2072.4 1750.6,2072.0 1753.1,2071.7 1755.6,2071.3 1758.1,2070.9 1760.6,2070.5 1763.1,2070.1 1765.6,2069.8 1768.1,2069.4 1770.6,2069.0 1773.1,2068.7 1775.6,2068.3 1778.1,2067.9 1780.6,2067.6 1783.2,2067.2 1785.7,2066.8 1788.2,2066.5 1790.7,2066.1 1793.2,2065.8 1795.7,2065.4 1798.2,2065.1 1800.7,2064.7 1803.2,2064.4 1805.7,2064.0 1808.2,2063.7 1810.7,2063.3 1813.2,2063.0 1815.7,2062.7 1818.2,2062.3 1820.7,2062.0 1823.2,2061.7 1825.7,2061.3 1828.2,2061.0 1830.7,2060.7 1833.2,2060.3 1835.7,2060.0 1838.2,2059.7 1840.7,2059.4 1843.2,2059.0 1845.7,2058.7 1848.2,2058.4 1850.7,2058.1 1853.2,2057.8 1855.7,2057.5 1858.2,2057.2 1860.7,2056.9 1863.2,2056.6 1865.7,2056.2 1868.2,2055.9 1870.7,2055.6 1873.2,2055.3 1875.7,2055.1 1878.2,2054.8 1880.7,2054.5 1883.3,2054.2 1885.8,2053.9 1888.3,2053.6 1890.8,2053.3 1893.3,2053.0 1895.8,2052.8 1898.3,2052.5 1900.8,2052.2 1903.3,2051.9 1905.8,2051.7 1908.3,2051.4 1910.8,2051.1 1913.3,2050.9 1915.8,2050.6 1918.3,2050.3 1920.8,2050.1 1923.3,2049.8 1925.8,2049.6 1928.3,2049.3 1930.8,2049.1 1933.3,2048.8 1935.8,2048.6 1938.3,2048.3 1940.8,2048.1 1943.3,2047.9 1945.8,2047.6 1948.3,2047.4 1950.8,2047.1 1953.3,2046.9 1955.8,2046.7 1958.3,2046.5 1960.8,2046.2 1963.3,2046.0 1965.8,2045.8 1968.3,2045.6 1970.8,2045.4 1973.3,2045.2 1975.8,2044.9 1978.3,2044.7 1980.8,2044.5 1983.4,2044.3 1985.9,2044.1 1988.4,2043.9 1990.9,2043.7 1993.4,2043.5 1995.9,2043.4 1998.4,2043.2 2000.9,2043.0 2003.4,2042.8 2005.9,2042.6 2008.4,2042.4 2010.9,2042.3 2013.4,2042.1 2015.9,2041.9 2018.4,2041.7 2020.9,2041.6 2023.4,2041.4 2025.9,2041.2 2028.4,2041.1 2030.9,2040.9" fill="none" stroke="#283CDC" stroke-width="3.7" stroke-linejoin="round" stroke-linecap="round"/>
<polyline points="1532.9,2110.0 1535.4,2108.9 1537.9,2107.9 1540.4,2106.8 1542.9,2105.8 1545.4,2104.7 1547.9,2103.7 1550.4,2102.6 1552.9,2101.6 1555.4,2100.6 1557.9,2099.5 1560.4,2098.5 1562.9,2097.4 1565.4,2096.4 1567.9,2095.3 1570.4,2094.3 1572.9,2093.2 1575.4,2092.2 1577.9,2091.1 1580.4,2090.1 1583.0,2089.0 1585.5,2088.0 1588.0,2087.0 1590.5,2085.9 1593.0,2084.9 1595.5,2083.8 1598.0,2082.8 1600.5,2081.7 1603.0,2080.7 1605.5,2079.7 1608.0,2078.6 1610.5,2077.6 1613.0,2076.5 1615.5,2075.5 1618.0,2074.5 1620.5,2073.4 1623.0,2072.4 1625.5,2071.4 1628.0,2070.3 1630.5,2069.3 1633.0,2068.2 1635.5,2067.2 1638.0,2066.2 1640.5,2065.1 1643.0,2064.1 1645.5,2063.1 1648.0,2062.0 1650.5,2061.0 1653.0,2060.0 1655.5,2059.0 1658.0,2057.9 1660.5,2056.9 1663.0,2055.9 1665.5,2054.8 1668.0,2053.8 1670.5,2052.8 1673.0,2051.8 1675.5,2050.7 1678.0,2049.7 1680.5,2048.7 1683.1,2047.7 1685.6,2046.6 1688.1,2045.6 1690.6,2044.6 1693.1,2043.6 1695.6,2042.6 1698.1,2041.5 1700.6,2040.5 1703.1,2039.5 1705.6,2038.5 1708.1,2037.5 1710.6,2036.5 1713.1,2035.5 1715.6,2034.4 1718.1,2033.4 1720.6,2032.4 1723.1,2031.4 1725.6,2030.4 1728.1,2029.4 1730.6,2028.4 1733.1,2027.4 1735.6,2026.4 1738.1,2025.4 1740.6,2024.4 1743.1,2023.4 1745.6,2022.4 1748.1,2021.4 1750.6,2020.4 1753.1,2019.4 1755.6,2018.4 1758.1,2017.4 1760.6,2016.4 1763.1,2015.4 1765.6,2014.4 1768.1,2013.4 1770.6,2012.5 1773.1,2011.5 1775.6,2010.5 1778.1,2009.5 1780.6,2008.5 1783.2,2007.5 1785.7,2006.6 1788.2,2005.6 1790.7,2004.6 1793.2,2003.6 1795.7,2002.7 1798.2,2001.7 1800.7,2000.7 1803.2,1999.7 1805.7,1998.8 1808.2,1997.8 1810.7,1996.9 1813.2,1995.9 1815.7,1994.9 1818.2,1994.0 1820.7,1993.0 1823.2,1992.1 1825.7,1991.1 1828.2,1990.2 1830.7,1989.2 1833.2,1988.3 1835.7,1987.3 1838.2,1986.4 1840.7,1985.4 1843.2,1984.5 1845.7,1983.6 1848.2,1982.6 1850.7,1981.7 1853.2,1980.8 1855.7,1979.8 1858.2,1978.9 1860.7,1978.0 1863.2,1977.1 1865.7,1976.1 1868.2,1975.2 1870.7,1974.3 1873.2,1973.4 1875.7,1972.5 1878.2,1971.6 1880.7,1970.7 1883.3,1969.8 1885.8,1968.9 1888.3,1968.0 1890.8,1967.1 1893.3,1966.2 1895.8,1965.3 1898.3,1964.4 1900.8,1963.5 1903.3,1962.6 1905.8,1961.8 1908.3,1960.9 1910.8,1960.0 1913.3,1959.1 1915.8,1958.3 1918.3,1957.4 1920.8,1956.5 1923.3,1955.7 1925.8,1954.8 1928.3,1954.0 1930.8,1953.1 1933.3,1952.3 1935.8,1951.4 1938.3,1950.6 1940.8,1949.7 1943.3,1948.9 1945.8,1948.1 1948.3,1947.3 1950.8,1946.4 1953.3,1945.6 1955.8,1944.8 1958.3,1944.0 1960.8,1943.2 1963.3,1942.4 1965.8,1941.6 1968.3,1940.8 1970.8,1940.0 1973.3,1939.2 1975.8,1938.4 1978.3,1937.6 1980.8,1936.8 1983.4,1936.0 1985.9,1935.3 1988.4,1934.5 1990.9,1933.7 1993.4,1933.0 1995.9,1932.2 1998.4,1931.5 2000.9,1930.7 2003.4,1930.0 2005.9,1929.2 2008.4,1928.5 2010.9,1927.8 2013.4,1927.0 2015.9,1926.3 2018.4,1925.6 2020.9,1924.9 2023.4,1924.2 2025.9,1923.5 2028.4,1922.8 2030.9,1922.1" fill="none" stroke="#1EAAE6" stroke-width="3.7" stroke-linejoin="round" stroke-linecap="round"/>
<polyline points="1532.9,2110.0 1535.4,2108.7 1537.9,2107.4 1540.4,2106.1 1542.9,2104.9 1545.4,2103.6 1547.9,2102.3 1550.4,2101.0 1552.9,2099.7 1555.4,2098.4 1557.9,2097.2 1560.4,2095.9 1562.9,2094.6 1565.4,2093.3 1567.9,2092.0 1570.4,2090.7 1572.9,2089.4 1575.4,2088.2 1577.9,2086.9 1580.4,2085.6 1583.0,2084.3 1585.5,2083.0 1588.0,2081.7 1590.5,2080.5 1593.0,2079.2 1595.5,2077.9 1598.0,2076.6 1600.5,2075.3 1603.0,2074.0 1605.5,2072.8 1608.0,2071.5 1610.5,2070.2 1613.0,2068.9 1615.5,2067.6 1618.0,2066.3 1620.5,2065.1 1623.0,2063.8 1625.5,2062.5 1628.0,2061.2 1630.5,2059.9 1633.0,2058.6 1635.5,2057.4 1638.0,2056.1 1640.5,2054.8 1643.0,2053.5 1645.5,2052.2 1648.0,2051.0 1650.5,2049.7 1653.0,2048.4 1655.5,2047.1 1658.0,2045.8 1660.5,2044.6 1663.0,2043.3 1665.5,2042.0 1668.0,2040.7 1670.5,2039.4 1673.0,2038.2 1675.5,2036.9 1678.0,2035.6 1680.5,2034.3 1683.1,2033.1 1685.6,2031.8 1688.1,2030.5 1690.6,2029.2 1693.1,2028.0 1695.6,2026.7 1698.1,2025.4 1700.6,2024.2 1703.1,2022.9 1705.6,2021.6 1708.1,2020.3 1710.6,2019.1 1713.1,2017.8 1715.6,2016.5 1718.1,2015.3 1720.6,2014.0 1723.1,2012.7 1725.6,2011.5 1728.1,2010.2 1730.6,2009.0 1733.1,2007.7 1735.6,2006.4 1738.1,2005.2 1740.6,2003.9 1743.1,2002.7 1745.6,2001.4 1748.1,2000.1 1750.6,1998.9 1753.1,1997.6 1755.6,1996.4 1758.1,1995.1 1760.6,1993.9 1763.1,1992.6 1765.6,1991.4 1768.1,1990.1 1770.6,1988.9 1773.1,1987.6 1775.6,1986.4 1778.1,1985.2 1780.6,1983.9 1783.2,1982.7 1785.7,1981.4 1788.2,1980.2 1790.7,1979.0 1793.2,1977.7 1795.7,1976.5 1798.2,1975.3 1800.7,1974.0 1803.2,1972.8 1805.7,1971.6 1808.2,1970.4 1810.7,1969.1 1813.2,1967.9 1815.7,1966.7 1818.2,1965.5 1820.7,1964.3 1823.2,1963.0 1825.7,1961.8 1828.2,1960.6 1830.7,1959.4 1833.2,1958.2 1835.7,1957.0 1838.2,1955.8 1840.7,1954.6 1843.2,1953.4 1845.7,1952.2 1848.2,1951.0 1850.7,1949.8 1853.2,1948.6 1855.7,1947.4 1858.2,1946.3 1860.7,1945.1 1863.2,1943.9 1865.7,1942.7 1868.2,1941.5 1870.7,1940.4 1873.2,1939.2 1875.7,1938.0 1878.2,1936.9 1880.7,1935.7 1883.3,1934.5 1885.8,1933.4 1888.3,1932.2 1890.8,1931.1 1893.3,1929.9 1895.8,1928.8 1898.3,1927.6 1900.8,1926.5 1903.3,1925.3 1905.8,1924.2 1908.3,1923.1 1910.8,1922.0 1913.3,1920.8 1915.8,1919.7 1918.3,1918.6 1920.8,1917.5 1923.3,1916.4 1925.8,1915.2 1928.3,1914.1 1930.8,1913.0 1933.3,1911.9 1935.8,1910.8 1938.3,1909.7 1940.8,1908.7 1943.3,1907.6 1945.8,1906.5 1948.3,1905.4 1950.8,1904.3 1953.3,1903.3 1955.8,1902.2 1958.3,1901.1 1960.8,1900.1 1963.3,1899.0 1965.8,1898.0 1968.3,1896.9 1970.8,1895.9 1973.3,1894.9 1975.8,1893.8 1978.3,1892.8 1980.8,1891.8 1983.4,1890.7 1985.9,1889.7 1988.4,1888.7 1990.9,1887.7 1993.4,1886.7 1995.9,1885.7 1998.4,1884.7 2000.9,1883.7 2003.4,1882.7 2005.9,1881.8 2008.4,1880.8 2010.9,1879.8 2013.4,1878.9 2015.9,1877.9 2018.4,1876.9 2020.9,1876.0 2023.4,1875.0 2025.9,1874.1 2028.4,1873.2 2030.9,1872.2" fill="none" stroke="#1EE87A" stroke-width="3.7" stroke-linejoin="round" stroke-linecap="round"/>
<polyline points="1532.9,2110.0 1534.6,2109.1 1536.2,2108.2 1537.9,2107.3 1539.6,2106.5 1541.2,2105.6 1542.9,2104.7 1544.6,2103.8 1546.2,2102.9 1547.9,2102.0 1549.6,2101.1 1551.2,2100.2 1552.9,2099.3 1554.6,2098.4 1556.2,2097.6 1557.9,2096.7 1559.5,2095.8 1561.2,2094.9 1562.9,2094.0 1564.5,2093.1 1566.2,2092.2 1567.9,2091.3 1569.5,2090.4 1571.2,2089.5 1572.9,2088.6 1574.5,2087.7 1576.2,2086.8 1577.9,2085.9 1579.5,2085.0 1581.2,2084.1 1582.9,2083.2 1584.5,2082.3 1586.2,2081.4 1587.9,2080.5 1589.5,2079.6 1591.2,2078.7 1592.9,2077.8 1594.5,2076.9 1596.2,2076.0 1597.9,2075.0 1599.5,2074.1 1601.2,2073.2 1602.9,2072.3 1604.5,2071.4 1606.2,2070.5 1607.8,2069.6 1609.5,2068.7 1611.2,2067.8 1612.8,2066.9 1614.5,2065.9 1616.2,2065.0 1617.8,2064.1 1619.5,2063.2 1621.2,2062.3 1622.8,2061.4 1624.5,2060.5 1626.2,2059.5 1627.8,2058.6 1629.5,2057.7 1631.2,2056.8 1632.8,2055.9 1634.5,2055.0 1636.2,2054.0 1637.8,2053.1 1639.5,2052.2 1641.2,2051.3 1642.8,2050.3 1644.5,2049.4 1646.2,2048.5 1647.8,2047.5 1649.5,2046.6 1651.2,2045.7 1652.8,2044.7 1654.5,2043.8 1656.2,2042.9 1657.8,2041.9 1659.5,2041.0 1661.1,2040.0 1662.8,2039.1 1664.5,2038.2 1666.1,2037.2 1667.8,2036.3 1669.5,2035.3 1671.1,2034.4 1672.8,2033.4 1674.5,2032.5 1676.1,2031.6 1677.8,2030.6 1679.5,2029.7 1681.1,2028.7 1682.8,2027.8 1684.5,2026.8 1686.1,2025.9 1687.8,2024.9 1689.5,2024.0 1691.1,2023.1 1692.8,2022.1 1694.5,2021.2 1696.1,2020.2 1697.8,2019.3 1699.5,2018.3 1701.1,2017.4 1702.8,2016.5 1704.5,2015.5 1706.1,2014.6 1707.8,2013.7 1709.4,2012.7 1711.1,2011.8 1712.8,2010.8 1714.4,2009.9 1716.1,2009.0 1717.8,2008.1 1719.4,2007.1 1721.1,2006.2 1722.8,2005.3 1724.4,2004.3 1726.1,2003.4 1727.8,2002.5 1729.4,2001.6 1731.1,2000.7 1732.8,1999.8 1734.4,1998.8 1736.1,1997.9 1737.8,1997.0 1739.4,1996.1 1741.1,1995.2 1742.8,1994.3 1744.4,1993.4 1746.1,1992.5 1747.8,1991.6 1749.4,1990.6 1751.1,1989.7 1752.8,1988.8 1754.4,1987.9 1756.1,1987.0 1757.7,1986.1 1759.4,1985.2 1761.1,1984.3 1762.7,1983.4 1764.4,1982.5 1766.1,1981.6 1767.7,1980.7 1769.4,1979.8 1771.1,1978.9 1772.7,1978.0 1774.4,1977.1 1776.1,1976.2 1777.7,1975.3 1779.4,1974.4 1781.1,1973.5 1782.7,1972.6 1784.4,1971.8 1786.1,1970.9 1787.7,1970.0 1789.4,1969.1 1791.1,1968.2 1792.7,1967.3 1794.4,1966.4 1796.1,1965.5 1797.7,1964.6 1799.4,1963.7 1801.1,1962.9 1802.7,1962.0 1804.4,1961.1 1806.1,1960.2 1807.7,1959.3 1809.4,1958.4 1811.0,1957.5 1812.7,1956.7 1814.4,1955.8 1816.0,1954.9 1817.7,1954.0 1819.4,1953.1 1821.0,1952.2 1822.7,1951.4 1824.4,1950.5 1826.0,1949.6 1827.7,1948.7 1829.4,1947.8 1831.0,1947.0 1832.7,1946.1 1834.4,1945.2 1836.0,1944.3 1837.7,1943.4 1839.4,1942.6 1841.0,1941.7 1842.7,1940.8 1844.4,1939.9 1846.0,1939.0 1847.7,1938.2 1849.4,1937.3 1851.0,1936.4 1852.7,1935.5 1854.4,1934.7 1856.0,1933.8 1857.7,1932.9 1859.3,1932.1 1861.0,1931.2 1862.7,1930.3 1864.3,1929.5 1866.0,1928.6 1867.7,1927.8 1869.3,1926.9 1871.0,1926.1 1872.7,1925.2 1874.3,1924.4 1876.0,1923.5 1877.7,1922.7 1879.3,1921.9 1881.0,1921.1 1882.7,1920.3 1884.3,1919.5 1886.0,1918.7 1887.7,1917.9 1889.3,1917.1 1891.0,1916.3 1892.7,1915.5 1894.3,1914.7 1896.0,1914.0 1897.7,1913.2 1899.3,1912.4 1901.0,1911.6 1902.7,1910.8 1904.3,1910.0 1906.0,1909.1 1907.6,1908.3 1909.3,1907.5 1911.0,1906.6 1912.6,1905.7 1914.3,1904.8 1916.0,1903.9 1917.6,1902.9 1919.3,1902.0 1921.0,1901.0 1922.6,1900.1 1924.3,1899.1 1926.0,1898.2 1927.6,1897.2 1929.3,1896.3 1931.0,1895.4 1932.6,1894.5 1934.3,1893.7 1936.0,1892.8 1937.6,1891.9 1939.3,1891.1 1941.0,1890.3 1942.6,1889.4 1944.3,1888.6 1946.0,1887.8 1947.6,1886.9 1949.3,1886.1 1951.0,1885.3 1952.6,1884.4 1954.3,1883.6 1956.0,1882.8 1957.6,1881.9 1959.3,1881.1 1960.9,1880.2 1962.6,1879.3 1964.3,1878.5 1965.9,1877.6 1967.6,1876.7 1969.3,1875.9 1970.9,1875.0 1972.6,1874.1 1974.3,1873.3 1975.9,1872.4 1977.6,1871.5 1979.3,1870.7 1980.9,1869.9 1982.6,1869.0 1984.3,1868.2 1985.9,1867.4 1987.6,1866.6 1989.3,1865.8 1990.9,1865.0 1992.6,1864.2 1994.3,1863.4 1995.9,1862.7 1997.6,1862.0 1999.3,1861.2 2000.9,1860.5 2002.6,1859.8 2004.3,1859.1 2005.9,1858.4 2007.6,1857.7 2009.2,1857.0 2010.9,1856.4 2012.6,1855.7 2014.2,1855.0 2015.9,1854.4 2017.6,1853.7 2019.2,1853.1 2020.9,1852.5 2022.6,1851.8 2024.2,1851.2 2025.9,1850.6 2027.6,1850.0 2029.2,1849.4 2030.9,1848.9" fill="none" stroke="#7CE01C" stroke-width="3.7" stroke-linejoin="round" stroke-linecap="round"/>
<polyline points="1532.9,2110.0 1534.6,2109.1 1536.2,2108.2 1537.9,2107.3 1539.6,2106.4 1541.2,2105.5 1542.9,2104.7 1544.6,2103.8 1546.2,2102.9 1547.9,2102.0 1549.6,2101.1 1551.2,2100.2 1552.9,2099.3 1554.6,2098.4 1556.2,2097.5 1557.9,2096.6 1559.5,2095.7 1561.2,2094.8 1562.9,2093.9 1564.5,2093.0 1566.2,2092.1 1567.9,2091.2 1569.5,2090.3 1571.2,2089.4 1572.9,2088.5 1574.5,2087.6 1576.2,2086.7 1577.9,2085.8 1579.5,2084.9 1581.2,2084.0 1582.9,2083.1 1584.5,2082.2 1586.2,2081.2 1587.9,2080.3 1589.5,2079.4 1591.2,2078.5 1592.9,2077.6 1594.5,2076.7 1596.2,2075.8 1597.9,2074.9 1599.5,2074.0 1601.2,2073.0 1602.9,2072.1 1604.5,2071.2 1606.2,2070.3 1607.8,2069.4 1609.5,2068.5 1611.2,2067.6 1612.8,2066.6 1614.5,2065.7 1616.2,2064.8 1617.8,2063.9 1619.5,2063.0 1621.2,2062.0 1622.8,2061.1 1624.5,2060.2 1626.2,2059.3 1627.8,2058.4 1629.5,2057.4 1631.2,2056.5 1632.8,2055.6 1634.5,2054.7 1636.2,2053.7 1637.8,2052.8 1639.5,2051.9 1641.2,2050.9 1642.8,2050.0 1644.5,2049.1 1646.2,2048.1 1647.8,2047.2 1649.5,2046.3 1651.2,2045.3 1652.8,2044.4 1654.5,2043.4 1656.2,2042.5 1657.8,2041.5 1659.5,2040.6 1661.1,2039.6 1662.8,2038.7 1664.5,2037.7 1666.1,2036.8 1667.8,2035.8 1669.5,2034.9 1671.1,2033.9 1672.8,2033.0 1674.5,2032.0 1676.1,2031.1 1677.8,2030.1 1679.5,2029.2 1681.1,2028.2 1682.8,2027.3 1684.5,2026.3 1686.1,2025.4 1687.8,2024.4 1689.5,2023.4 1691.1,2022.5 1692.8,2021.5 1694.5,2020.6 1696.1,2019.6 1697.8,2018.7 1699.5,2017.7 1701.1,2016.8 1702.8,2015.8 1704.5,2014.9 1706.1,2014.0 1707.8,2013.0 1709.4,2012.1 1711.1,2011.1 1712.8,2010.2 1714.4,2009.3 1716.1,2008.3 1717.8,2007.4 1719.4,2006.4 1721.1,2005.5 1722.8,2004.6 1724.4,2003.7 1726.1,2002.7 1727.8,2001.8 1729.4,2000.9 1731.1,2000.0 1732.8,1999.0 1734.4,1998.1 1736.1,1997.2 1737.8,1996.3 1739.4,1995.4 1741.1,1994.5 1742.8,1993.6 1744.4,1992.6 1746.1,1991.7 1747.8,1990.8 1749.4,1989.9 1751.1,1989.0 1752.8,1988.1 1754.4,1987.2 1756.1,1986.3 1757.7,1985.4 1759.4,1984.5 1761.1,1983.6 1762.7,1982.7 1764.4,1981.8 1766.1,1980.9 1767.7,1980.0 1769.4,1979.1 1771.1,1978.2 1772.7,1977.3 1774.4,1976.4 1776.1,1975.5 1777.7,1974.6 1779.4,1973.7 1781.1,1972.8 1782.7,1971.9 1784.4,1971.0 1786.1,1970.1 1787.7,1969.3 1789.4,1968.4 1791.1,1967.5 1792.7,1966.6 1794.4,1965.7 1796.1,1964.8 1797.7,1963.9 1799.4,1963.0 1801.1,1962.2 1802.7,1961.3 1804.4,1960.4 1806.1,1959.5 1807.7,1958.6 1809.4,1957.7 1811.0,1956.8 1812.7,1956.0 1814.4,1955.1 1816.0,1954.2 1817.7,1953.3 1819.4,1952.4 1821.0,1951.5 1822.7,1950.7 1824.4,1949.8 1826.0,1948.9 1827.7,1948.0 1829.4,1947.1 1831.0,1946.2 1832.7,1945.4 1834.4,1944.5 1836.0,1943.6 1837.7,1942.7 1839.4,1941.8 1841.0,1940.9 1842.7,1940.1 1844.4,1939.2 1846.0,1938.3 1847.7,1937.4 1849.4,1936.5 1851.0,1935.6 1852.7,1934.8 1854.4,1933.9 1856.0,1933.0 1857.7,1932.1 1859.3,1931.2 1861.0,1930.4 1862.7,1929.5 1864.3,1928.6 1866.0,1927.8 1867.7,1926.9 1869.3,1926.1 1871.0,1925.2 1872.7,1924.4 1874.3,1923.5 1876.0,1922.7 1877.7,1921.8 1879.3,1921.0 1881.0,1920.2 1882.7,1919.4 1884.3,1918.6 1886.0,1917.8 1887.7,1917.1 1889.3,1916.3 1891.0,1915.5 1892.7,1914.8 1894.3,1914.0 1896.0,1913.2 1897.7,1912.4 1899.3,1911.7 1901.0,1910.9 1902.7,1910.1 1904.3,1909.3 1906.0,1908.4 1907.6,1907.6 1909.3,1906.8 1911.0,1905.9 1912.6,1905.0 1914.3,1904.1 1916.0,1903.1 1917.6,1902.2 1919.3,1901.2 1921.0,1900.2 1922.6,1899.2 1924.3,1898.2 1926.0,1897.2 1927.6,1896.3 1929.3,1895.3 1931.0,1894.4 1932.6,1893.5 1934.3,1892.6 1936.0,1891.8 1937.6,1890.9 1939.3,1890.1 1941.0,1889.2 1942.6,1888.4 1944.3,1887.6 1946.0,1886.8 1947.6,1885.9 1949.3,1885.1 1951.0,1884.3 1952.6,1883.4 1954.3,1882.6 1956.0,1881.8 1957.6,1880.9 1959.3,1880.0 1960.9,1879.2 1962.6,1878.3 1964.3,1877.4 1965.9,1876.6 1967.6,1875.7 1969.3,1874.8 1970.9,1873.9 1972.6,1873.1 1974.3,1872.2 1975.9,1871.3 1977.6,1870.5 1979.3,1869.6 1980.9,1868.7 1982.6,1867.9 1984.3,1867.0 1985.9,1866.2 1987.6,1865.3 1989.3,1864.5 1990.9,1863.7 1992.6,1862.9 1994.3,1862.1 1995.9,1861.3 1997.6,1860.5 1999.3,1859.7 2000.9,1858.9 2002.6,1858.2 2004.3,1857.4 2005.9,1856.7 2007.6,1855.9 2009.2,1855.2 2010.9,1854.4 2012.6,1853.7 2014.2,1853.0 2015.9,1852.3 2017.6,1851.5 2019.2,1850.8 2020.9,1850.1 2022.6,1849.4 2024.2,1848.7 2025.9,1848.0 2027.6,1847.4 2029.2,1846.7 2030.9,1846.0" fill="none" stroke="#F0A020" stroke-width="3.7" stroke-linejoin="round" stroke-linecap="round"/>
<polyline points="1532.9,2110.0 1534.6,2109.1 1536.2,2108.2 1537.9,2107.3 1539.6,2106.4 1541.2,2105.5 1542.9,2104.5 1544.6,2103.6 1546.2,2102.7 1547.9,2101.8 1549.6,2100.9 1551.2,2100.0 1552.9,2099.1 1554.6,2098.2 1556.2,2097.2 1557.9,2096.3 1559.5,2095.4 1561.2,2094.5 1562.9,2093.6 1564.5,2092.7 1566.2,2091.7 1567.9,2090.8 1569.5,2089.9 1571.2,2089.0 1572.9,2088.1 1574.5,2087.1 1576.2,2086.2 1577.9,2085.3 1579.5,2084.4 1581.2,2083.4 1582.9,2082.5 1584.5,2081.6 1586.2,2080.7 1587.9,2079.7 1589.5,2078.8 1591.2,2077.9 1592.9,2076.9 1594.5,2076.0 1596.2,2075.1 1597.9,2074.1 1599.5,2073.2 1601.2,2072.3 1602.9,2071.3 1604.5,2070.4 1606.2,2069.5 1607.8,2068.5 1609.5,2067.6 1611.2,2066.7 1612.8,2065.7 1614.5,2064.8 1616.2,2063.9 1617.8,2062.9 1619.5,2062.0 1621.2,2061.0 1622.8,2060.1 1624.5,2059.2 1626.2,2058.2 1627.8,2057.3 1629.5,2056.3 1631.2,2055.4 1632.8,2054.4 1634.5,2053.5 1636.2,2052.6 1637.8,2051.6 1639.5,2050.7 1641.2,2049.7 1642.8,2048.7 1644.5,2047.8 1646.2,2046.8 1647.8,2045.9 1649.5,2044.9 1651.2,2044.0 1652.8,2043.0 1654.5,2042.0 1656.2,2041.1 1657.8,2040.1 1659.5,2039.1 1661.1,2038.2 1662.8,2037.2 1664.5,2036.2 1666.1,2035.3 1667.8,2034.3 1669.5,2033.3 1671.1,2032.4 1672.8,2031.4 1674.5,2030.4 1676.1,2029.4 1677.8,2028.5 1679.5,2027.5 1681.1,2026.5 1682.8,2025.6 1684.5,2024.6 1686.1,2023.6 1687.8,2022.6 1689.5,2021.7 1691.1,2020.7 1692.8,2019.7 1694.5,2018.7 1696.1,2017.8 1697.8,2016.8 1699.5,2015.8 1701.1,2014.9 1702.8,2013.9 1704.5,2012.9 1706.1,2012.0 1707.8,2011.0 1709.4,2010.0 1711.1,2009.1 1712.8,2008.1 1714.4,2007.1 1716.1,2006.2 1717.8,2005.2 1719.4,2004.2 1721.1,2003.3 1722.8,2002.3 1724.4,2001.4 1726.1,2000.4 1727.8,1999.5 1729.4,1998.5 1731.1,1997.6 1732.8,1996.6 1734.4,1995.7 1736.1,1994.7 1737.8,1993.7 1739.4,1992.8 1741.1,1991.8 1742.8,1990.9 1744.4,1989.9 1746.1,1989.0 1747.8,1988.0 1749.4,1987.1 1751.1,1986.1 1752.8,1985.2 1754.4,1984.2 1756.1,1983.2 1757.7,1982.3 1759.4,1981.3 1761.1,1980.4 1762.7,1979.4 1764.4,1978.5 1766.1,1977.5 1767.7,1976.5 1769.4,1975.6 1771.1,1974.6 1772.7,1973.7 1774.4,1972.7 1776.1,1971.8 1777.7,1970.8 1779.4,1969.9 1781.1,1968.9 1782.7,1968.0 1784.4,1967.0 1786.1,1966.1 1787.7,1965.2 1789.4,1964.2 1791.1,1963.3 1792.7,1962.3 1794.4,1961.4 1796.1,1960.5 1797.7,1959.5 1799.4,1958.6 1801.1,1957.7 1802.7,1956.8 1804.4,1955.8 1806.1,1954.9 1807.7,1954.0 1809.4,1953.1 1811.0,1952.2 1812.7,1951.2 1814.4,1950.3 1816.0,1949.4 1817.7,1948.5 1819.4,1947.6 1821.0,1946.7 1822.7,1945.8 1824.4,1944.9 1826.0,1944.0 1827.7,1943.2 1829.4,1942.3 1831.0,1941.4 1832.7,1940.5 1834.4,1939.6 1836.0,1938.8 1837.7,1937.9 1839.4,1937.1 1841.0,1936.2 1842.7,1935.4 1844.4,1934.5 1846.0,1933.7 1847.7,1932.9 1849.4,1932.0 1851.0,1931.2 1852.7,1930.4 1854.4,1929.5 1856.0,1928.7 1857.7,1927.9 1859.3,1927.1 1861.0,1926.2 1862.7,1925.4 1864.3,1924.6 1866.0,1923.8 1867.7,1923.0 1869.3,1922.1 1871.0,1921.3 1872.7,1920.5 1874.3,1919.7 1876.0,1918.8 1877.7,1918.0 1879.3,1917.2 1881.0,1916.3 1882.7,1915.5 1884.3,1914.6 1886.0,1913.8 1887.7,1913.0 1889.3,1912.1 1891.0,1911.3 1892.7,1910.4 1894.3,1909.6 1896.0,1908.8 1897.7,1907.9 1899.3,1907.1 1901.0,1906.3 1902.7,1905.4 1904.3,1904.6 1906.0,1903.8 1907.6,1903.0 1909.3,1902.1 1911.0,1901.3 1912.6,1900.5 1914.3,1899.7 1916.0,1898.9 1917.6,1898.2 1919.3,1897.4 1921.0,1896.6 1922.6,1895.8 1924.3,1895.1 1926.0,1894.3 1927.6,1893.5 1929.3,1892.7 1931.0,1891.8 1932.6,1891.0 1934.3,1890.2 1936.0,1889.3 1937.6,1888.5 1939.3,1887.6 1941.0,1886.7 1942.6,1885.9 1944.3,1885.0 1946.0,1884.1 1947.6,1883.2 1949.3,1882.3 1951.0,1881.4 1952.6,1880.4 1954.3,1879.5 1956.0,1878.5 1957.6,1877.5 1959.3,1876.5 1960.9,1875.5 1962.6,1874.4 1964.3,1873.3 1965.9,1872.2 1967.6,1871.1 1969.3,1870.0 1970.9,1868.8 1972.6,1867.7 1974.3,1866.5 1975.9,1865.4 1977.6,1864.3 1979.3,1863.2 1980.9,1862.1 1982.6,1861.0 1984.3,1859.9 1985.9,1858.9 1987.6,1857.8 1989.3,1856.9 1990.9,1855.9 1992.6,1855.0 1994.3,1854.1 1995.9,1853.3 1997.6,1852.5 1999.3,1851.7 2000.9,1851.0 2002.6,1850.2 2004.3,1849.5 2005.9,1848.7 2007.6,1848.0 2009.2,1847.3 2010.9,1846.6 2012.6,1846.0 2014.2,1845.3 2015.9,1844.7 2017.6,1844.0 2019.2,1843.4 2020.9,1842.9 2022.6,1842.3 2024.2,1841.7 2025.9,1841.2 2027.6,1840.7 2029.2,1840.2 2030.9,1839.7" fill="none" stroke="#E8321E" stroke-width="3.7" stroke-linejoin="round" stroke-linecap="round"/>
</svg>
</body></html>
